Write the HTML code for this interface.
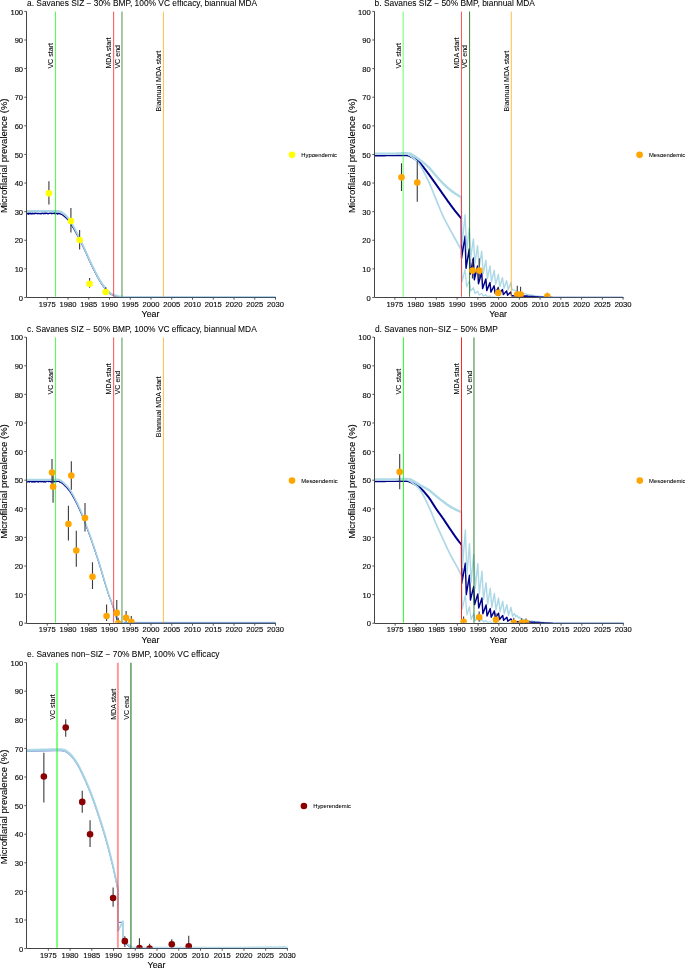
<!DOCTYPE html>
<html><head><meta charset="utf-8"><title>Microfilarial prevalence</title>
<style>
html,body{margin:0;padding:0;background:#fff;}
body{width:685px;height:968px;overflow:hidden;}
svg{display:block;will-change:transform;font-family:"Liberation Sans",sans-serif;}
text{stroke:#000;stroke-width:0.06px;}
.tk{stroke-width:0.15px;}
.at{stroke-width:0.1px;}
</style></head><body>
<svg width="685" height="968" viewBox="0 0 685 968">
<rect width="685" height="968" fill="#fff"/>
<clipPath id="cp1"><rect x="21.50" y="-0.60" width="329.00" height="297.38"/></clipPath>
<g clip-path="url(#cp1)">
<path d="M26.50 212.89 L26.91 213.65 L27.33 213.63 L27.74 213.81 L28.16 213.15 L28.57 214.23 L28.99 212.84 L29.40 213.71 L29.82 213.33 L30.23 213.53 L30.65 212.94 L31.06 214.15 L31.48 213.55 L31.89 213.58 L32.31 213.05 L32.72 213.82 L33.14 213.50 L33.55 213.75 L33.97 213.43 L34.38 213.24 L34.80 213.82 L35.21 213.05 L35.63 213.13 L36.04 213.27 L36.46 213.13 L36.87 213.68 L37.29 213.49 L37.70 213.77 L38.12 213.54 L38.53 213.26 L38.95 213.68 L39.36 213.58 L39.78 213.68 L40.19 213.73 L40.61 213.67 L41.02 213.45 L41.44 213.83 L41.85 213.36 L42.27 212.87 L42.68 213.19 L43.10 213.51 L43.51 213.75 L43.93 213.70 L44.34 212.86 L44.76 213.43 L45.17 213.66 L45.59 213.38 L46.00 212.72 L46.42 213.40 L46.83 213.23 L47.25 213.34 L47.66 213.56 L48.08 213.84 L48.49 213.56 L48.91 213.52 L49.32 213.24 L49.74 213.16 L50.15 213.12 L50.57 213.35 L50.98 213.14 L51.40 213.70 L51.81 213.01 L52.23 213.27 L52.64 213.55 L53.06 213.28 L53.47 213.47 L53.89 213.06 L54.30 212.92 L54.72 212.69 L55.13 213.92 L55.55 213.94 L55.96 213.62 L56.38 213.39 L56.79 213.14 L57.21 213.34 L57.62 214.14 L58.04 213.55 L58.45 213.18 L58.87 213.45 L59.28 213.37 L59.70 213.82 L60.11 213.87 L60.53 213.99 L60.94 214.13 L61.36 214.31 L61.77 214.53 L62.19 214.77 L62.60 215.03 L63.02 215.31 L63.43 215.60 L63.85 215.89 L64.26 216.20 L64.68 216.53 L65.09 216.88 L65.51 217.25 L65.92 217.64 L66.34 218.05 L66.75 218.47 L67.17 218.92 L67.58 219.38 L68.00 219.86 L68.41 220.35 L68.83 220.89 L69.24 221.46 L69.66 222.07 L70.07 222.70 L70.49 223.35 L70.90 224.02 L71.32 224.68 L71.73 225.34 L72.15 226.01 L72.56 226.67 L72.98 227.34 L73.39 228.02 L73.81 228.72 L74.22 229.43 L74.64 230.15 L75.05 230.88 L75.47 231.62 L75.88 232.36 L76.30 233.11 L76.71 233.87 L77.13 234.63 L77.54 235.41 L77.96 236.19 L78.37 236.98 L78.79 237.78 L79.20 238.59 L79.62 239.40 L80.03 240.22 L80.45 241.04 L80.86 241.87 L81.28 242.69 L81.69 243.52 L82.11 244.35 L82.52 245.19 L82.94 246.07 L83.35 246.96 L83.77 247.85 L84.18 248.75 L84.60 249.65 L85.01 250.55 L85.43 251.46 L85.84 252.37 L86.26 253.30 L86.67 254.24 L87.09 255.18 L87.50 256.13 L87.92 257.09 L88.33 258.04 L88.75 258.98 L89.16 259.91 L89.58 260.83 L89.99 261.73 L90.41 262.61 L90.82 263.49 L91.24 264.35 L91.65 265.21 L92.07 266.06 L92.48 266.91 L92.90 267.75 L93.31 268.58 L93.73 269.40 L94.14 270.23 L94.56 271.04 L94.97 271.85 L95.39 272.67 L95.80 273.48 L96.22 274.29 L96.63 275.10 L97.05 275.90 L97.46 276.69 L97.88 277.46 L98.29 278.22 L98.71 278.96 L99.12 279.67 L99.54 280.37 L99.95 281.05 L100.37 281.72 L100.78 282.37 L101.20 283.02 L101.61 283.65 L102.03 284.27 L102.44 284.87 L102.86 285.47 L103.27 286.05 L103.69 286.61 L104.10 287.17 L104.52 287.72 L104.93 288.27 L105.35 288.82 L105.76 289.35 L106.18 289.88 L106.59 290.39 L107.01 290.87 L107.42 291.33 L107.84 291.75 L108.25 292.14 L108.67 292.48 L109.08 292.81 L109.50 293.12 L109.91 293.42 L110.33 293.70 L110.74 293.97 L111.16 294.23 L111.57 294.47 L111.99 294.70 L112.40 294.92 L112.82 295.12 L113.23 295.31 L113.65 295.49 L114.06 295.66 L114.48 295.83 L114.89 295.99 L115.31 296.14 L115.72 296.29 L116.14 296.42 L116.55 296.55 L116.97 296.67 L117.38 296.78 L117.80 296.88 L118.21 296.97 L118.63 297.06 L119.04 297.15 L119.46 297.23 L119.87 297.31 L120.29 297.38 L120.70 297.44 L121.12 297.50 L121.53 297.50 L121.95 297.50 L122.36 297.50 L122.78 297.50 L123.19 297.50 L123.61 297.50 L124.02 297.50 L124.44 297.50 L124.85 297.50 L125.27 297.50 L125.68 297.50 L126.10 297.50 L126.51 297.50 L126.93 297.50 L127.34 297.50 L127.76 297.50 L128.17 297.50 L128.59 297.50 L129.00 297.50 L129.42 297.50 L129.83 297.50 L130.25 297.50 L130.66 297.50 L131.08 297.50 L131.49 297.50 L131.91 297.50 L132.32 297.50 L132.74 297.50 L133.15 297.50 L133.57 297.50 L133.98 297.50 L134.40 297.50 L134.81 297.50 L135.23 297.50 L135.64 297.50 L136.06 297.50 L136.47 297.50 L136.89 297.50 L137.30 297.50 L137.72 297.50 L138.13 297.50 L138.55 297.50 L138.96 297.50 L139.38 297.50 L139.79 297.50 L140.21 297.50 L140.62 297.50 L141.04 297.50 L141.45 297.50 L141.87 297.50 L142.28 297.50 L142.70 297.50 L143.11 297.50 L143.53 297.50 L143.94 297.50 L144.36 297.50 L144.77 297.50 L145.19 297.50 L145.60 297.50 L146.02 297.50 L146.43 297.50 L146.85 297.50 L147.26 297.50 L147.68 297.50 L148.09 297.50 L148.51 297.50 L148.92 297.50 L149.34 297.50 L149.75 297.50 L150.17 297.50 L150.58 297.50 L151.00 297.50 L151.41 297.50 L151.83 297.50 L152.24 297.50 L152.66 297.50 L153.07 297.50 L153.49 297.50 L153.90 297.50 L154.32 297.50 L154.73 297.50 L155.15 297.50 L155.56 297.50 L155.98 297.50 L156.39 297.50 L156.81 297.50 L157.22 297.50 L157.64 297.50 L158.05 297.50 L158.47 297.50 L158.88 297.50 L159.30 297.50 L159.71 297.50 L160.13 297.50 L160.54 297.50 L160.96 297.50 L161.37 297.50 L161.79 297.50 L162.20 297.50 L162.62 297.50 L163.03 297.50 L163.45 297.50 L163.86 297.50 L164.28 297.50 L164.69 297.50 L165.11 297.50 L165.52 297.50 L165.94 297.50 L166.35 297.50 L166.77 297.50 L167.18 297.50 L167.60 297.50 L168.01 297.50 L168.43 297.50 L168.84 297.50 L169.26 297.50 L169.67 297.50 L170.09 297.50 L170.50 297.50 L170.92 297.50 L171.33 297.50 L171.75 297.50 L172.16 297.50 L172.58 297.50 L172.99 297.50 L173.41 297.50 L173.82 297.50 L174.24 297.50 L174.65 297.50 L175.07 297.50 L175.48 297.50 L175.90 297.50 L176.31 297.50 L176.73 297.50 L177.14 297.50 L177.56 297.50 L177.97 297.50 L178.39 297.50 L178.80 297.50 L179.22 297.50 L179.63 297.50 L180.05 297.50 L180.46 297.50 L180.88 297.50 L181.29 297.50 L181.71 297.50 L182.12 297.50 L182.54 297.50 L182.95 297.50 L183.37 297.50 L183.78 297.50 L184.20 297.50 L184.61 297.50 L185.03 297.50 L185.44 297.50 L185.86 297.50 L186.27 297.50 L186.69 297.50 L187.10 297.50 L187.52 297.50 L187.93 297.50 L188.35 297.50 L188.76 297.50 L189.18 297.50 L189.59 297.50 L190.01 297.50 L190.42 297.50 L190.84 297.50 L191.25 297.50 L191.67 297.50 L192.08 297.50 L192.50 297.50 L192.91 297.50 L193.33 297.50 L193.74 297.50 L194.16 297.50 L194.57 297.50 L194.99 297.50 L195.40 297.50 L195.82 297.50 L196.23 297.50 L196.65 297.50 L197.06 297.50 L197.48 297.50 L197.89 297.50 L198.31 297.50 L198.72 297.50 L199.14 297.50 L199.55 297.50 L199.97 297.50 L200.38 297.50 L200.80 297.50 L201.21 297.50 L201.63 297.50 L202.04 297.50 L202.46 297.50 L202.87 297.50 L203.29 297.50 L203.70 297.50 L204.12 297.50 L204.53 297.50 L204.95 297.50 L205.36 297.50 L205.78 297.50 L206.19 297.50 L206.61 297.50 L207.02 297.50 L207.44 297.50 L207.85 297.50 L208.27 297.50 L208.68 297.50 L209.10 297.50 L209.51 297.50 L209.93 297.50 L210.34 297.50 L210.76 297.50 L211.17 297.50 L211.59 297.50 L212.00 297.50 L212.42 297.50 L212.83 297.50 L213.25 297.50 L213.66 297.50 L214.08 297.50 L214.49 297.50 L214.91 297.50 L215.32 297.50 L215.74 297.50 L216.15 297.50 L216.57 297.50 L216.98 297.50 L217.40 297.50 L217.81 297.50 L218.23 297.50 L218.64 297.50 L219.06 297.50 L219.47 297.50 L219.89 297.50 L220.30 297.50 L220.72 297.50 L221.13 297.50 L221.55 297.50 L221.96 297.50 L222.38 297.50 L222.79 297.50 L223.21 297.50 L223.62 297.50 L224.04 297.50 L224.45 297.50 L224.87 297.50 L225.28 297.50 L225.70 297.50 L226.11 297.50 L226.53 297.50 L226.94 297.50 L227.36 297.50 L227.77 297.50 L228.19 297.50 L228.60 297.50 L229.02 297.50 L229.43 297.50 L229.85 297.50 L230.26 297.50 L230.68 297.50 L231.09 297.50 L231.51 297.50 L231.92 297.50 L232.34 297.50 L232.75 297.50 L233.17 297.50 L233.58 297.50 L234.00 297.50 L234.41 297.50 L234.83 297.50 L235.24 297.50 L235.66 297.50 L236.07 297.50 L236.49 297.50 L236.90 297.50 L237.32 297.50 L237.73 297.50 L238.15 297.50 L238.56 297.50 L238.98 297.50 L239.39 297.50 L239.81 297.50 L240.22 297.50 L240.64 297.50 L241.05 297.50 L241.47 297.50 L241.88 297.50 L242.30 297.50 L242.71 297.50 L243.13 297.50 L243.54 297.50 L243.96 297.50 L244.37 297.50 L244.79 297.50 L245.20 297.50 L245.62 297.50 L246.03 297.50 L246.45 297.50 L246.86 297.50 L247.28 297.50 L247.69 297.50 L248.11 297.50 L248.52 297.50 L248.94 297.50 L249.35 297.50 L249.77 297.50 L250.18 297.50 L250.60 297.50 L251.01 297.50 L251.43 297.50 L251.84 297.50 L252.26 297.50 L252.67 297.50 L253.09 297.50 L253.50 297.50 L253.92 297.50 L254.33 297.50 L254.75 297.50 L255.16 297.50 L255.58 297.50 L255.99 297.50 L256.41 297.50 L256.82 297.50 L257.24 297.50 L257.65 297.50 L258.07 297.50 L258.48 297.50 L258.90 297.50 L259.31 297.50 L259.73 297.50 L260.14 297.50 L260.56 297.50 L260.97 297.50 L261.39 297.50 L261.80 297.50 L262.22 297.50 L262.63 297.50 L263.05 297.50 L263.46 297.50 L263.88 297.50 L264.29 297.50 L264.71 297.50 L265.12 297.50 L265.54 297.50 L265.95 297.50 L266.37 297.50 L266.78 297.50 L267.20 297.50 L267.61 297.50 L268.03 297.50 L268.44 297.50 L268.86 297.50 L269.27 297.50 L269.69 297.50 L270.10 297.50 L270.52 297.50 L270.93 297.50 L271.35 297.50 L271.76 297.50 L272.18 297.50 L272.59 297.50 L273.01 297.50 L273.42 297.50 L273.84 297.50 L274.25 297.50 L274.67 297.50 L275.08 297.50 L275.50 297.50" fill="none" stroke="#00008b" stroke-width="1.35" stroke-linejoin="round" />
<path d="M26.50 210.81 L26.91 210.81 L27.33 210.81 L27.74 210.81 L28.16 210.81 L28.57 210.81 L28.99 210.81 L29.40 210.81 L29.82 210.81 L30.23 210.81 L30.65 210.81 L31.06 210.81 L31.48 210.81 L31.89 210.81 L32.31 210.81 L32.72 210.81 L33.14 210.81 L33.55 210.81 L33.97 210.81 L34.38 210.81 L34.80 210.81 L35.21 210.81 L35.63 210.81 L36.04 210.81 L36.46 210.81 L36.87 210.81 L37.29 210.81 L37.70 210.81 L38.12 210.81 L38.53 210.81 L38.95 210.81 L39.36 210.81 L39.78 210.81 L40.19 210.81 L40.61 210.81 L41.02 210.81 L41.44 210.81 L41.85 210.81 L42.27 210.81 L42.68 210.81 L43.10 210.81 L43.51 210.81 L43.93 210.81 L44.34 210.81 L44.76 210.81 L45.17 210.81 L45.59 210.81 L46.00 210.81 L46.42 210.81 L46.83 210.81 L47.25 210.81 L47.66 210.81 L48.08 210.81 L48.49 210.81 L48.91 210.81 L49.32 210.81 L49.74 210.81 L50.15 210.81 L50.57 210.81 L50.98 210.81 L51.40 210.81 L51.81 210.81 L52.23 210.81 L52.64 210.81 L53.06 210.81 L53.47 210.81 L53.89 210.81 L54.30 210.81 L54.72 210.81 L55.13 210.81 L55.55 210.81 L55.96 210.81 L56.38 210.81 L56.79 210.81 L57.21 210.81 L57.62 210.81 L58.04 210.81 L58.45 210.84 L58.87 210.90 L59.28 211.00 L59.70 211.12 L60.11 211.25 L60.53 211.38 L60.94 211.54 L61.36 211.73 L61.77 211.96 L62.19 212.21 L62.60 212.49 L63.02 212.78 L63.43 213.08 L63.85 213.39 L64.26 213.71 L64.68 214.05 L65.09 214.41 L65.51 214.79 L65.92 215.20 L66.34 215.62 L66.75 216.06 L67.17 216.51 L67.58 216.99 L68.00 217.48 L68.41 217.99 L68.83 218.54 L69.24 219.12 L69.66 219.74 L70.07 220.39 L70.49 221.05 L70.90 221.74 L71.32 222.43 L71.73 223.14 L72.15 223.84 L72.56 224.54 L72.98 225.25 L73.39 225.98 L73.81 226.71 L74.22 227.46 L74.64 228.23 L75.05 229.00 L75.47 229.78 L75.88 230.56 L76.30 231.36 L76.71 232.15 L77.13 232.96 L77.54 233.77 L77.96 234.59 L78.37 235.43 L78.79 236.27 L79.20 237.12 L79.62 237.97 L80.03 238.83 L80.45 239.69 L80.86 240.56 L81.28 241.42 L81.69 242.29 L82.11 243.17 L82.52 244.05 L82.94 244.93 L83.35 245.82 L83.77 246.71 L84.18 247.61 L84.60 248.51 L85.01 249.41 L85.43 250.32 L85.84 251.23 L86.26 252.16 L86.67 253.10 L87.09 254.05 L87.50 255.00 L87.92 255.95 L88.33 256.90 L88.75 257.84 L89.16 258.78 L89.58 259.69 L89.99 260.59 L90.41 261.48 L90.82 262.35 L91.24 263.22 L91.65 264.08 L92.07 264.93 L92.48 265.78 L92.90 266.62 L93.31 267.45 L93.73 268.28 L94.14 269.10 L94.56 269.91 L94.97 270.73 L95.39 271.54 L95.80 272.36 L96.22 273.17 L96.63 273.98 L97.05 274.78 L97.46 275.56 L97.88 276.34 L98.29 277.10 L98.71 277.84 L99.12 278.55 L99.54 279.25 L99.95 279.93 L100.37 280.60 L100.78 281.26 L101.20 281.90 L101.61 282.53 L102.03 283.15 L102.44 283.76 L102.86 284.35 L103.27 284.93 L103.69 285.50 L104.10 286.06 L104.52 286.61 L104.93 287.16 L105.35 287.71 L105.76 288.24 L106.18 288.77 L106.59 289.28 L107.01 289.76 L107.42 290.22 L107.84 290.64 L108.25 291.03 L108.67 291.38 L109.08 291.70 L109.50 292.02 L109.91 292.31 L110.33 292.60 L110.74 292.87 L111.16 293.13 L111.57 293.37 L111.99 293.60 L112.40 293.82 L112.82 294.02 L113.23 294.21 L113.65 294.39 L114.06 294.57 L114.48 294.73 L114.89 294.89 L115.31 295.05 L115.72 295.19 L116.14 295.33 L116.55 295.46 L116.97 295.57 L117.38 295.68 L117.80 295.78 L118.21 295.88 L118.63 295.97 L119.04 296.06 L119.46 296.14 L119.87 296.22 L120.29 296.29 L120.70 296.35 L121.12 296.41 L121.53 296.46 L121.95 296.50 L122.36 296.53 L122.78 296.57 L123.19 296.60 L123.61 296.62 L124.02 296.64 L124.44 296.64 L124.85 296.64 L125.27 296.64 L125.68 296.64 L126.10 296.64 L126.51 296.64 L126.93 296.64 L127.34 296.64 L127.76 296.64 L128.17 296.64 L128.59 296.64 L129.00 296.64 L129.42 296.64 L129.83 296.64 L130.25 296.64 L130.66 296.64 L131.08 296.64 L131.49 296.64 L131.91 296.64 L132.32 296.64 L132.74 296.64 L133.15 296.64 L133.57 296.64 L133.98 296.64 L134.40 296.64 L134.81 296.64 L135.23 296.64 L135.64 296.64 L136.06 296.64 L136.47 296.64 L136.89 296.64 L137.30 296.64 L137.72 296.64 L138.13 296.64 L138.55 296.64 L138.96 296.64 L139.38 296.64 L139.79 296.64 L140.21 296.64 L140.62 296.64 L141.04 296.64 L141.45 296.64 L141.87 296.64 L142.28 296.64 L142.70 296.64 L143.11 296.64 L143.53 296.64 L143.94 296.64 L144.36 296.64 L144.77 296.64 L145.19 296.64 L145.60 296.64 L146.02 296.64 L146.43 296.64 L146.85 296.64 L147.26 296.64 L147.68 296.64 L148.09 296.64 L148.51 296.64 L148.92 296.64 L149.34 296.64 L149.75 296.64 L150.17 296.64 L150.58 296.64 L151.00 296.64 L151.41 296.64 L151.83 296.64 L152.24 296.64 L152.66 296.64 L153.07 296.64 L153.49 296.64 L153.90 296.64 L154.32 296.64 L154.73 296.64 L155.15 296.64 L155.56 296.64 L155.98 296.64 L156.39 296.64 L156.81 296.64 L157.22 296.64 L157.64 296.64 L158.05 296.64 L158.47 296.64 L158.88 296.64 L159.30 296.64 L159.71 296.64 L160.13 296.64 L160.54 296.64 L160.96 296.64 L161.37 296.64 L161.79 296.64 L162.20 296.64 L162.62 296.64 L163.03 296.64 L163.45 296.64 L163.86 296.64 L164.28 296.64 L164.69 296.64 L165.11 296.64 L165.52 296.64 L165.94 296.64 L166.35 296.64 L166.77 296.64 L167.18 296.64 L167.60 296.64 L168.01 296.64 L168.43 296.64 L168.84 296.64 L169.26 296.64 L169.67 296.64 L170.09 296.64 L170.50 296.64 L170.92 296.64 L171.33 296.64 L171.75 296.64 L172.16 296.64 L172.58 296.64 L172.99 296.64 L173.41 296.64 L173.82 296.64 L174.24 296.64 L174.65 296.64 L175.07 296.64 L175.48 296.64 L175.90 296.64 L176.31 296.64 L176.73 296.64 L177.14 296.64 L177.56 296.64 L177.97 296.64 L178.39 296.64 L178.80 296.64 L179.22 296.64 L179.63 296.64 L180.05 296.64 L180.46 296.64 L180.88 296.64 L181.29 296.64 L181.71 296.64 L182.12 296.64 L182.54 296.64 L182.95 296.64 L183.37 296.64 L183.78 296.64 L184.20 296.64 L184.61 296.64 L185.03 296.64 L185.44 296.64 L185.86 296.64 L186.27 296.64 L186.69 296.64 L187.10 296.64 L187.52 296.64 L187.93 296.64 L188.35 296.64 L188.76 296.64 L189.18 296.64 L189.59 296.64 L190.01 296.64 L190.42 296.64 L190.84 296.64 L191.25 296.64 L191.67 296.64 L192.08 296.64 L192.50 296.64 L192.91 296.64 L193.33 296.64 L193.74 296.64 L194.16 296.64 L194.57 296.64 L194.99 296.64 L195.40 296.64 L195.82 296.64 L196.23 296.64 L196.65 296.64 L197.06 296.64 L197.48 296.64 L197.89 296.64 L198.31 296.64 L198.72 296.64 L199.14 296.64 L199.55 296.64 L199.97 296.64 L200.38 296.64 L200.80 296.64 L201.21 296.64 L201.63 296.64 L202.04 296.64 L202.46 296.64 L202.87 296.64 L203.29 296.64 L203.70 296.64 L204.12 296.64 L204.53 296.64 L204.95 296.64 L205.36 296.64 L205.78 296.64 L206.19 296.64 L206.61 296.64 L207.02 296.64 L207.44 296.64 L207.85 296.64 L208.27 296.64 L208.68 296.64 L209.10 296.64 L209.51 296.64 L209.93 296.64 L210.34 296.64 L210.76 296.64 L211.17 296.64 L211.59 296.64 L212.00 296.64 L212.42 296.64 L212.83 296.64 L213.25 296.64 L213.66 296.64 L214.08 296.64 L214.49 296.64 L214.91 296.64 L215.32 296.64 L215.74 296.64 L216.15 296.64 L216.57 296.64 L216.98 296.64 L217.40 296.64 L217.81 296.64 L218.23 296.64 L218.64 296.64 L219.06 296.64 L219.47 296.64 L219.89 296.64 L220.30 296.64 L220.72 296.64 L221.13 296.64 L221.55 296.64 L221.96 296.64 L222.38 296.64 L222.79 296.64 L223.21 296.64 L223.62 296.64 L224.04 296.64 L224.45 296.64 L224.87 296.64 L225.28 296.64 L225.70 296.64 L226.11 296.64 L226.53 296.64 L226.94 296.64 L227.36 296.64 L227.77 296.64 L228.19 296.64 L228.60 296.64 L229.02 296.64 L229.43 296.64 L229.85 296.64 L230.26 296.64 L230.68 296.64 L231.09 296.64 L231.51 296.64 L231.92 296.64 L232.34 296.64 L232.75 296.64 L233.17 296.64 L233.58 296.64 L234.00 296.64 L234.41 296.64 L234.83 296.64 L235.24 296.64 L235.66 296.64 L236.07 296.64 L236.49 296.64 L236.90 296.64 L237.32 296.64 L237.73 296.64 L238.15 296.64 L238.56 296.64 L238.98 296.64 L239.39 296.64 L239.81 296.64 L240.22 296.64 L240.64 296.64 L241.05 296.64 L241.47 296.64 L241.88 296.64 L242.30 296.64 L242.71 296.64 L243.13 296.64 L243.54 296.64 L243.96 296.64 L244.37 296.64 L244.79 296.64 L245.20 296.64 L245.62 296.64 L246.03 296.64 L246.45 296.64 L246.86 296.64 L247.28 296.64 L247.69 296.64 L248.11 296.64 L248.52 296.64 L248.94 296.64 L249.35 296.64 L249.77 296.64 L250.18 296.64 L250.60 296.64 L251.01 296.64 L251.43 296.64 L251.84 296.64 L252.26 296.64 L252.67 296.64 L253.09 296.64 L253.50 296.64 L253.92 296.64 L254.33 296.64 L254.75 296.64 L255.16 296.64 L255.58 296.64 L255.99 296.64 L256.41 296.64 L256.82 296.64 L257.24 296.64 L257.65 296.64 L258.07 296.64 L258.48 296.64 L258.90 296.64 L259.31 296.64 L259.73 296.64 L260.14 296.64 L260.56 296.64 L260.97 296.64 L261.39 296.64 L261.80 296.64 L262.22 296.64 L262.63 296.64 L263.05 296.64 L263.46 296.64 L263.88 296.64 L264.29 296.64 L264.71 296.64 L265.12 296.64 L265.54 296.64 L265.95 296.64 L266.37 296.64 L266.78 296.64 L267.20 296.64 L267.61 296.64 L268.03 296.64 L268.44 296.64 L268.86 296.64 L269.27 296.64 L269.69 296.64 L270.10 296.64 L270.52 296.64 L270.93 296.64 L271.35 296.64 L271.76 296.64 L272.18 296.64 L272.59 296.64 L273.01 296.64 L273.42 296.64 L273.84 296.64 L274.25 296.64 L274.67 296.64 L275.08 296.64 L275.50 296.64" fill="none" stroke="#add8e6" stroke-width="1.50" stroke-linejoin="round" />
<path d="M26.50 211.81 L26.91 211.81 L27.33 211.81 L27.74 211.81 L28.16 211.81 L28.57 211.81 L28.99 211.81 L29.40 211.81 L29.82 211.81 L30.23 211.81 L30.65 211.81 L31.06 211.81 L31.48 211.81 L31.89 211.81 L32.31 211.81 L32.72 211.81 L33.14 211.81 L33.55 211.81 L33.97 211.81 L34.38 211.81 L34.80 211.81 L35.21 211.81 L35.63 211.81 L36.04 211.81 L36.46 211.81 L36.87 211.81 L37.29 211.81 L37.70 211.81 L38.12 211.81 L38.53 211.81 L38.95 211.81 L39.36 211.81 L39.78 211.81 L40.19 211.81 L40.61 211.81 L41.02 211.81 L41.44 211.81 L41.85 211.81 L42.27 211.81 L42.68 211.81 L43.10 211.81 L43.51 211.81 L43.93 211.81 L44.34 211.81 L44.76 211.81 L45.17 211.81 L45.59 211.81 L46.00 211.81 L46.42 211.81 L46.83 211.81 L47.25 211.81 L47.66 211.81 L48.08 211.81 L48.49 211.81 L48.91 211.81 L49.32 211.81 L49.74 211.81 L50.15 211.81 L50.57 211.81 L50.98 211.81 L51.40 211.81 L51.81 211.81 L52.23 211.81 L52.64 211.81 L53.06 211.81 L53.47 211.81 L53.89 211.81 L54.30 211.81 L54.72 211.81 L55.13 211.81 L55.55 211.81 L55.96 211.81 L56.38 211.81 L56.79 211.81 L57.21 211.81 L57.62 211.81 L58.04 211.81 L58.45 211.84 L58.87 211.90 L59.28 212.00 L59.70 212.12 L60.11 212.25 L60.53 212.39 L60.94 212.54 L61.36 212.73 L61.77 212.96 L62.19 213.21 L62.60 213.49 L63.02 213.78 L63.43 214.08 L63.85 214.39 L64.26 214.71 L64.68 215.05 L65.09 215.41 L65.51 215.79 L65.92 216.20 L66.34 216.62 L66.75 217.06 L67.17 217.52 L67.58 217.99 L68.00 218.48 L68.41 218.99 L68.83 219.54 L69.24 220.12 L69.66 220.74 L70.07 221.39 L70.49 222.05 L70.90 222.74 L71.32 223.43 L71.73 224.14 L72.15 224.84 L72.56 225.55 L72.98 226.25 L73.39 226.98 L73.81 227.72 L74.22 228.47 L74.64 229.23 L75.05 230.00 L75.47 230.78 L75.88 231.56 L76.30 232.36 L76.71 233.16 L77.13 233.96 L77.54 234.77 L77.96 235.60 L78.37 236.43 L78.79 237.27 L79.20 238.12 L79.62 238.97 L80.03 239.83 L80.45 240.69 L80.86 241.56 L81.28 242.43 L81.69 243.30 L82.11 244.17 L82.52 245.05 L82.94 245.93 L83.35 246.82 L83.77 247.71 L84.18 248.61 L84.60 249.51 L85.01 250.41 L85.43 251.32 L85.84 252.23 L86.26 253.16 L86.67 254.10 L87.09 255.05 L87.50 256.00 L87.92 256.95 L88.33 257.90 L88.75 258.84 L89.16 259.78 L89.58 260.69 L89.99 261.59 L90.41 262.48 L90.82 263.36 L91.24 264.22 L91.65 265.08 L92.07 265.94 L92.48 266.78 L92.90 267.62 L93.31 268.45 L93.73 269.28 L94.14 270.10 L94.56 270.92 L94.97 271.73 L95.39 272.54 L95.80 273.36 L96.22 274.17 L96.63 274.98 L97.05 275.78 L97.46 276.57 L97.88 277.34 L98.29 278.10 L98.71 278.84 L99.12 279.56 L99.54 280.25 L99.95 280.93 L100.37 281.60 L100.78 282.26 L101.20 282.90 L101.61 283.53 L102.03 284.15 L102.44 284.76 L102.86 285.35 L103.27 285.94 L103.69 286.50 L104.10 287.06 L104.52 287.61 L104.93 288.16 L105.35 288.71 L105.76 289.25 L106.18 289.77 L106.59 290.28 L107.01 290.77 L107.42 291.22 L107.84 291.65 L108.25 292.03 L108.67 292.38 L109.08 292.70 L109.50 293.02 L109.91 293.32 L110.33 293.60 L110.74 293.87 L111.16 294.13 L111.57 294.37 L111.99 294.60 L112.40 294.82 L112.82 295.02 L113.23 295.21 L113.65 295.39 L114.06 295.57 L114.48 295.73 L114.89 295.90 L115.31 296.05 L115.72 296.19 L116.14 296.33 L116.55 296.46 L116.97 296.58 L117.38 296.68 L117.80 296.78 L118.21 296.88 L118.63 296.97 L119.04 297.06 L119.46 297.14 L119.87 297.22 L120.29 297.29 L120.70 297.35 L121.12 297.41 L121.53 297.46 L121.95 297.50 L122.36 297.50 L122.78 297.50 L123.19 297.50 L123.61 297.50 L124.02 297.50 L124.44 297.50 L124.85 297.50 L125.27 297.50 L125.68 297.50 L126.10 297.50 L126.51 297.50 L126.93 297.50 L127.34 297.50 L127.76 297.50 L128.17 297.50 L128.59 297.50 L129.00 297.50 L129.42 297.50 L129.83 297.50 L130.25 297.50 L130.66 297.50 L131.08 297.50 L131.49 297.50 L131.91 297.50 L132.32 297.50 L132.74 297.50 L133.15 297.50 L133.57 297.50 L133.98 297.50 L134.40 297.50 L134.81 297.50 L135.23 297.50 L135.64 297.50 L136.06 297.50 L136.47 297.50 L136.89 297.50 L137.30 297.50 L137.72 297.50 L138.13 297.50 L138.55 297.50 L138.96 297.50 L139.38 297.50 L139.79 297.50 L140.21 297.50 L140.62 297.50 L141.04 297.50 L141.45 297.50 L141.87 297.50 L142.28 297.50 L142.70 297.50 L143.11 297.50 L143.53 297.50 L143.94 297.50 L144.36 297.50 L144.77 297.50 L145.19 297.50 L145.60 297.50 L146.02 297.50 L146.43 297.50 L146.85 297.50 L147.26 297.50 L147.68 297.50 L148.09 297.50 L148.51 297.50 L148.92 297.50 L149.34 297.50 L149.75 297.50 L150.17 297.50 L150.58 297.50 L151.00 297.50 L151.41 297.50 L151.83 297.50 L152.24 297.50 L152.66 297.50 L153.07 297.50 L153.49 297.50 L153.90 297.50 L154.32 297.50 L154.73 297.50 L155.15 297.50 L155.56 297.50 L155.98 297.50 L156.39 297.50 L156.81 297.50 L157.22 297.50 L157.64 297.50 L158.05 297.50 L158.47 297.50 L158.88 297.50 L159.30 297.50 L159.71 297.50 L160.13 297.50 L160.54 297.50 L160.96 297.50 L161.37 297.50 L161.79 297.50 L162.20 297.50 L162.62 297.50 L163.03 297.50 L163.45 297.50 L163.86 297.50 L164.28 297.50 L164.69 297.50 L165.11 297.50 L165.52 297.50 L165.94 297.50 L166.35 297.50 L166.77 297.50 L167.18 297.50 L167.60 297.50 L168.01 297.50 L168.43 297.50 L168.84 297.50 L169.26 297.50 L169.67 297.50 L170.09 297.50 L170.50 297.50 L170.92 297.50 L171.33 297.50 L171.75 297.50 L172.16 297.50 L172.58 297.50 L172.99 297.50 L173.41 297.50 L173.82 297.50 L174.24 297.50 L174.65 297.50 L175.07 297.50 L175.48 297.50 L175.90 297.50 L176.31 297.50 L176.73 297.50 L177.14 297.50 L177.56 297.50 L177.97 297.50 L178.39 297.50 L178.80 297.50 L179.22 297.50 L179.63 297.50 L180.05 297.50 L180.46 297.50 L180.88 297.50 L181.29 297.50 L181.71 297.50 L182.12 297.50 L182.54 297.50 L182.95 297.50 L183.37 297.50 L183.78 297.50 L184.20 297.50 L184.61 297.50 L185.03 297.50 L185.44 297.50 L185.86 297.50 L186.27 297.50 L186.69 297.50 L187.10 297.50 L187.52 297.50 L187.93 297.50 L188.35 297.50 L188.76 297.50 L189.18 297.50 L189.59 297.50 L190.01 297.50 L190.42 297.50 L190.84 297.50 L191.25 297.50 L191.67 297.50 L192.08 297.50 L192.50 297.50 L192.91 297.50 L193.33 297.50 L193.74 297.50 L194.16 297.50 L194.57 297.50 L194.99 297.50 L195.40 297.50 L195.82 297.50 L196.23 297.50 L196.65 297.50 L197.06 297.50 L197.48 297.50 L197.89 297.50 L198.31 297.50 L198.72 297.50 L199.14 297.50 L199.55 297.50 L199.97 297.50 L200.38 297.50 L200.80 297.50 L201.21 297.50 L201.63 297.50 L202.04 297.50 L202.46 297.50 L202.87 297.50 L203.29 297.50 L203.70 297.50 L204.12 297.50 L204.53 297.50 L204.95 297.50 L205.36 297.50 L205.78 297.50 L206.19 297.50 L206.61 297.50 L207.02 297.50 L207.44 297.50 L207.85 297.50 L208.27 297.50 L208.68 297.50 L209.10 297.50 L209.51 297.50 L209.93 297.50 L210.34 297.50 L210.76 297.50 L211.17 297.50 L211.59 297.50 L212.00 297.50 L212.42 297.50 L212.83 297.50 L213.25 297.50 L213.66 297.50 L214.08 297.50 L214.49 297.50 L214.91 297.50 L215.32 297.50 L215.74 297.50 L216.15 297.50 L216.57 297.50 L216.98 297.50 L217.40 297.50 L217.81 297.50 L218.23 297.50 L218.64 297.50 L219.06 297.50 L219.47 297.50 L219.89 297.50 L220.30 297.50 L220.72 297.50 L221.13 297.50 L221.55 297.50 L221.96 297.50 L222.38 297.50 L222.79 297.50 L223.21 297.50 L223.62 297.50 L224.04 297.50 L224.45 297.50 L224.87 297.50 L225.28 297.50 L225.70 297.50 L226.11 297.50 L226.53 297.50 L226.94 297.50 L227.36 297.50 L227.77 297.50 L228.19 297.50 L228.60 297.50 L229.02 297.50 L229.43 297.50 L229.85 297.50 L230.26 297.50 L230.68 297.50 L231.09 297.50 L231.51 297.50 L231.92 297.50 L232.34 297.50 L232.75 297.50 L233.17 297.50 L233.58 297.50 L234.00 297.50 L234.41 297.50 L234.83 297.50 L235.24 297.50 L235.66 297.50 L236.07 297.50 L236.49 297.50 L236.90 297.50 L237.32 297.50 L237.73 297.50 L238.15 297.50 L238.56 297.50 L238.98 297.50 L239.39 297.50 L239.81 297.50 L240.22 297.50 L240.64 297.50 L241.05 297.50 L241.47 297.50 L241.88 297.50 L242.30 297.50 L242.71 297.50 L243.13 297.50 L243.54 297.50 L243.96 297.50 L244.37 297.50 L244.79 297.50 L245.20 297.50 L245.62 297.50 L246.03 297.50 L246.45 297.50 L246.86 297.50 L247.28 297.50 L247.69 297.50 L248.11 297.50 L248.52 297.50 L248.94 297.50 L249.35 297.50 L249.77 297.50 L250.18 297.50 L250.60 297.50 L251.01 297.50 L251.43 297.50 L251.84 297.50 L252.26 297.50 L252.67 297.50 L253.09 297.50 L253.50 297.50 L253.92 297.50 L254.33 297.50 L254.75 297.50 L255.16 297.50 L255.58 297.50 L255.99 297.50 L256.41 297.50 L256.82 297.50 L257.24 297.50 L257.65 297.50 L258.07 297.50 L258.48 297.50 L258.90 297.50 L259.31 297.50 L259.73 297.50 L260.14 297.50 L260.56 297.50 L260.97 297.50 L261.39 297.50 L261.80 297.50 L262.22 297.50 L262.63 297.50 L263.05 297.50 L263.46 297.50 L263.88 297.50 L264.29 297.50 L264.71 297.50 L265.12 297.50 L265.54 297.50 L265.95 297.50 L266.37 297.50 L266.78 297.50 L267.20 297.50 L267.61 297.50 L268.03 297.50 L268.44 297.50 L268.86 297.50 L269.27 297.50 L269.69 297.50 L270.10 297.50 L270.52 297.50 L270.93 297.50 L271.35 297.50 L271.76 297.50 L272.18 297.50 L272.59 297.50 L273.01 297.50 L273.42 297.50 L273.84 297.50 L274.25 297.50 L274.67 297.50 L275.08 297.50 L275.50 297.50" fill="none" stroke="#a3cfe4" stroke-width="1.40" stroke-linejoin="round" />
<path d="M121.95 297.50 L275.50 297.50" fill="none" stroke="#00008b" stroke-width="0.90" stroke-linejoin="round" />
<path d="M55.55 11.60 V298.50" stroke="#00ff00" stroke-width="1.00" stroke-opacity="0.72"/>
<text transform="translate(53.35 68.62) rotate(-90)" font-size="7.10" fill="#000">VC start</text>
<path d="M113.65 11.60 V298.50" stroke="#ff0000" stroke-width="1.00" stroke-opacity="0.70"/>
<text transform="translate(111.45 68.62) rotate(-90)" font-size="7.10" fill="#000">MDA start</text>
<path d="M121.95 11.60 V298.50" stroke="#006400" stroke-width="1.75" stroke-opacity="0.40"/>
<text transform="translate(119.75 68.62) rotate(-90)" font-size="7.10" fill="#000">VC end</text>
<path d="M163.45 11.60 V298.50" stroke="#ffa500" stroke-width="1.00" stroke-opacity="0.70"/>
<text transform="translate(161.25 111.53) rotate(-90)" font-size="7.10" fill="#000">Biannual MDA start</text>
<path d="M48.91 181.34 V204.52" stroke="#3a3a3a" stroke-width="1.1"/>
<path d="M70.91 207.95 V232.56" stroke="#3a3a3a" stroke-width="1.1"/>
<path d="M79.62 229.98 V249.44" stroke="#3a3a3a" stroke-width="1.1"/>
<path d="M89.58 278.05 V287.77" stroke="#3a3a3a" stroke-width="1.1"/>
<path d="M105.76 287.20 V294.64" stroke="#3a3a3a" stroke-width="1.1"/>
<circle cx="48.91" cy="193.36" r="3.30" fill="#ffff00"/>
<circle cx="70.91" cy="221.11" r="3.30" fill="#ffff00"/>
<circle cx="79.62" cy="239.99" r="3.30" fill="#ffff00"/>
<circle cx="89.58" cy="283.77" r="3.30" fill="#ffff00"/>
<circle cx="105.76" cy="292.06" r="3.30" fill="#ffff00"/>
</g>
<path d="M26.50 11.20 V297.50 H275.90" fill="none" stroke="#444" stroke-width="1"/>
<path d="M26.00 297.50 h-1.7" stroke="#444" stroke-width="0.9"/>
<text x="23.10" y="300.70" font-size="7.60" text-anchor="end" fill="#111" class="tk">0</text>
<path d="M26.00 268.89 h-1.7" stroke="#444" stroke-width="0.9"/>
<text x="23.10" y="272.09" font-size="7.60" text-anchor="end" fill="#111" class="tk">10</text>
<path d="M26.00 240.28 h-1.7" stroke="#444" stroke-width="0.9"/>
<text x="23.10" y="243.48" font-size="7.60" text-anchor="end" fill="#111" class="tk">20</text>
<path d="M26.00 211.67 h-1.7" stroke="#444" stroke-width="0.9"/>
<text x="23.10" y="214.87" font-size="7.60" text-anchor="end" fill="#111" class="tk">30</text>
<path d="M26.00 183.06 h-1.7" stroke="#444" stroke-width="0.9"/>
<text x="23.10" y="186.26" font-size="7.60" text-anchor="end" fill="#111" class="tk">40</text>
<path d="M26.00 154.45 h-1.7" stroke="#444" stroke-width="0.9"/>
<text x="23.10" y="157.65" font-size="7.60" text-anchor="end" fill="#111" class="tk">50</text>
<path d="M26.00 125.84 h-1.7" stroke="#444" stroke-width="0.9"/>
<text x="23.10" y="129.04" font-size="7.60" text-anchor="end" fill="#111" class="tk">60</text>
<path d="M26.00 97.23 h-1.7" stroke="#444" stroke-width="0.9"/>
<text x="23.10" y="100.43" font-size="7.60" text-anchor="end" fill="#111" class="tk">70</text>
<path d="M26.00 68.62 h-1.7" stroke="#444" stroke-width="0.9"/>
<text x="23.10" y="71.82" font-size="7.60" text-anchor="end" fill="#111" class="tk">80</text>
<path d="M26.00 40.01 h-1.7" stroke="#444" stroke-width="0.9"/>
<text x="23.10" y="43.21" font-size="7.60" text-anchor="end" fill="#111" class="tk">90</text>
<path d="M26.00 11.40 h-1.7" stroke="#444" stroke-width="0.9"/>
<text x="23.10" y="14.60" font-size="7.60" text-anchor="end" fill="#111" class="tk">100</text>
<path d="M47.25 298.00 v1.7" stroke="#444" stroke-width="0.9"/>
<text x="47.25" y="306.75" font-size="7.60" text-anchor="middle" fill="#111" class="tk">1975</text>
<path d="M68.00 298.00 v1.7" stroke="#444" stroke-width="0.9"/>
<text x="68.00" y="306.75" font-size="7.60" text-anchor="middle" fill="#111" class="tk">1980</text>
<path d="M88.75 298.00 v1.7" stroke="#444" stroke-width="0.9"/>
<text x="88.75" y="306.75" font-size="7.60" text-anchor="middle" fill="#111" class="tk">1985</text>
<path d="M109.50 298.00 v1.7" stroke="#444" stroke-width="0.9"/>
<text x="109.50" y="306.75" font-size="7.60" text-anchor="middle" fill="#111" class="tk">1990</text>
<path d="M130.25 298.00 v1.7" stroke="#444" stroke-width="0.9"/>
<text x="130.25" y="306.75" font-size="7.60" text-anchor="middle" fill="#111" class="tk">1995</text>
<path d="M151.00 298.00 v1.7" stroke="#444" stroke-width="0.9"/>
<text x="151.00" y="306.75" font-size="7.60" text-anchor="middle" fill="#111" class="tk">2000</text>
<path d="M171.75 298.00 v1.7" stroke="#444" stroke-width="0.9"/>
<text x="171.75" y="306.75" font-size="7.60" text-anchor="middle" fill="#111" class="tk">2005</text>
<path d="M192.50 298.00 v1.7" stroke="#444" stroke-width="0.9"/>
<text x="192.50" y="306.75" font-size="7.60" text-anchor="middle" fill="#111" class="tk">2010</text>
<path d="M213.25 298.00 v1.7" stroke="#444" stroke-width="0.9"/>
<text x="213.25" y="306.75" font-size="7.60" text-anchor="middle" fill="#111" class="tk">2015</text>
<path d="M234.00 298.00 v1.7" stroke="#444" stroke-width="0.9"/>
<text x="234.00" y="306.75" font-size="7.60" text-anchor="middle" fill="#111" class="tk">2020</text>
<path d="M254.75 298.00 v1.7" stroke="#444" stroke-width="0.9"/>
<text x="254.75" y="306.75" font-size="7.60" text-anchor="middle" fill="#111" class="tk">2025</text>
<path d="M275.50 298.00 v1.7" stroke="#444" stroke-width="0.9"/>
<text x="275.50" y="306.75" font-size="7.60" text-anchor="middle" fill="#111" class="tk">2030</text>
<text x="150.50" y="316.80" font-size="8.80" text-anchor="middle" fill="#000" class="at">Year</text>
<text transform="translate(7.20 155.75) rotate(-90)" font-size="9.50" text-anchor="middle" fill="#000" class="at">Microfilarial prevalence (%)</text>
<text x="27.00" y="6.30" font-size="8.40" fill="#000">a. Savanes SIZ − 30% BMP, 100% VC efficacy, biannual MDA</text>
<path d="M121.95 297.50 H275.90" stroke="#415163" stroke-width="1"/>
<circle cx="292.00" cy="154.85" r="3.3" fill="#ffff00"/>
<text x="301.30" y="157.05" font-size="5.85" fill="#000">Hypoendemic</text>
<clipPath id="cp2"><rect x="369.10" y="-0.60" width="329.00" height="297.38"/></clipPath>
<g clip-path="url(#cp2)">
<path d="M374.10 155.74 L374.51 155.74 L374.93 155.74 L375.34 155.73 L375.76 155.73 L376.17 155.73 L376.59 155.73 L377.00 155.73 L377.42 155.73 L377.83 155.72 L378.25 155.72 L378.66 155.72 L379.08 155.72 L379.49 155.72 L379.91 155.71 L380.32 155.71 L380.74 155.71 L381.15 155.71 L381.57 155.70 L381.98 155.70 L382.40 155.70 L382.81 155.69 L383.23 155.69 L383.64 155.69 L384.06 155.69 L384.47 155.68 L384.89 155.68 L385.30 155.68 L385.72 155.67 L386.13 155.67 L386.55 155.67 L386.96 155.66 L387.38 155.66 L387.79 155.66 L388.21 155.65 L388.62 155.65 L389.04 155.65 L389.45 155.64 L389.87 155.64 L390.28 155.64 L390.70 155.63 L391.11 155.63 L391.53 155.62 L391.94 155.62 L392.36 155.62 L392.77 155.61 L393.19 155.61 L393.60 155.61 L394.02 155.60 L394.43 155.60 L394.85 155.59 L395.26 155.59 L395.68 155.59 L396.09 155.58 L396.51 155.57 L396.92 155.57 L397.34 155.56 L397.75 155.55 L398.17 155.55 L398.58 155.54 L399.00 155.53 L399.41 155.52 L399.83 155.52 L400.24 155.51 L400.66 155.50 L401.07 155.50 L401.49 155.49 L401.90 155.48 L402.32 155.48 L402.73 155.47 L403.15 155.47 L403.56 155.46 L403.98 155.46 L404.39 155.46 L404.81 155.45 L405.22 155.45 L405.64 155.45 L406.05 155.46 L406.47 155.50 L406.88 155.56 L407.30 155.64 L407.71 155.72 L408.13 155.82 L408.54 155.92" fill="none" stroke="#00008b" stroke-width="1.40" stroke-linejoin="round" />
<path d="M408.54 155.92 L408.96 156.02 L409.37 156.14 L409.79 156.27 L410.20 156.42 L410.62 156.59 L411.03 156.78 L411.45 156.97 L411.86 157.18 L412.28 157.39 L412.69 157.60 L413.11 157.81 L413.52 158.04 L413.94 158.28 L414.35 158.52 L414.77 158.78 L415.18 159.05 L415.60 159.32 L416.01 159.61 L416.43 159.91 L416.84 160.22 L417.26 160.54 L417.67 160.87 L418.09 161.21 L418.50 161.57 L418.92 161.94 L419.33 162.34 L419.75 162.76 L420.16 163.20 L420.58 163.65 L420.99 164.12 L421.41 164.60 L421.82 165.10 L422.24 165.61 L422.65 166.13 L423.07 166.66 L423.48 167.20 L423.90 167.74 L424.31 168.29 L424.73 168.85 L425.14 169.41 L425.56 169.97 L425.97 170.53 L426.39 171.10 L426.80 171.66 L427.22 172.22 L427.63 172.78 L428.05 173.33 L428.46 173.87 L428.88 174.42 L429.29 174.97 L429.71 175.53 L430.12 176.10 L430.54 176.67 L430.95 177.24 L431.37 177.82 L431.78 178.40 L432.20 178.99 L432.61 179.58 L433.03 180.16 L433.44 180.75 L433.86 181.34 L434.27 181.93 L434.69 182.52 L435.10 183.10 L435.52 183.69 L435.93 184.27 L436.35 184.85 L436.76 185.43 L437.18 186.02 L437.59 186.60 L438.01 187.18 L438.42 187.77 L438.84 188.36 L439.25 188.94 L439.67 189.53 L440.08 190.11 L440.50 190.70 L440.91 191.29 L441.33 191.87 L441.74 192.46 L442.16 193.05 L442.57 193.63 L442.99 194.22 L443.40 194.80 L443.82 195.39 L444.23 195.98 L444.65 196.57 L445.06 197.17 L445.48 197.76 L445.89 198.35 L446.31 198.94 L446.72 199.53 L447.14 200.12 L447.55 200.71 L447.97 201.30 L448.38 201.88 L448.80 202.46 L449.21 203.04 L449.63 203.61 L450.04 204.18 L450.46 204.74 L450.87 205.31 L451.29 205.87 L451.70 206.43 L452.12 206.99 L452.53 207.54 L452.95 208.10 L453.36 208.65 L453.78 209.20 L454.19 209.75 L454.61 210.29 L455.02 210.83 L455.44 211.36 L455.85 211.89 L456.27 212.42 L456.68 212.94 L457.10 213.45 L457.51 213.96 L457.93 214.46 L458.34 214.95 L458.76 215.44 L459.17 215.92 L459.59 216.40 L460.00 216.87 L460.42 217.33 L460.83 217.79 L461.25 218.25" fill="none" stroke="#00008b" stroke-width="2.00" stroke-linejoin="round" />
<path d="M461.25 218.25 L461.54 258.30 L465.11 235.99 L466.02 268.32 L469.26 248.86 L470.17 274.04 L473.41 258.02 L474.32 279.76 L477.56 266.03 L478.47 283.77 L481.71 272.32 L482.62 288.63 L485.86 278.90 L486.77 290.63 L490.01 282.62 L490.92 292.06 L494.16 285.77 L495.07 293.21 L498.31 287.77 L499.22 294.07 L502.46 289.49 L503.37 294.64 L506.61 290.92 L507.52 295.21 L510.76 292.06 L511.67 295.78 L512.09 295.80 L512.50 295.82 L512.92 295.84 L513.33 295.85 L513.75 295.87 L514.16 295.89 L514.58 295.90 L514.99 295.92 L515.41 295.93 L515.82 295.95 L516.24 295.96 L516.65 295.98 L517.07 295.99 L517.48 296.01 L517.90 296.02 L518.31 296.04 L518.73 296.05 L519.14 296.07 L519.56 296.08 L519.97 296.09 L520.39 296.11 L520.80 296.12 L521.22 296.14 L521.63 296.15 L522.05 296.16 L522.46 296.18 L522.88 296.19 L523.29 296.21 L523.71 296.22 L524.12 296.23 L524.54 296.25 L524.95 296.26 L525.37 296.27 L525.78 296.29 L526.20 296.30 L526.61 296.31 L527.03 296.33 L527.44 296.34 L527.86 296.36 L528.27 296.37 L528.69 296.38 L529.10 296.40 L529.52 296.41 L529.93 296.43 L530.35 296.44 L530.76 296.46 L531.18 296.47 L531.59 296.49 L532.01 296.51 L532.42 296.53 L532.84 296.54 L533.25 296.56 L533.67 296.58 L534.08 296.60 L534.50 296.63 L534.91 296.65 L535.33 296.67 L535.74 296.69 L536.16 296.71 L536.57 296.74 L536.99 296.76 L537.40 296.78 L537.82 296.81 L538.23 296.83 L538.65 296.85 L539.06 296.87 L539.48 296.90 L539.89 296.92 L540.31 296.94 L540.72 296.96 L541.14 296.98 L541.55 297.01 L541.97 297.03 L542.38 297.05 L542.80 297.07 L543.21 297.10 L543.63 297.12 L544.04 297.14 L544.46 297.17 L544.87 297.19 L545.29 297.21 L545.70 297.23 L546.12 297.25 L546.53 297.27 L546.95 297.29 L547.36 297.31 L547.78 297.33 L548.19 297.35 L548.61 297.37 L549.02 297.38 L549.44 297.40 L549.85 297.42 L550.27 297.44 L550.68 297.46 L551.10 297.47 L551.51 297.49 L551.93 297.49 L552.34 297.50 L552.76 297.50 L553.17 297.50 L553.59 297.50 L554.00 297.50 L554.42 297.50 L554.83 297.50 L555.25 297.50 L555.66 297.50 L556.08 297.50 L556.49 297.50 L556.91 297.50 L557.32 297.50 L557.74 297.50 L558.15 297.50 L558.57 297.50 L558.98 297.50 L559.40 297.50 L559.81 297.50 L560.23 297.50 L560.64 297.50 L561.06 297.50 L561.47 297.50 L561.89 297.50 L562.30 297.50 L562.72 297.50 L563.13 297.50 L563.55 297.50 L563.96 297.50 L564.38 297.50 L564.79 297.50 L565.21 297.50 L565.62 297.50 L566.04 297.50 L566.45 297.50 L566.87 297.50 L567.28 297.50 L567.70 297.50 L568.11 297.50 L568.53 297.50 L568.94 297.50 L569.36 297.50 L569.77 297.50 L570.19 297.50 L570.60 297.50 L571.02 297.50 L571.43 297.50 L571.85 297.50 L572.26 297.50 L572.68 297.50 L573.09 297.50 L573.51 297.50 L573.92 297.50 L574.34 297.50 L574.75 297.50 L575.17 297.50 L575.58 297.50 L576.00 297.50 L576.41 297.50 L576.83 297.50 L577.24 297.50 L577.66 297.50 L578.07 297.50 L578.49 297.50 L578.90 297.50 L579.32 297.50 L579.73 297.50 L580.15 297.50 L580.56 297.50 L580.98 297.50 L581.39 297.50 L581.81 297.50 L582.22 297.50 L582.64 297.50 L583.05 297.50 L583.47 297.50 L583.88 297.50 L584.30 297.50 L584.71 297.50 L585.13 297.50 L585.54 297.50 L585.96 297.50 L586.37 297.50 L586.79 297.50 L587.20 297.50 L587.62 297.50 L588.03 297.50 L588.45 297.50 L588.86 297.50 L589.28 297.50 L589.69 297.50 L590.11 297.50 L590.52 297.50 L590.94 297.50 L591.35 297.50 L591.77 297.50 L592.18 297.50 L592.60 297.50 L593.01 297.50 L593.43 297.50 L593.84 297.50 L594.26 297.50 L594.67 297.50 L595.09 297.50 L595.50 297.50 L595.92 297.50 L596.33 297.50 L596.75 297.50 L597.16 297.50 L597.58 297.50 L597.99 297.50 L598.41 297.50 L598.82 297.50 L599.24 297.50 L599.65 297.50 L600.07 297.50 L600.48 297.50 L600.90 297.50 L601.31 297.50 L601.73 297.50 L602.14 297.50 L602.56 297.50 L602.97 297.50 L603.39 297.50 L603.80 297.50 L604.22 297.50 L604.63 297.50 L605.05 297.50 L605.46 297.50 L605.88 297.50 L606.29 297.50 L606.71 297.50 L607.12 297.50 L607.54 297.50 L607.95 297.50 L608.37 297.50 L608.78 297.50 L609.20 297.50 L609.61 297.50 L610.03 297.50 L610.44 297.50 L610.86 297.50 L611.27 297.50 L611.69 297.50 L612.10 297.50 L612.52 297.50 L612.93 297.50 L613.35 297.50 L613.76 297.50 L614.18 297.50 L614.59 297.50 L615.01 297.50 L615.42 297.50 L615.84 297.50 L616.25 297.50 L616.67 297.50 L617.08 297.50 L617.50 297.50 L617.91 297.50 L618.33 297.50 L618.74 297.50 L619.16 297.50 L619.57 297.50 L619.99 297.50 L620.40 297.50 L620.82 297.50 L621.23 297.50 L621.65 297.50 L622.06 297.50 L622.48 297.50 L622.89 297.50" fill="none" stroke="#00008b" stroke-width="1.45" stroke-linejoin="round" />
<path d="M374.10 154.16 L374.51 154.16 L374.93 154.16 L375.34 154.16 L375.76 154.16 L376.17 154.16 L376.59 154.16 L377.00 154.15 L377.42 154.15 L377.83 154.15 L378.25 154.15 L378.66 154.15 L379.08 154.14 L379.49 154.14 L379.91 154.14 L380.32 154.14 L380.74 154.13 L381.15 154.13 L381.57 154.13 L381.98 154.13 L382.40 154.12 L382.81 154.12 L383.23 154.12 L383.64 154.12 L384.06 154.11 L384.47 154.11 L384.89 154.11 L385.30 154.10 L385.72 154.10 L386.13 154.10 L386.55 154.09 L386.96 154.09 L387.38 154.09 L387.79 154.08 L388.21 154.08 L388.62 154.08 L389.04 154.07 L389.45 154.07 L389.87 154.07 L390.28 154.06 L390.70 154.06 L391.11 154.06 L391.53 154.05 L391.94 154.05 L392.36 154.04 L392.77 154.04 L393.19 154.04 L393.60 154.03 L394.02 154.03 L394.43 154.02 L394.85 154.02 L395.26 154.02 L395.68 154.01 L396.09 154.01 L396.51 154.00 L396.92 153.99 L397.34 153.99 L397.75 153.98 L398.17 153.97 L398.58 153.97 L399.00 153.96 L399.41 153.95 L399.83 153.94 L400.24 153.94 L400.66 153.93 L401.07 153.92 L401.49 153.92 L401.90 153.91 L402.32 153.90 L402.73 153.90 L403.15 153.89 L403.56 153.89 L403.98 153.88 L404.39 153.88 L404.81 153.88 L405.22 153.88 L405.64 153.88 L406.05 153.90 L406.47 153.98 L406.88 154.09 L407.30 154.23 L407.71 154.39 L408.13 154.56 L408.54 154.74" fill="none" stroke="#add8e6" stroke-width="1.30" stroke-linejoin="round" />
<path d="M408.54 154.74 L408.96 154.93 L409.37 155.15 L409.79 155.41 L410.20 155.70 L410.62 156.01 L411.03 156.33 L411.45 156.65 L411.86 156.98 L412.28 157.31 L412.69 157.63 L413.11 157.96 L413.52 158.29 L413.94 158.62 L414.35 158.97 L414.77 159.32 L415.18 159.68 L415.60 160.05 L416.01 160.43 L416.43 160.83 L416.84 161.24 L417.26 161.68 L417.67 162.13 L418.09 162.60 L418.50 163.10 L418.92 163.63 L419.33 164.18 L419.75 164.77 L420.16 165.39 L420.58 166.03 L420.99 166.70 L421.41 167.38 L421.82 168.10 L422.24 168.83 L422.65 169.58 L423.07 170.34 L423.48 171.13 L423.90 171.92 L424.31 172.73 L424.73 173.56 L425.14 174.39 L425.56 175.23 L425.97 176.08 L426.39 176.93 L426.80 177.79 L427.22 178.65 L427.63 179.51 L428.05 180.37 L428.46 181.23 L428.88 182.11 L429.29 183.02 L429.71 183.95 L430.12 184.90 L430.54 185.87 L430.95 186.86 L431.37 187.86 L431.78 188.88 L432.20 189.90 L432.61 190.93 L433.03 191.97 L433.44 193.00 L433.86 194.04 L434.27 195.07 L434.69 196.09 L435.10 197.11 L435.52 198.11 L435.93 199.11 L436.35 200.11 L436.76 201.12 L437.18 202.14 L437.59 203.17 L438.01 204.19 L438.42 205.22 L438.84 206.25 L439.25 207.27 L439.67 208.29 L440.08 209.29 L440.50 210.29 L440.91 211.28 L441.33 212.25 L441.74 213.21 L442.16 214.15 L442.57 215.07 L442.99 215.96 L443.40 216.84 L443.82 217.70 L444.23 218.54 L444.65 219.37 L445.06 220.19 L445.48 221.00 L445.89 221.80 L446.31 222.59 L446.72 223.37 L447.14 224.15 L447.55 224.92 L447.97 225.69 L448.38 226.45 L448.80 227.22 L449.21 227.98 L449.63 228.75 L450.04 229.52 L450.46 230.29 L450.87 231.05 L451.29 231.81 L451.70 232.56 L452.12 233.31 L452.53 234.05 L452.95 234.79 L453.36 235.53 L453.78 236.27 L454.19 237.01 L454.61 237.75 L455.02 238.49 L455.44 239.24 L455.85 239.99 L456.27 240.75 L456.68 241.51 L457.10 242.28 L457.51 243.06 L457.93 243.85 L458.34 244.64 L458.76 245.43 L459.17 246.23 L459.59 247.04 L460.00 247.85 L460.42 248.66 L460.83 249.47 L461.25 250.29" fill="none" stroke="#add8e6" stroke-width="1.70" stroke-linejoin="round" />
<path d="M461.25 250.29 L462.08 281.76 L465.11 269.46 L466.64 286.63 L469.26 280.91 L470.79 290.92 L473.41 287.77 L474.94 293.49 L477.56 291.21 L479.09 294.93 L481.71 293.49 L483.24 296.07 L485.86 294.93 L487.39 296.64 L490.01 296.07 L491.54 297.21 L494.16 296.93 L494.45 297.21 L494.86 297.23 L495.28 297.25 L495.69 297.26 L496.11 297.28 L496.52 297.30 L496.94 297.32 L497.35 297.34 L497.77 297.36 L498.18 297.38 L498.60 297.40 L499.01 297.41 L499.43 297.43 L499.84 297.44 L500.26 297.46 L500.67 297.47 L501.09 297.48 L501.50 297.49 L501.92 297.49 L502.33 297.50 L502.75 297.50 L503.16 297.50 L503.58 297.50 L503.99 297.50 L504.41 297.50 L504.82 297.50 L505.24 297.50 L505.65 297.50 L506.07 297.50 L506.48 297.50 L506.90 297.50 L507.31 297.50 L507.73 297.50 L508.14 297.50 L508.56 297.50 L508.97 297.50 L509.39 297.50 L509.80 297.50 L510.22 297.50 L510.63 297.50 L511.05 297.50 L511.46 297.50 L511.88 297.50 L512.29 297.50 L512.71 297.50 L513.12 297.50 L513.54 297.50 L513.95 297.50 L514.37 297.50 L514.78 297.50 L515.20 297.50 L515.61 297.50 L516.03 297.50 L516.44 297.50 L516.86 297.50 L517.27 297.50 L517.69 297.50 L518.10 297.50 L518.52 297.50 L518.93 297.50 L519.35 297.50 L519.76 297.50 L520.18 297.50 L520.59 297.50 L521.01 297.50 L521.42 297.50 L521.84 297.50 L522.25 297.50 L522.67 297.50 L523.08 297.50 L523.50 297.50 L523.91 297.50 L524.33 297.50 L524.74 297.50 L525.16 297.50 L525.57 297.50 L525.99 297.50 L526.40 297.50 L526.82 297.50 L527.23 297.50 L527.65 297.50 L528.06 297.50 L528.48 297.50 L528.89 297.50 L529.31 297.50 L529.72 297.50 L530.14 297.50 L530.55 297.50 L530.97 297.50 L531.38 297.50 L531.80 297.50 L532.21 297.50 L532.63 297.50 L533.04 297.50 L533.46 297.50 L533.87 297.50 L534.29 297.50 L534.70 297.50 L535.12 297.50 L535.53 297.50 L535.95 297.50 L536.36 297.50 L536.78 297.50 L537.19 297.50 L537.61 297.50 L538.02 297.50 L538.44 297.50 L538.85 297.50 L539.27 297.50 L539.68 297.50 L540.10 297.50 L540.51 297.50 L540.93 297.50 L541.34 297.50 L541.76 297.50 L542.17 297.50 L542.59 297.50 L543.00 297.50 L543.42 297.50 L543.83 297.50 L544.25 297.50 L544.66 297.50 L545.08 297.50 L545.49 297.50 L545.91 297.50 L546.32 297.50 L546.74 297.50 L547.15 297.50 L547.57 297.50 L547.98 297.50 L548.40 297.50 L548.81 297.50 L549.23 297.50 L549.64 297.50 L550.06 297.50 L550.47 297.50 L550.89 297.50 L551.30 297.50 L551.72 297.50 L552.13 297.50 L552.55 297.50 L552.96 297.50 L553.38 297.50 L553.79 297.50 L554.21 297.50 L554.62 297.50 L555.04 297.50 L555.45 297.50 L555.87 297.50 L556.28 297.50 L556.70 297.50 L557.11 297.50 L557.53 297.50 L557.94 297.50 L558.36 297.50 L558.77 297.50 L559.19 297.50 L559.60 297.50 L560.02 297.50 L560.43 297.50 L560.85 297.50 L561.26 297.50 L561.68 297.50 L562.09 297.50 L562.51 297.50 L562.92 297.50 L563.34 297.50 L563.75 297.50 L564.17 297.50 L564.58 297.50 L565.00 297.50 L565.41 297.50 L565.83 297.50 L566.24 297.50 L566.66 297.50 L567.07 297.50 L567.49 297.50 L567.90 297.50 L568.32 297.50 L568.73 297.50 L569.15 297.50 L569.56 297.50 L569.98 297.50 L570.39 297.50 L570.81 297.50 L571.22 297.50 L571.64 297.50 L572.05 297.50 L572.47 297.50 L572.88 297.50 L573.30 297.50 L573.71 297.50 L574.13 297.50 L574.54 297.50 L574.96 297.50 L575.37 297.50 L575.79 297.50 L576.20 297.50 L576.62 297.50 L577.03 297.50 L577.45 297.50 L577.86 297.50 L578.28 297.50 L578.69 297.50 L579.11 297.50 L579.52 297.50 L579.94 297.50 L580.35 297.50 L580.77 297.50 L581.18 297.50 L581.60 297.50 L582.01 297.50 L582.43 297.50 L582.84 297.50 L583.26 297.50 L583.67 297.50 L584.09 297.50 L584.50 297.50 L584.92 297.50 L585.33 297.50 L585.75 297.50 L586.16 297.50 L586.58 297.50 L586.99 297.50 L587.41 297.50 L587.82 297.50 L588.24 297.50 L588.65 297.50 L589.07 297.50 L589.48 297.50 L589.90 297.50 L590.31 297.50 L590.73 297.50 L591.14 297.50 L591.56 297.50 L591.97 297.50 L592.39 297.50 L592.80 297.50 L593.22 297.50 L593.63 297.50 L594.05 297.50 L594.46 297.50 L594.88 297.50 L595.29 297.50 L595.71 297.50 L596.12 297.50 L596.54 297.50 L596.95 297.50 L597.37 297.50 L597.78 297.50 L598.20 297.50 L598.61 297.50 L599.03 297.50 L599.44 297.50 L599.86 297.50 L600.27 297.50 L600.69 297.50 L601.10 297.50 L601.52 297.50 L601.93 297.50 L602.35 297.50 L602.76 297.50 L603.18 297.50 L603.59 297.50 L604.01 297.50 L604.42 297.50 L604.84 297.50 L605.25 297.50 L605.67 297.50 L606.08 297.50 L606.50 297.50 L606.91 297.50 L607.33 297.50 L607.74 297.50 L608.16 297.50 L608.57 297.50 L608.99 297.50 L609.40 297.50 L609.82 297.50 L610.23 297.50 L610.65 297.50 L611.06 297.50 L611.48 297.50 L611.89 297.50 L612.31 297.50 L612.72 297.50 L613.14 297.50 L613.55 297.50 L613.97 297.50 L614.38 297.50 L614.80 297.50 L615.21 297.50 L615.63 297.50 L616.04 297.50 L616.46 297.50 L616.87 297.50 L617.29 297.50 L617.70 297.50 L618.12 297.50 L618.53 297.50 L618.95 297.50 L619.36 297.50 L619.78 297.50 L620.19 297.50 L620.61 297.50 L621.02 297.50 L621.44 297.50 L621.85 297.50 L622.27 297.50 L622.68 297.50 L623.10 297.50" fill="none" stroke="#add8e6" stroke-width="1.25" stroke-linejoin="round" />
<path d="M374.10 153.31 L374.51 153.31 L374.93 153.31 L375.34 153.31 L375.76 153.30 L376.17 153.30 L376.59 153.30 L377.00 153.30 L377.42 153.30 L377.83 153.30 L378.25 153.30 L378.66 153.30 L379.08 153.30 L379.49 153.29 L379.91 153.29 L380.32 153.29 L380.74 153.29 L381.15 153.29 L381.57 153.29 L381.98 153.28 L382.40 153.28 L382.81 153.28 L383.23 153.28 L383.64 153.27 L384.06 153.27 L384.47 153.27 L384.89 153.26 L385.30 153.26 L385.72 153.26 L386.13 153.25 L386.55 153.25 L386.96 153.25 L387.38 153.24 L387.79 153.24 L388.21 153.24 L388.62 153.23 L389.04 153.23 L389.45 153.22 L389.87 153.22 L390.28 153.22 L390.70 153.21 L391.11 153.21 L391.53 153.20 L391.94 153.20 L392.36 153.19 L392.77 153.19 L393.19 153.18 L393.60 153.18 L394.02 153.17 L394.43 153.17 L394.85 153.16 L395.26 153.16 L395.68 153.15 L396.09 153.13 L396.51 153.12 L396.92 153.10 L397.34 153.09 L397.75 153.07 L398.17 153.05 L398.58 153.02 L399.00 153.00 L399.41 152.98 L399.83 152.95 L400.24 152.93 L400.66 152.91 L401.07 152.88 L401.49 152.86 L401.90 152.84 L402.32 152.82 L402.73 152.80 L403.15 152.79 L403.56 152.77 L403.98 152.76 L404.39 152.75 L404.81 152.74 L405.22 152.74 L405.64 152.73 L406.05 152.75 L406.47 152.78 L406.88 152.84 L407.30 152.92 L407.71 153.01 L408.13 153.11 L408.54 153.22" fill="none" stroke="#add8e6" stroke-width="1.50" stroke-linejoin="round" />
<path d="M408.54 153.22 L408.96 153.33 L409.37 153.45 L409.79 153.58 L410.20 153.74 L410.62 153.93 L411.03 154.13 L411.45 154.36 L411.86 154.59 L412.28 154.83 L412.69 155.07 L413.11 155.31 L413.52 155.55 L413.94 155.80 L414.35 156.06 L414.77 156.32 L415.18 156.60 L415.60 156.88 L416.01 157.17 L416.43 157.46 L416.84 157.75 L417.26 158.05 L417.67 158.35 L418.09 158.65 L418.50 158.95 L418.92 159.26 L419.33 159.56 L419.75 159.87 L420.16 160.18 L420.58 160.49 L420.99 160.81 L421.41 161.12 L421.82 161.44 L422.24 161.76 L422.65 162.09 L423.07 162.42 L423.48 162.75 L423.90 163.09 L424.31 163.43 L424.73 163.77 L425.14 164.12 L425.56 164.48 L425.97 164.84 L426.39 165.20 L426.80 165.57 L427.22 165.95 L427.63 166.33 L428.05 166.72 L428.46 167.12 L428.88 167.53 L429.29 167.95 L429.71 168.39 L430.12 168.85 L430.54 169.31 L430.95 169.78 L431.37 170.26 L431.78 170.75 L432.20 171.24 L432.61 171.73 L433.03 172.23 L433.44 172.73 L433.86 173.22 L434.27 173.71 L434.69 174.20 L435.10 174.68 L435.52 175.15 L435.93 175.61 L436.35 176.08 L436.76 176.55 L437.18 177.02 L437.59 177.49 L438.01 177.96 L438.42 178.43 L438.84 178.90 L439.25 179.36 L439.67 179.83 L440.08 180.29 L440.50 180.74 L440.91 181.19 L441.33 181.64 L441.74 182.08 L442.16 182.51 L442.57 182.93 L442.99 183.35 L443.40 183.75 L443.82 184.16 L444.23 184.56 L444.65 184.96 L445.06 185.35 L445.48 185.74 L445.89 186.13 L446.31 186.51 L446.72 186.89 L447.14 187.26 L447.55 187.63 L447.97 187.99 L448.38 188.35 L448.80 188.70 L449.21 189.05 L449.63 189.39 L450.04 189.73 L450.46 190.06 L450.87 190.39 L451.29 190.71 L451.70 191.03 L452.12 191.35 L452.53 191.67 L452.95 191.98 L453.36 192.28 L453.78 192.59 L454.19 192.88 L454.61 193.18 L455.02 193.46 L455.44 193.75 L455.85 194.03 L456.27 194.30 L456.68 194.56 L457.10 194.82 L457.51 195.08 L457.93 195.32 L458.34 195.56 L458.76 195.80 L459.17 196.03 L459.59 196.25 L460.00 196.46 L460.42 196.67 L460.83 196.88 L461.25 197.08" fill="none" stroke="#add8e6" stroke-width="2.40" stroke-linejoin="round" />
<path d="M461.25 197.08 L462.08 244.57 L465.11 214.82 L466.64 250.29 L469.26 227.98 L470.79 257.45 L473.41 238.85 L474.94 263.17 L477.56 245.72 L479.09 268.03 L481.71 251.15 L483.24 273.47 L485.86 260.31 L487.39 278.62 L490.01 266.03 L491.54 281.76 L494.16 270.32 L495.69 284.34 L498.31 274.33 L499.84 286.63 L502.46 277.76 L503.99 288.34 L506.61 280.62 L508.14 289.78 L510.76 282.62 L511.88 289.49 L512.29 289.62 L512.71 289.76 L513.12 289.89 L513.54 290.04 L513.95 290.18 L514.37 290.33 L514.78 290.48 L515.20 290.63 L515.61 290.80 L516.03 290.97 L516.44 291.15 L516.86 291.33 L517.27 291.51 L517.69 291.70 L518.10 291.88 L518.52 292.05 L518.93 292.20 L519.35 292.35 L519.76 292.48 L520.18 292.61 L520.59 292.74 L521.01 292.86 L521.42 292.97 L521.84 293.08 L522.25 293.19 L522.67 293.29 L523.08 293.39 L523.50 293.49 L523.91 293.59 L524.33 293.69 L524.74 293.79 L525.16 293.88 L525.57 293.98 L525.99 294.07 L526.40 294.16 L526.82 294.25 L527.23 294.34 L527.65 294.43 L528.06 294.52 L528.48 294.60 L528.89 294.68 L529.31 294.76 L529.72 294.84 L530.14 294.92 L530.55 295.00 L530.97 295.07 L531.38 295.14 L531.80 295.21 L532.21 295.28 L532.63 295.35 L533.04 295.41 L533.46 295.48 L533.87 295.54 L534.29 295.60 L534.70 295.67 L535.12 295.73 L535.53 295.79 L535.95 295.85 L536.36 295.90 L536.78 295.96 L537.19 296.01 L537.61 296.07 L538.02 296.12 L538.44 296.17 L538.85 296.22 L539.27 296.26 L539.68 296.31 L540.10 296.36 L540.51 296.40 L540.93 296.44 L541.34 296.48 L541.76 296.53 L542.17 296.57 L542.59 296.61 L543.00 296.64 L543.42 296.68 L543.83 296.72 L544.25 296.76 L544.66 296.79 L545.08 296.83 L545.49 296.86 L545.91 296.89 L546.32 296.92 L546.74 296.96 L547.15 296.99 L547.57 297.02 L547.98 297.04 L548.40 297.07 L548.81 297.10 L549.23 297.13 L549.64 297.16 L550.06 297.18 L550.47 297.21 L550.89 297.24 L551.30 297.27 L551.72 297.30 L552.13 297.33 L552.55 297.35 L552.96 297.38 L553.38 297.40 L553.79 297.42 L554.21 297.44 L554.62 297.46 L555.04 297.47 L555.45 297.48 L555.87 297.49 L556.28 297.50 L556.70 297.50 L557.11 297.50 L557.53 297.50 L557.94 297.50 L558.36 297.50 L558.77 297.50 L559.19 297.50 L559.60 297.50 L560.02 297.50 L560.43 297.50 L560.85 297.50 L561.26 297.50 L561.68 297.50 L562.09 297.50 L562.51 297.50 L562.92 297.50 L563.34 297.50 L563.75 297.50 L564.17 297.50 L564.58 297.50 L565.00 297.50 L565.41 297.50 L565.83 297.50 L566.24 297.50 L566.66 297.50 L567.07 297.50 L567.49 297.50 L567.90 297.50 L568.32 297.50 L568.73 297.50 L569.15 297.50 L569.56 297.50 L569.98 297.50 L570.39 297.50 L570.81 297.50 L571.22 297.50 L571.64 297.50 L572.05 297.50 L572.47 297.50 L572.88 297.50 L573.30 297.50 L573.71 297.50 L574.13 297.50 L574.54 297.50 L574.96 297.50 L575.37 297.50 L575.79 297.50 L576.20 297.50 L576.62 297.50 L577.03 297.50 L577.45 297.50 L577.86 297.50 L578.28 297.50 L578.69 297.50 L579.11 297.50 L579.52 297.50 L579.94 297.50 L580.35 297.50 L580.77 297.50 L581.18 297.50 L581.60 297.50 L582.01 297.50 L582.43 297.50 L582.84 297.50 L583.26 297.50 L583.67 297.50 L584.09 297.50 L584.50 297.50 L584.92 297.50 L585.33 297.50 L585.75 297.50 L586.16 297.50 L586.58 297.50 L586.99 297.50 L587.41 297.50 L587.82 297.50 L588.24 297.50 L588.65 297.50 L589.07 297.50 L589.48 297.50 L589.90 297.50 L590.31 297.50 L590.73 297.50 L591.14 297.50 L591.56 297.50 L591.97 297.50 L592.39 297.50 L592.80 297.50 L593.22 297.50 L593.63 297.50 L594.05 297.50 L594.46 297.50 L594.88 297.50 L595.29 297.50 L595.71 297.50 L596.12 297.50 L596.54 297.50 L596.95 297.50 L597.37 297.50 L597.78 297.50 L598.20 297.50 L598.61 297.50 L599.03 297.50 L599.44 297.50 L599.86 297.50 L600.27 297.50 L600.69 297.50 L601.10 297.50 L601.52 297.50 L601.93 297.50 L602.35 297.50 L602.76 297.50 L603.18 297.50 L603.59 297.50 L604.01 297.50 L604.42 297.50 L604.84 297.50 L605.25 297.50 L605.67 297.50 L606.08 297.50 L606.50 297.50 L606.91 297.50 L607.33 297.50 L607.74 297.50 L608.16 297.50 L608.57 297.50 L608.99 297.50 L609.40 297.50 L609.82 297.50 L610.23 297.50 L610.65 297.50 L611.06 297.50 L611.48 297.50 L611.89 297.50 L612.31 297.50 L612.72 297.50 L613.14 297.50 L613.55 297.50 L613.97 297.50 L614.38 297.50 L614.80 297.50 L615.21 297.50 L615.63 297.50 L616.04 297.50 L616.46 297.50 L616.87 297.50 L617.29 297.50 L617.70 297.50 L618.12 297.50 L618.53 297.50 L618.95 297.50 L619.36 297.50 L619.78 297.50 L620.19 297.50 L620.61 297.50 L621.02 297.50 L621.44 297.50 L621.85 297.50 L622.27 297.50 L622.68 297.50 L623.10 297.50" fill="none" stroke="#add8e6" stroke-width="1.40" stroke-linejoin="round" />
<path d="M511.67 295.78 L512.09 295.80 L512.50 295.82 L512.92 295.84 L513.33 295.85 L513.75 295.87 L514.16 295.89 L514.58 295.90 L514.99 295.92 L515.41 295.93 L515.82 295.95 L516.24 295.96 L516.65 295.98 L517.07 295.99 L517.48 296.01 L517.90 296.02 L518.31 296.04 L518.73 296.05 L519.14 296.07 L519.56 296.08 L519.97 296.09 L520.39 296.11 L520.80 296.12 L521.22 296.14 L521.63 296.15 L522.05 296.16 L522.46 296.18 L522.88 296.19 L523.29 296.21 L523.71 296.22 L524.12 296.23 L524.54 296.25 L524.95 296.26 L525.37 296.27 L525.78 296.29 L526.20 296.30 L526.61 296.31 L527.03 296.33 L527.44 296.34 L527.86 296.36 L528.27 296.37 L528.69 296.38 L529.10 296.40 L529.52 296.41 L529.93 296.43 L530.35 296.44 L530.76 296.46 L531.18 296.47 L531.59 296.49 L532.01 296.51 L532.42 296.53 L532.84 296.54 L533.25 296.56 L533.67 296.58 L534.08 296.60 L534.50 296.63 L534.91 296.65 L535.33 296.67 L535.74 296.69 L536.16 296.71 L536.57 296.74 L536.99 296.76 L537.40 296.78 L537.82 296.81 L538.23 296.83 L538.65 296.85 L539.06 296.87 L539.48 296.90 L539.89 296.92 L540.31 296.94 L540.72 296.96 L541.14 296.98 L541.55 297.01 L541.97 297.03 L542.38 297.05 L542.80 297.07 L543.21 297.10 L543.63 297.12 L544.04 297.14 L544.46 297.17 L544.87 297.19 L545.29 297.21 L545.70 297.23 L546.12 297.25 L546.53 297.27 L546.95 297.29 L547.36 297.31 L547.78 297.33 L548.19 297.35 L548.61 297.37 L549.02 297.38 L549.44 297.40 L549.85 297.41 L550.27 297.43 L550.68 297.44 L551.10 297.46 L551.51 297.47 L551.93 297.48 L552.34 297.49" fill="none" stroke="#00008b" stroke-width="1.45" stroke-linejoin="round" />
<path d="M403.15 11.60 V298.50" stroke="#00ff00" stroke-width="1.00" stroke-opacity="0.60"/>
<text transform="translate(400.95 68.62) rotate(-90)" font-size="7.10" fill="#000">VC start</text>
<path d="M461.46 11.60 V298.50" stroke="#ff0000" stroke-width="1.00" stroke-opacity="0.68"/>
<text transform="translate(459.26 68.62) rotate(-90)" font-size="7.10" fill="#000">MDA start</text>
<path d="M469.55 11.60 V298.50" stroke="#006400" stroke-width="1.10" stroke-opacity="0.72"/>
<text transform="translate(467.35 68.62) rotate(-90)" font-size="7.10" fill="#000">VC end</text>
<path d="M511.30 11.60 V298.50" stroke="#ffa500" stroke-width="1.00" stroke-opacity="0.70"/>
<text transform="translate(509.10 111.53) rotate(-90)" font-size="7.10" fill="#000">Biannual MDA start</text>
<path d="M401.49 163.32 V191.07" stroke="#3a3a3a" stroke-width="1.1"/>
<path d="M417.26 161.32 V201.66" stroke="#3a3a3a" stroke-width="1.1"/>
<path d="M472.46 258.88 V278.62" stroke="#3a3a3a" stroke-width="1.1"/>
<path d="M479.30 258.30 V278.62" stroke="#3a3a3a" stroke-width="1.1"/>
<path d="M498.19 286.63 V296.07" stroke="#3a3a3a" stroke-width="1.1"/>
<path d="M517.28 285.77 V296.93" stroke="#3a3a3a" stroke-width="1.1"/>
<path d="M520.59 286.63 V296.93" stroke="#3a3a3a" stroke-width="1.1"/>
<path d="M547.36 292.64 V297.50" stroke="#3a3a3a" stroke-width="1.1"/>
<circle cx="401.49" cy="177.34" r="3.30" fill="#ffa500"/>
<circle cx="417.26" cy="182.49" r="3.30" fill="#ffa500"/>
<circle cx="472.46" cy="270.61" r="3.30" fill="#ffa500"/>
<circle cx="479.30" cy="270.61" r="3.30" fill="#ffa500"/>
<circle cx="498.19" cy="292.92" r="3.30" fill="#ffa500"/>
<circle cx="517.28" cy="294.64" r="3.30" fill="#ffa500"/>
<circle cx="520.59" cy="294.64" r="3.30" fill="#ffa500"/>
<circle cx="547.36" cy="296.36" r="3.30" fill="#ffa500"/>
</g>
<path d="M374.50 11.20 V297.50 H623.50" fill="none" stroke="#444" stroke-width="1"/>
<path d="M374.00 297.50 h-1.7" stroke="#444" stroke-width="0.9"/>
<text x="370.70" y="300.70" font-size="7.60" text-anchor="end" fill="#111" class="tk">0</text>
<path d="M374.00 268.89 h-1.7" stroke="#444" stroke-width="0.9"/>
<text x="370.70" y="272.09" font-size="7.60" text-anchor="end" fill="#111" class="tk">10</text>
<path d="M374.00 240.28 h-1.7" stroke="#444" stroke-width="0.9"/>
<text x="370.70" y="243.48" font-size="7.60" text-anchor="end" fill="#111" class="tk">20</text>
<path d="M374.00 211.67 h-1.7" stroke="#444" stroke-width="0.9"/>
<text x="370.70" y="214.87" font-size="7.60" text-anchor="end" fill="#111" class="tk">30</text>
<path d="M374.00 183.06 h-1.7" stroke="#444" stroke-width="0.9"/>
<text x="370.70" y="186.26" font-size="7.60" text-anchor="end" fill="#111" class="tk">40</text>
<path d="M374.00 154.45 h-1.7" stroke="#444" stroke-width="0.9"/>
<text x="370.70" y="157.65" font-size="7.60" text-anchor="end" fill="#111" class="tk">50</text>
<path d="M374.00 125.84 h-1.7" stroke="#444" stroke-width="0.9"/>
<text x="370.70" y="129.04" font-size="7.60" text-anchor="end" fill="#111" class="tk">60</text>
<path d="M374.00 97.23 h-1.7" stroke="#444" stroke-width="0.9"/>
<text x="370.70" y="100.43" font-size="7.60" text-anchor="end" fill="#111" class="tk">70</text>
<path d="M374.00 68.62 h-1.7" stroke="#444" stroke-width="0.9"/>
<text x="370.70" y="71.82" font-size="7.60" text-anchor="end" fill="#111" class="tk">80</text>
<path d="M374.00 40.01 h-1.7" stroke="#444" stroke-width="0.9"/>
<text x="370.70" y="43.21" font-size="7.60" text-anchor="end" fill="#111" class="tk">90</text>
<path d="M374.00 11.40 h-1.7" stroke="#444" stroke-width="0.9"/>
<text x="370.70" y="14.60" font-size="7.60" text-anchor="end" fill="#111" class="tk">100</text>
<path d="M394.85 298.00 v1.7" stroke="#444" stroke-width="0.9"/>
<text x="394.85" y="306.75" font-size="7.60" text-anchor="middle" fill="#111" class="tk">1975</text>
<path d="M415.60 298.00 v1.7" stroke="#444" stroke-width="0.9"/>
<text x="415.60" y="306.75" font-size="7.60" text-anchor="middle" fill="#111" class="tk">1980</text>
<path d="M436.35 298.00 v1.7" stroke="#444" stroke-width="0.9"/>
<text x="436.35" y="306.75" font-size="7.60" text-anchor="middle" fill="#111" class="tk">1985</text>
<path d="M457.10 298.00 v1.7" stroke="#444" stroke-width="0.9"/>
<text x="457.10" y="306.75" font-size="7.60" text-anchor="middle" fill="#111" class="tk">1990</text>
<path d="M477.85 298.00 v1.7" stroke="#444" stroke-width="0.9"/>
<text x="477.85" y="306.75" font-size="7.60" text-anchor="middle" fill="#111" class="tk">1995</text>
<path d="M498.60 298.00 v1.7" stroke="#444" stroke-width="0.9"/>
<text x="498.60" y="306.75" font-size="7.60" text-anchor="middle" fill="#111" class="tk">2000</text>
<path d="M519.35 298.00 v1.7" stroke="#444" stroke-width="0.9"/>
<text x="519.35" y="306.75" font-size="7.60" text-anchor="middle" fill="#111" class="tk">2005</text>
<path d="M540.10 298.00 v1.7" stroke="#444" stroke-width="0.9"/>
<text x="540.10" y="306.75" font-size="7.60" text-anchor="middle" fill="#111" class="tk">2010</text>
<path d="M560.85 298.00 v1.7" stroke="#444" stroke-width="0.9"/>
<text x="560.85" y="306.75" font-size="7.60" text-anchor="middle" fill="#111" class="tk">2015</text>
<path d="M581.60 298.00 v1.7" stroke="#444" stroke-width="0.9"/>
<text x="581.60" y="306.75" font-size="7.60" text-anchor="middle" fill="#111" class="tk">2020</text>
<path d="M602.35 298.00 v1.7" stroke="#444" stroke-width="0.9"/>
<text x="602.35" y="306.75" font-size="7.60" text-anchor="middle" fill="#111" class="tk">2025</text>
<path d="M623.10 298.00 v1.7" stroke="#444" stroke-width="0.9"/>
<text x="623.10" y="306.75" font-size="7.60" text-anchor="middle" fill="#111" class="tk">2030</text>
<text x="498.10" y="316.80" font-size="8.80" text-anchor="middle" fill="#000" class="at">Year</text>
<text transform="translate(354.60 155.75) rotate(-90)" font-size="9.50" text-anchor="middle" fill="#000" class="at">Microfilarial prevalence (%)</text>
<text x="374.60" y="6.30" font-size="8.40" fill="#000">b. Savanes SIZ − 50% BMP, biannual MDA</text>
<path d="M535.95 297.50 H623.50" stroke="#415163" stroke-width="1"/>
<circle cx="639.60" cy="154.85" r="3.3" fill="#ffa500"/>
<text x="648.90" y="157.05" font-size="5.85" fill="#000">Mesoendemic</text>
<clipPath id="cp3"><rect x="21.50" y="325.20" width="329.00" height="297.58"/></clipPath>
<g clip-path="url(#cp3)">
<path d="M26.50 481.49 L26.91 481.90 L27.33 481.78 L27.74 482.05 L28.16 481.78 L28.57 481.53 L28.99 481.65 L29.40 482.02 L29.82 481.21 L30.23 481.53 L30.65 481.34 L31.06 481.41 L31.48 481.82 L31.89 482.19 L32.31 481.89 L32.72 481.28 L33.14 481.93 L33.55 481.40 L33.97 481.81 L34.38 481.52 L34.80 482.15 L35.21 481.30 L35.63 481.64 L36.04 481.38 L36.46 481.58 L36.87 481.40 L37.29 481.66 L37.70 481.42 L38.12 482.06 L38.53 481.94 L38.95 481.42 L39.36 481.64 L39.78 481.70 L40.19 481.68 L40.61 481.49 L41.02 481.80 L41.44 481.48 L41.85 481.89 L42.27 481.75 L42.68 481.35 L43.10 481.32 L43.51 481.94 L43.93 481.39 L44.34 481.92 L44.76 481.41 L45.17 482.16 L45.59 481.93 L46.00 481.75 L46.42 481.64 L46.83 481.18 L47.25 481.32 L47.66 481.12 L48.08 481.21 L48.49 481.63 L48.91 481.61 L49.32 481.22 L49.74 481.50 L50.15 481.54 L50.57 481.87 L50.98 481.51 L51.40 482.26 L51.81 481.58 L52.23 481.72 L52.64 481.23 L53.06 481.56 L53.47 481.50 L53.89 481.01 L54.30 481.69 L54.72 481.29 L55.13 481.91 L55.55 481.34 L55.96 481.24 L56.38 481.11 L56.79 481.61 L57.21 481.26 L57.62 481.25 L58.04 481.35 L58.45 481.34 L58.87 481.35 L59.28 481.52 L59.70 482.11 L60.11 482.03 L60.53 482.25 L60.94 482.47 L61.36 482.71 L61.77 482.99 L62.19 483.31 L62.60 483.65 L63.02 484.01 L63.43 484.40 L63.85 484.79 L64.26 485.18 L64.68 485.58 L65.09 485.97 L65.51 486.37 L65.92 486.77 L66.34 487.19 L66.75 487.62 L67.17 488.06 L67.58 488.52 L68.00 489.00 L68.41 489.49 L68.83 490.01 L69.24 490.55 L69.66 491.12 L70.07 491.71 L70.49 492.32 L70.90 492.96 L71.32 493.62 L71.73 494.30 L72.15 494.99 L72.56 495.69 L72.98 496.41 L73.39 497.14 L73.81 497.89 L74.22 498.66 L74.64 499.44 L75.05 500.23 L75.47 501.03 L75.88 501.84 L76.30 502.67 L76.71 503.50 L77.13 504.34 L77.54 505.19 L77.96 506.04 L78.37 506.90 L78.79 507.76 L79.20 508.64 L79.62 509.54 L80.03 510.46 L80.45 511.40 L80.86 512.35 L81.28 513.33 L81.69 514.32 L82.11 515.33 L82.52 516.35 L82.94 517.39 L83.35 518.43 L83.77 519.49 L84.18 520.56 L84.60 521.64 L85.01 522.73 L85.43 523.83 L85.84 524.93 L86.26 526.04 L86.67 527.15 L87.09 528.26 L87.50 529.38 L87.92 530.50 L88.33 531.62 L88.75 532.74 L89.16 533.86 L89.58 534.99 L89.99 536.13 L90.41 537.28 L90.82 538.44 L91.24 539.61 L91.65 540.78 L92.07 541.96 L92.48 543.15 L92.90 544.35 L93.31 545.57 L93.73 546.80 L94.14 548.03 L94.56 549.27 L94.97 550.52 L95.39 551.78 L95.80 553.04 L96.22 554.30 L96.63 555.57 L97.05 556.84 L97.46 558.12 L97.88 559.41 L98.29 560.70 L98.71 561.99 L99.12 563.29 L99.54 564.62 L99.95 565.97 L100.37 567.33 L100.78 568.71 L101.20 570.10 L101.61 571.51 L102.03 572.92 L102.44 574.33 L102.86 575.75 L103.27 577.17 L103.69 578.59 L104.10 580.01 L104.52 581.41 L104.93 582.82 L105.35 584.20 L105.76 585.58 L106.18 586.94 L106.59 588.29 L107.01 589.61 L107.42 590.91 L107.84 592.18 L108.25 593.43 L108.67 594.64 L109.08 595.81 L109.50 596.95 L109.91 598.06 L110.33 599.15 L110.74 600.25 L111.16 601.34 L111.57 602.44 L111.99 603.57 L112.40 604.72 L112.82 605.91 L113.23 607.15 L113.65 608.51 L114.06 610.02 L114.48 611.59 L114.89 613.13 L115.31 614.59 L115.72 615.86 L116.14 616.87 L116.55 617.72 L116.97 618.54 L117.38 619.33 L117.80 620.07 L118.21 620.75 L118.63 621.36 L119.04 621.89 L119.46 622.32 L119.87 622.66 L120.29 622.87 L120.70 623.02 L121.12 623.16 L121.53 623.20 L121.95 623.20 L122.36 623.20 L122.78 623.20 L123.19 623.20 L123.61 623.20 L124.02 623.20 L124.44 623.20 L124.85 623.20 L125.27 623.20 L125.68 623.20 L126.10 623.20 L126.51 623.20 L126.93 623.20 L127.34 623.20 L127.76 623.20 L128.17 623.20 L128.59 623.20 L129.00 623.20 L129.42 623.20 L129.83 623.20 L130.25 623.20 L130.66 623.20 L131.08 623.20 L131.49 623.20 L131.91 623.20 L132.32 623.20 L132.74 623.20 L133.15 623.20 L133.57 623.20 L133.98 623.20 L134.40 623.20 L134.81 623.20 L135.23 623.20 L135.64 623.20 L136.06 623.20 L136.47 623.20 L136.89 623.20 L137.30 623.20 L137.72 623.20 L138.13 623.20 L138.55 623.20 L138.96 623.20 L139.38 623.20 L139.79 623.20 L140.21 623.20 L140.62 623.20 L141.04 623.20 L141.45 623.20 L141.87 623.20 L142.28 623.20 L142.70 623.20 L143.11 623.20 L143.53 623.20 L143.94 623.20 L144.36 623.20 L144.77 623.20 L145.19 623.20 L145.60 623.20 L146.02 623.20 L146.43 623.20 L146.85 623.20 L147.26 623.20 L147.68 623.20 L148.09 623.20 L148.51 623.20 L148.92 623.20 L149.34 623.20 L149.75 623.20 L150.17 623.20 L150.58 623.20 L151.00 623.20 L151.41 623.20 L151.83 623.20 L152.24 623.20 L152.66 623.20 L153.07 623.20 L153.49 623.20 L153.90 623.20 L154.32 623.20 L154.73 623.20 L155.15 623.20 L155.56 623.20 L155.98 623.20 L156.39 623.20 L156.81 623.20 L157.22 623.20 L157.64 623.20 L158.05 623.20 L158.47 623.20 L158.88 623.20 L159.30 623.20 L159.71 623.20 L160.13 623.20 L160.54 623.20 L160.96 623.20 L161.37 623.20 L161.79 623.20 L162.20 623.20 L162.62 623.20 L163.03 623.20 L163.45 623.20 L163.86 623.20 L164.28 623.20 L164.69 623.20 L165.11 623.20 L165.52 623.20 L165.94 623.20 L166.35 623.20 L166.77 623.20 L167.18 623.20 L167.60 623.20 L168.01 623.20 L168.43 623.20 L168.84 623.20 L169.26 623.20 L169.67 623.20 L170.09 623.20 L170.50 623.20 L170.92 623.20 L171.33 623.20 L171.75 623.20 L172.16 623.20 L172.58 623.20 L172.99 623.20 L173.41 623.20 L173.82 623.20 L174.24 623.20 L174.65 623.20 L175.07 623.20 L175.48 623.20 L175.90 623.20 L176.31 623.20 L176.73 623.20 L177.14 623.20 L177.56 623.20 L177.97 623.20 L178.39 623.20 L178.80 623.20 L179.22 623.20 L179.63 623.20 L180.05 623.20 L180.46 623.20 L180.88 623.20 L181.29 623.20 L181.71 623.20 L182.12 623.20 L182.54 623.20 L182.95 623.20 L183.37 623.20 L183.78 623.20 L184.20 623.20 L184.61 623.20 L185.03 623.20 L185.44 623.20 L185.86 623.20 L186.27 623.20 L186.69 623.20 L187.10 623.20 L187.52 623.20 L187.93 623.20 L188.35 623.20 L188.76 623.20 L189.18 623.20 L189.59 623.20 L190.01 623.20 L190.42 623.20 L190.84 623.20 L191.25 623.20 L191.67 623.20 L192.08 623.20 L192.50 623.20 L192.91 623.20 L193.33 623.20 L193.74 623.20 L194.16 623.20 L194.57 623.20 L194.99 623.20 L195.40 623.20 L195.82 623.20 L196.23 623.20 L196.65 623.20 L197.06 623.20 L197.48 623.20 L197.89 623.20 L198.31 623.20 L198.72 623.20 L199.14 623.20 L199.55 623.20 L199.97 623.20 L200.38 623.20 L200.80 623.20 L201.21 623.20 L201.63 623.20 L202.04 623.20 L202.46 623.20 L202.87 623.20 L203.29 623.20 L203.70 623.20 L204.12 623.20 L204.53 623.20 L204.95 623.20 L205.36 623.20 L205.78 623.20 L206.19 623.20 L206.61 623.20 L207.02 623.20 L207.44 623.20 L207.85 623.20 L208.27 623.20 L208.68 623.20 L209.10 623.20 L209.51 623.20 L209.93 623.20 L210.34 623.20 L210.76 623.20 L211.17 623.20 L211.59 623.20 L212.00 623.20 L212.42 623.20 L212.83 623.20 L213.25 623.20 L213.66 623.20 L214.08 623.20 L214.49 623.20 L214.91 623.20 L215.32 623.20 L215.74 623.20 L216.15 623.20 L216.57 623.20 L216.98 623.20 L217.40 623.20 L217.81 623.20 L218.23 623.20 L218.64 623.20 L219.06 623.20 L219.47 623.20 L219.89 623.20 L220.30 623.20 L220.72 623.20 L221.13 623.20 L221.55 623.20 L221.96 623.20 L222.38 623.20 L222.79 623.20 L223.21 623.20 L223.62 623.20 L224.04 623.20 L224.45 623.20 L224.87 623.20 L225.28 623.20 L225.70 623.20 L226.11 623.20 L226.53 623.20 L226.94 623.20 L227.36 623.20 L227.77 623.20 L228.19 623.20 L228.60 623.20 L229.02 623.20 L229.43 623.20 L229.85 623.20 L230.26 623.20 L230.68 623.20 L231.09 623.20 L231.51 623.20 L231.92 623.20 L232.34 623.20 L232.75 623.20 L233.17 623.20 L233.58 623.20 L234.00 623.20 L234.41 623.20 L234.83 623.20 L235.24 623.20 L235.66 623.20 L236.07 623.20 L236.49 623.20 L236.90 623.20 L237.32 623.20 L237.73 623.20 L238.15 623.20 L238.56 623.20 L238.98 623.20 L239.39 623.20 L239.81 623.20 L240.22 623.20 L240.64 623.20 L241.05 623.20 L241.47 623.20 L241.88 623.20 L242.30 623.20 L242.71 623.20 L243.13 623.20 L243.54 623.20 L243.96 623.20 L244.37 623.20 L244.79 623.20 L245.20 623.20 L245.62 623.20 L246.03 623.20 L246.45 623.20 L246.86 623.20 L247.28 623.20 L247.69 623.20 L248.11 623.20 L248.52 623.20 L248.94 623.20 L249.35 623.20 L249.77 623.20 L250.18 623.20 L250.60 623.20 L251.01 623.20 L251.43 623.20 L251.84 623.20 L252.26 623.20 L252.67 623.20 L253.09 623.20 L253.50 623.20 L253.92 623.20 L254.33 623.20 L254.75 623.20 L255.16 623.20 L255.58 623.20 L255.99 623.20 L256.41 623.20 L256.82 623.20 L257.24 623.20 L257.65 623.20 L258.07 623.20 L258.48 623.20 L258.90 623.20 L259.31 623.20 L259.73 623.20 L260.14 623.20 L260.56 623.20 L260.97 623.20 L261.39 623.20 L261.80 623.20 L262.22 623.20 L262.63 623.20 L263.05 623.20 L263.46 623.20 L263.88 623.20 L264.29 623.20 L264.71 623.20 L265.12 623.20 L265.54 623.20 L265.95 623.20 L266.37 623.20 L266.78 623.20 L267.20 623.20 L267.61 623.20 L268.03 623.20 L268.44 623.20 L268.86 623.20 L269.27 623.20 L269.69 623.20 L270.10 623.20 L270.52 623.20 L270.93 623.20 L271.35 623.20 L271.76 623.20 L272.18 623.20 L272.59 623.20 L273.01 623.20 L273.42 623.20 L273.84 623.20 L274.25 623.20 L274.67 623.20 L275.08 623.20 L275.50 623.20" fill="none" stroke="#00008b" stroke-width="1.20" stroke-linejoin="round" />
<path d="M26.50 479.49 L26.91 479.49 L27.33 479.49 L27.74 479.49 L28.16 479.49 L28.57 479.49 L28.99 479.49 L29.40 479.49 L29.82 479.49 L30.23 479.49 L30.65 479.49 L31.06 479.49 L31.48 479.49 L31.89 479.49 L32.31 479.49 L32.72 479.49 L33.14 479.49 L33.55 479.49 L33.97 479.49 L34.38 479.49 L34.80 479.49 L35.21 479.49 L35.63 479.49 L36.04 479.49 L36.46 479.49 L36.87 479.49 L37.29 479.49 L37.70 479.49 L38.12 479.49 L38.53 479.49 L38.95 479.49 L39.36 479.49 L39.78 479.49 L40.19 479.49 L40.61 479.49 L41.02 479.49 L41.44 479.49 L41.85 479.49 L42.27 479.49 L42.68 479.49 L43.10 479.49 L43.51 479.48 L43.93 479.48 L44.34 479.48 L44.76 479.48 L45.17 479.47 L45.59 479.46 L46.00 479.46 L46.42 479.45 L46.83 479.44 L47.25 479.43 L47.66 479.42 L48.08 479.41 L48.49 479.40 L48.91 479.39 L49.32 479.38 L49.74 479.37 L50.15 479.35 L50.57 479.34 L50.98 479.33 L51.40 479.32 L51.81 479.31 L52.23 479.30 L52.64 479.28 L53.06 479.27 L53.47 479.26 L53.89 479.25 L54.30 479.24 L54.72 479.24 L55.13 479.23 L55.55 479.22 L55.96 479.21 L56.38 479.21 L56.79 479.20 L57.21 479.20 L57.62 479.20 L58.04 479.20 L58.45 479.24 L58.87 479.34 L59.28 479.49 L59.70 479.68 L60.11 479.89 L60.53 480.12 L60.94 480.34 L61.36 480.59 L61.77 480.87 L62.19 481.19 L62.60 481.54 L63.02 481.91 L63.43 482.29 L63.85 482.69 L64.26 483.09 L64.68 483.49 L65.09 483.89 L65.51 484.29 L65.92 484.70 L66.34 485.12 L66.75 485.55 L67.17 486.00 L67.58 486.46 L68.00 486.95 L68.41 487.45 L68.83 487.97 L69.24 488.52 L69.66 489.09 L70.07 489.69 L70.49 490.30 L70.90 490.94 L71.32 491.61 L71.73 492.29 L72.15 492.99 L72.56 493.71 L72.98 494.45 L73.39 495.20 L73.81 495.97 L74.22 496.76 L74.64 497.55 L75.05 498.37 L75.47 499.19 L75.88 500.02 L76.30 500.87 L76.71 501.72 L77.13 502.58 L77.54 503.45 L77.96 504.32 L78.37 505.20 L78.79 506.08 L79.20 506.98 L79.62 507.90 L80.03 508.84 L80.45 509.80 L80.86 510.77 L81.28 511.77 L81.69 512.78 L82.11 513.81 L82.52 514.85 L82.94 515.90 L83.35 516.97 L83.77 518.05 L84.18 519.14 L84.60 520.24 L85.01 521.35 L85.43 522.47 L85.84 523.59 L86.26 524.72 L86.67 525.85 L87.09 526.98 L87.50 528.12 L87.92 529.26 L88.33 530.40 L88.75 531.54 L89.16 532.68 L89.58 533.83 L89.99 534.99 L90.41 536.16 L90.82 537.34 L91.24 538.52 L91.65 539.72 L92.07 540.92 L92.48 542.13 L92.90 543.34 L93.31 544.57 L93.73 545.80 L94.14 547.03 L94.56 548.28 L94.97 549.52 L95.39 550.78 L95.80 552.04 L96.22 553.30 L96.63 554.57 L97.05 555.85 L97.46 557.13 L97.88 558.41 L98.29 559.70 L98.71 560.99 L99.12 562.30 L99.54 563.63 L99.95 564.98 L100.37 566.34 L100.78 567.72 L101.20 569.12 L101.61 570.52 L102.03 571.93 L102.44 573.35 L102.86 574.77 L103.27 576.19 L103.69 577.61 L104.10 579.02 L104.52 580.43 L104.93 581.83 L105.35 583.22 L105.76 584.60 L106.18 585.96 L106.59 587.31 L107.01 588.63 L107.42 589.93 L107.84 591.21 L108.25 592.45 L108.67 593.67 L109.08 594.83 L109.50 595.97 L109.91 597.08 L110.33 598.18 L110.74 599.27 L111.16 600.37 L111.57 601.47 L111.99 602.60 L112.40 603.75 L112.82 604.94 L113.23 606.18 L113.65 607.55 L114.06 609.05 L114.48 610.62 L114.89 612.17 L115.31 613.62 L115.72 614.89 L116.14 615.91 L116.55 616.76 L116.97 617.58 L117.38 618.37 L117.80 619.11 L118.21 619.79 L118.63 620.40 L119.04 620.93 L119.46 621.36 L119.87 621.70 L120.29 621.91 L120.70 622.06 L121.12 622.20 L121.53 622.32 L121.95 622.41 L122.36 622.46 L122.78 622.49 L123.19 622.49 L123.61 622.49 L124.02 622.49 L124.44 622.49 L124.85 622.49 L125.27 622.49 L125.68 622.49 L126.10 622.49 L126.51 622.49 L126.93 622.49 L127.34 622.49 L127.76 622.49 L128.17 622.49 L128.59 622.49 L129.00 622.49 L129.42 622.49 L129.83 622.49 L130.25 622.49 L130.66 622.49 L131.08 622.49 L131.49 622.49 L131.91 622.49 L132.32 622.49 L132.74 622.49 L133.15 622.49 L133.57 622.49 L133.98 622.49 L134.40 622.49 L134.81 622.49 L135.23 622.49 L135.64 622.49 L136.06 622.49 L136.47 622.49 L136.89 622.49 L137.30 622.49 L137.72 622.49 L138.13 622.49 L138.55 622.49 L138.96 622.49 L139.38 622.49 L139.79 622.49 L140.21 622.49 L140.62 622.49 L141.04 622.49 L141.45 622.49 L141.87 622.49 L142.28 622.49 L142.70 622.49 L143.11 622.49 L143.53 622.49 L143.94 622.49 L144.36 622.49 L144.77 622.49 L145.19 622.49 L145.60 622.49 L146.02 622.49 L146.43 622.49 L146.85 622.49 L147.26 622.49 L147.68 622.49 L148.09 622.49 L148.51 622.49 L148.92 622.49 L149.34 622.49 L149.75 622.49 L150.17 622.49 L150.58 622.49 L151.00 622.49 L151.41 622.49 L151.83 622.49 L152.24 622.49 L152.66 622.49 L153.07 622.49 L153.49 622.49 L153.90 622.49 L154.32 622.49 L154.73 622.49 L155.15 622.49 L155.56 622.49 L155.98 622.49 L156.39 622.49 L156.81 622.49 L157.22 622.49 L157.64 622.49 L158.05 622.49 L158.47 622.49 L158.88 622.49 L159.30 622.49 L159.71 622.49 L160.13 622.49 L160.54 622.49 L160.96 622.49 L161.37 622.49 L161.79 622.49 L162.20 622.49 L162.62 622.49 L163.03 622.49 L163.45 622.49 L163.86 622.49 L164.28 622.49 L164.69 622.49 L165.11 622.49 L165.52 622.49 L165.94 622.49 L166.35 622.49 L166.77 622.49 L167.18 622.49 L167.60 622.49 L168.01 622.49 L168.43 622.49 L168.84 622.49 L169.26 622.49 L169.67 622.49 L170.09 622.49 L170.50 622.49 L170.92 622.49 L171.33 622.49 L171.75 622.49 L172.16 622.49 L172.58 622.49 L172.99 622.49 L173.41 622.49 L173.82 622.49 L174.24 622.49 L174.65 622.49 L175.07 622.49 L175.48 622.49 L175.90 622.49 L176.31 622.49 L176.73 622.49 L177.14 622.49 L177.56 622.49 L177.97 622.49 L178.39 622.49 L178.80 622.49 L179.22 622.49 L179.63 622.49 L180.05 622.49 L180.46 622.49 L180.88 622.49 L181.29 622.49 L181.71 622.49 L182.12 622.49 L182.54 622.49 L182.95 622.49 L183.37 622.49 L183.78 622.49 L184.20 622.49 L184.61 622.49 L185.03 622.49 L185.44 622.49 L185.86 622.49 L186.27 622.49 L186.69 622.49 L187.10 622.49 L187.52 622.49 L187.93 622.49 L188.35 622.49 L188.76 622.49 L189.18 622.49 L189.59 622.49 L190.01 622.49 L190.42 622.49 L190.84 622.49 L191.25 622.49 L191.67 622.49 L192.08 622.49 L192.50 622.49 L192.91 622.49 L193.33 622.49 L193.74 622.49 L194.16 622.49 L194.57 622.49 L194.99 622.49 L195.40 622.49 L195.82 622.49 L196.23 622.49 L196.65 622.49 L197.06 622.49 L197.48 622.49 L197.89 622.49 L198.31 622.49 L198.72 622.49 L199.14 622.49 L199.55 622.49 L199.97 622.49 L200.38 622.49 L200.80 622.49 L201.21 622.49 L201.63 622.49 L202.04 622.49 L202.46 622.49 L202.87 622.49 L203.29 622.49 L203.70 622.49 L204.12 622.49 L204.53 622.49 L204.95 622.49 L205.36 622.49 L205.78 622.49 L206.19 622.49 L206.61 622.49 L207.02 622.49 L207.44 622.49 L207.85 622.49 L208.27 622.49 L208.68 622.49 L209.10 622.49 L209.51 622.49 L209.93 622.49 L210.34 622.49 L210.76 622.49 L211.17 622.49 L211.59 622.49 L212.00 622.49 L212.42 622.49 L212.83 622.49 L213.25 622.49 L213.66 622.49 L214.08 622.49 L214.49 622.49 L214.91 622.49 L215.32 622.49 L215.74 622.49 L216.15 622.49 L216.57 622.49 L216.98 622.49 L217.40 622.49 L217.81 622.49 L218.23 622.49 L218.64 622.49 L219.06 622.49 L219.47 622.49 L219.89 622.49 L220.30 622.49 L220.72 622.49 L221.13 622.49 L221.55 622.49 L221.96 622.49 L222.38 622.49 L222.79 622.49 L223.21 622.49 L223.62 622.49 L224.04 622.49 L224.45 622.49 L224.87 622.49 L225.28 622.49 L225.70 622.49 L226.11 622.49 L226.53 622.49 L226.94 622.49 L227.36 622.49 L227.77 622.49 L228.19 622.49 L228.60 622.49 L229.02 622.49 L229.43 622.49 L229.85 622.49 L230.26 622.49 L230.68 622.49 L231.09 622.49 L231.51 622.49 L231.92 622.49 L232.34 622.49 L232.75 622.49 L233.17 622.49 L233.58 622.49 L234.00 622.49 L234.41 622.49 L234.83 622.49 L235.24 622.49 L235.66 622.49 L236.07 622.49 L236.49 622.49 L236.90 622.49 L237.32 622.49 L237.73 622.49 L238.15 622.49 L238.56 622.49 L238.98 622.49 L239.39 622.49 L239.81 622.49 L240.22 622.49 L240.64 622.49 L241.05 622.49 L241.47 622.49 L241.88 622.49 L242.30 622.49 L242.71 622.49 L243.13 622.49 L243.54 622.49 L243.96 622.49 L244.37 622.49 L244.79 622.49 L245.20 622.49 L245.62 622.49 L246.03 622.49 L246.45 622.49 L246.86 622.49 L247.28 622.49 L247.69 622.49 L248.11 622.49 L248.52 622.49 L248.94 622.49 L249.35 622.49 L249.77 622.49 L250.18 622.49 L250.60 622.49 L251.01 622.49 L251.43 622.49 L251.84 622.49 L252.26 622.49 L252.67 622.49 L253.09 622.49 L253.50 622.49 L253.92 622.49 L254.33 622.49 L254.75 622.49 L255.16 622.49 L255.58 622.49 L255.99 622.49 L256.41 622.49 L256.82 622.49 L257.24 622.49 L257.65 622.49 L258.07 622.49 L258.48 622.49 L258.90 622.49 L259.31 622.49 L259.73 622.49 L260.14 622.49 L260.56 622.49 L260.97 622.49 L261.39 622.49 L261.80 622.49 L262.22 622.49 L262.63 622.49 L263.05 622.49 L263.46 622.49 L263.88 622.49 L264.29 622.49 L264.71 622.49 L265.12 622.49 L265.54 622.49 L265.95 622.49 L266.37 622.49 L266.78 622.49 L267.20 622.49 L267.61 622.49 L268.03 622.49 L268.44 622.49 L268.86 622.49 L269.27 622.49 L269.69 622.49 L270.10 622.49 L270.52 622.49 L270.93 622.49 L271.35 622.49 L271.76 622.49 L272.18 622.49 L272.59 622.49 L273.01 622.49 L273.42 622.49 L273.84 622.49 L274.25 622.49 L274.67 622.49 L275.08 622.49 L275.50 622.49" fill="none" stroke="#add8e6" stroke-width="1.30" stroke-linejoin="round" />
<path d="M26.50 480.34 L26.91 480.34 L27.33 480.34 L27.74 480.34 L28.16 480.34 L28.57 480.34 L28.99 480.34 L29.40 480.34 L29.82 480.34 L30.23 480.34 L30.65 480.34 L31.06 480.34 L31.48 480.34 L31.89 480.34 L32.31 480.34 L32.72 480.34 L33.14 480.34 L33.55 480.34 L33.97 480.34 L34.38 480.34 L34.80 480.34 L35.21 480.34 L35.63 480.34 L36.04 480.34 L36.46 480.34 L36.87 480.34 L37.29 480.34 L37.70 480.34 L38.12 480.34 L38.53 480.34 L38.95 480.34 L39.36 480.34 L39.78 480.34 L40.19 480.34 L40.61 480.34 L41.02 480.34 L41.44 480.34 L41.85 480.34 L42.27 480.34 L42.68 480.34 L43.10 480.34 L43.51 480.34 L43.93 480.34 L44.34 480.34 L44.76 480.33 L45.17 480.33 L45.59 480.32 L46.00 480.31 L46.42 480.31 L46.83 480.30 L47.25 480.29 L47.66 480.28 L48.08 480.27 L48.49 480.26 L48.91 480.25 L49.32 480.24 L49.74 480.22 L50.15 480.21 L50.57 480.20 L50.98 480.19 L51.40 480.18 L51.81 480.16 L52.23 480.15 L52.64 480.14 L53.06 480.13 L53.47 480.12 L53.89 480.11 L54.30 480.10 L54.72 480.09 L55.13 480.09 L55.55 480.08 L55.96 480.07 L56.38 480.07 L56.79 480.06 L57.21 480.06 L57.62 480.06 L58.04 480.06 L58.45 480.09 L58.87 480.19 L59.28 480.35 L59.70 480.54 L60.11 480.75 L60.53 480.98 L60.94 481.20 L61.36 481.44 L61.77 481.73 L62.19 482.05 L62.60 482.39 L63.02 482.77 L63.43 483.15 L63.85 483.55 L64.26 483.95 L64.68 484.35 L65.09 484.74 L65.51 485.15 L65.92 485.56 L66.34 485.98 L66.75 486.41 L67.17 486.86 L67.58 487.32 L68.00 487.80 L68.41 488.31 L68.83 488.83 L69.24 489.38 L69.66 489.95 L70.07 490.54 L70.49 491.16 L70.90 491.80 L71.32 492.46 L71.73 493.15 L72.15 493.85 L72.56 494.57 L72.98 495.31 L73.39 496.06 L73.81 496.83 L74.22 497.61 L74.64 498.41 L75.05 499.22 L75.47 500.05 L75.88 500.88 L76.30 501.72 L76.71 502.58 L77.13 503.44 L77.54 504.30 L77.96 505.18 L78.37 506.06 L78.79 506.94 L79.20 507.84 L79.62 508.76 L80.03 509.70 L80.45 510.65 L80.86 511.63 L81.28 512.63 L81.69 513.64 L82.11 514.67 L82.52 515.71 L82.94 516.76 L83.35 517.83 L83.77 518.91 L84.18 520.00 L84.60 521.10 L85.01 522.21 L85.43 523.32 L85.84 524.45 L86.26 525.57 L86.67 526.71 L87.09 527.84 L87.50 528.98 L87.92 530.12 L88.33 531.26 L88.75 532.39 L89.16 533.54 L89.58 534.69 L89.99 535.85 L90.41 537.02 L90.82 538.20 L91.24 539.38 L91.65 540.58 L92.07 541.78 L92.48 542.99 L92.90 544.20 L93.31 545.43 L93.73 546.65 L94.14 547.89 L94.56 549.13 L94.97 550.38 L95.39 551.64 L95.80 552.90 L96.22 554.16 L96.63 555.43 L97.05 556.71 L97.46 557.99 L97.88 559.27 L98.29 560.56 L98.71 561.85 L99.12 563.16 L99.54 564.49 L99.95 565.84 L100.37 567.20 L100.78 568.58 L101.20 569.97 L101.61 571.38 L102.03 572.79 L102.44 574.20 L102.86 575.62 L103.27 577.05 L103.69 578.46 L104.10 579.88 L104.52 581.29 L104.93 582.69 L105.35 584.08 L105.76 585.46 L106.18 586.82 L106.59 588.16 L107.01 589.49 L107.42 590.79 L107.84 592.06 L108.25 593.31 L108.67 594.52 L109.08 595.69 L109.50 596.83 L109.91 597.94 L110.33 599.04 L110.74 600.13 L111.16 601.22 L111.57 602.33 L111.99 603.45 L112.40 604.61 L112.82 605.80 L113.23 607.04 L113.65 608.40 L114.06 609.91 L114.48 611.48 L114.89 613.03 L115.31 614.48 L115.72 615.75 L116.14 616.76 L116.55 617.61 L116.97 618.44 L117.38 619.23 L117.80 619.97 L118.21 620.65 L118.63 621.26 L119.04 621.79 L119.46 622.22 L119.87 622.55 L120.29 622.77 L120.70 622.92 L121.12 623.06 L121.53 623.17 L121.95 623.20 L122.36 623.20 L122.78 623.20 L123.19 623.20 L123.61 623.20 L124.02 623.20 L124.44 623.20 L124.85 623.20 L125.27 623.20 L125.68 623.20 L126.10 623.20 L126.51 623.20 L126.93 623.20 L127.34 623.20 L127.76 623.20 L128.17 623.20 L128.59 623.20 L129.00 623.20 L129.42 623.20 L129.83 623.20 L130.25 623.20 L130.66 623.20 L131.08 623.20 L131.49 623.20 L131.91 623.20 L132.32 623.20 L132.74 623.20 L133.15 623.20 L133.57 623.20 L133.98 623.20 L134.40 623.20 L134.81 623.20 L135.23 623.20 L135.64 623.20 L136.06 623.20 L136.47 623.20 L136.89 623.20 L137.30 623.20 L137.72 623.20 L138.13 623.20 L138.55 623.20 L138.96 623.20 L139.38 623.20 L139.79 623.20 L140.21 623.20 L140.62 623.20 L141.04 623.20 L141.45 623.20 L141.87 623.20 L142.28 623.20 L142.70 623.20 L143.11 623.20 L143.53 623.20 L143.94 623.20 L144.36 623.20 L144.77 623.20 L145.19 623.20 L145.60 623.20 L146.02 623.20 L146.43 623.20 L146.85 623.20 L147.26 623.20 L147.68 623.20 L148.09 623.20 L148.51 623.20 L148.92 623.20 L149.34 623.20 L149.75 623.20 L150.17 623.20 L150.58 623.20 L151.00 623.20 L151.41 623.20 L151.83 623.20 L152.24 623.20 L152.66 623.20 L153.07 623.20 L153.49 623.20 L153.90 623.20 L154.32 623.20 L154.73 623.20 L155.15 623.20 L155.56 623.20 L155.98 623.20 L156.39 623.20 L156.81 623.20 L157.22 623.20 L157.64 623.20 L158.05 623.20 L158.47 623.20 L158.88 623.20 L159.30 623.20 L159.71 623.20 L160.13 623.20 L160.54 623.20 L160.96 623.20 L161.37 623.20 L161.79 623.20 L162.20 623.20 L162.62 623.20 L163.03 623.20 L163.45 623.20 L163.86 623.20 L164.28 623.20 L164.69 623.20 L165.11 623.20 L165.52 623.20 L165.94 623.20 L166.35 623.20 L166.77 623.20 L167.18 623.20 L167.60 623.20 L168.01 623.20 L168.43 623.20 L168.84 623.20 L169.26 623.20 L169.67 623.20 L170.09 623.20 L170.50 623.20 L170.92 623.20 L171.33 623.20 L171.75 623.20 L172.16 623.20 L172.58 623.20 L172.99 623.20 L173.41 623.20 L173.82 623.20 L174.24 623.20 L174.65 623.20 L175.07 623.20 L175.48 623.20 L175.90 623.20 L176.31 623.20 L176.73 623.20 L177.14 623.20 L177.56 623.20 L177.97 623.20 L178.39 623.20 L178.80 623.20 L179.22 623.20 L179.63 623.20 L180.05 623.20 L180.46 623.20 L180.88 623.20 L181.29 623.20 L181.71 623.20 L182.12 623.20 L182.54 623.20 L182.95 623.20 L183.37 623.20 L183.78 623.20 L184.20 623.20 L184.61 623.20 L185.03 623.20 L185.44 623.20 L185.86 623.20 L186.27 623.20 L186.69 623.20 L187.10 623.20 L187.52 623.20 L187.93 623.20 L188.35 623.20 L188.76 623.20 L189.18 623.20 L189.59 623.20 L190.01 623.20 L190.42 623.20 L190.84 623.20 L191.25 623.20 L191.67 623.20 L192.08 623.20 L192.50 623.20 L192.91 623.20 L193.33 623.20 L193.74 623.20 L194.16 623.20 L194.57 623.20 L194.99 623.20 L195.40 623.20 L195.82 623.20 L196.23 623.20 L196.65 623.20 L197.06 623.20 L197.48 623.20 L197.89 623.20 L198.31 623.20 L198.72 623.20 L199.14 623.20 L199.55 623.20 L199.97 623.20 L200.38 623.20 L200.80 623.20 L201.21 623.20 L201.63 623.20 L202.04 623.20 L202.46 623.20 L202.87 623.20 L203.29 623.20 L203.70 623.20 L204.12 623.20 L204.53 623.20 L204.95 623.20 L205.36 623.20 L205.78 623.20 L206.19 623.20 L206.61 623.20 L207.02 623.20 L207.44 623.20 L207.85 623.20 L208.27 623.20 L208.68 623.20 L209.10 623.20 L209.51 623.20 L209.93 623.20 L210.34 623.20 L210.76 623.20 L211.17 623.20 L211.59 623.20 L212.00 623.20 L212.42 623.20 L212.83 623.20 L213.25 623.20 L213.66 623.20 L214.08 623.20 L214.49 623.20 L214.91 623.20 L215.32 623.20 L215.74 623.20 L216.15 623.20 L216.57 623.20 L216.98 623.20 L217.40 623.20 L217.81 623.20 L218.23 623.20 L218.64 623.20 L219.06 623.20 L219.47 623.20 L219.89 623.20 L220.30 623.20 L220.72 623.20 L221.13 623.20 L221.55 623.20 L221.96 623.20 L222.38 623.20 L222.79 623.20 L223.21 623.20 L223.62 623.20 L224.04 623.20 L224.45 623.20 L224.87 623.20 L225.28 623.20 L225.70 623.20 L226.11 623.20 L226.53 623.20 L226.94 623.20 L227.36 623.20 L227.77 623.20 L228.19 623.20 L228.60 623.20 L229.02 623.20 L229.43 623.20 L229.85 623.20 L230.26 623.20 L230.68 623.20 L231.09 623.20 L231.51 623.20 L231.92 623.20 L232.34 623.20 L232.75 623.20 L233.17 623.20 L233.58 623.20 L234.00 623.20 L234.41 623.20 L234.83 623.20 L235.24 623.20 L235.66 623.20 L236.07 623.20 L236.49 623.20 L236.90 623.20 L237.32 623.20 L237.73 623.20 L238.15 623.20 L238.56 623.20 L238.98 623.20 L239.39 623.20 L239.81 623.20 L240.22 623.20 L240.64 623.20 L241.05 623.20 L241.47 623.20 L241.88 623.20 L242.30 623.20 L242.71 623.20 L243.13 623.20 L243.54 623.20 L243.96 623.20 L244.37 623.20 L244.79 623.20 L245.20 623.20 L245.62 623.20 L246.03 623.20 L246.45 623.20 L246.86 623.20 L247.28 623.20 L247.69 623.20 L248.11 623.20 L248.52 623.20 L248.94 623.20 L249.35 623.20 L249.77 623.20 L250.18 623.20 L250.60 623.20 L251.01 623.20 L251.43 623.20 L251.84 623.20 L252.26 623.20 L252.67 623.20 L253.09 623.20 L253.50 623.20 L253.92 623.20 L254.33 623.20 L254.75 623.20 L255.16 623.20 L255.58 623.20 L255.99 623.20 L256.41 623.20 L256.82 623.20 L257.24 623.20 L257.65 623.20 L258.07 623.20 L258.48 623.20 L258.90 623.20 L259.31 623.20 L259.73 623.20 L260.14 623.20 L260.56 623.20 L260.97 623.20 L261.39 623.20 L261.80 623.20 L262.22 623.20 L262.63 623.20 L263.05 623.20 L263.46 623.20 L263.88 623.20 L264.29 623.20 L264.71 623.20 L265.12 623.20 L265.54 623.20 L265.95 623.20 L266.37 623.20 L266.78 623.20 L267.20 623.20 L267.61 623.20 L268.03 623.20 L268.44 623.20 L268.86 623.20 L269.27 623.20 L269.69 623.20 L270.10 623.20 L270.52 623.20 L270.93 623.20 L271.35 623.20 L271.76 623.20 L272.18 623.20 L272.59 623.20 L273.01 623.20 L273.42 623.20 L273.84 623.20 L274.25 623.20 L274.67 623.20 L275.08 623.20 L275.50 623.20" fill="none" stroke="#a3cfe4" stroke-width="1.20" stroke-linejoin="round" />
<path d="M124.03 623.20 L275.50 623.20" fill="none" stroke="#00008b" stroke-width="0.90" stroke-linejoin="round" />
<path d="M55.55 337.40 V624.20" stroke="#00ff00" stroke-width="1.00" stroke-opacity="0.72"/>
<text transform="translate(53.35 394.40) rotate(-90)" font-size="7.10" fill="#000">VC start</text>
<path d="M113.65 337.40 V624.20" stroke="#ff0000" stroke-width="1.00" stroke-opacity="0.70"/>
<text transform="translate(111.45 394.40) rotate(-90)" font-size="7.10" fill="#000">MDA start</text>
<path d="M121.95 337.40 V624.20" stroke="#006400" stroke-width="1.25" stroke-opacity="0.55"/>
<text transform="translate(119.75 394.40) rotate(-90)" font-size="7.10" fill="#000">VC end</text>
<path d="M163.45 337.40 V624.20" stroke="#ffa500" stroke-width="1.00" stroke-opacity="0.70"/>
<text transform="translate(161.25 437.30) rotate(-90)" font-size="7.10" fill="#000">Biannual MDA start</text>
<path d="M52.02 459.04 V485.92" stroke="#3a3a3a" stroke-width="1.1"/>
<path d="M53.06 471.62 V502.79" stroke="#3a3a3a" stroke-width="1.1"/>
<path d="M71.32 461.32 V489.64" stroke="#3a3a3a" stroke-width="1.1"/>
<path d="M68.41 505.65 V540.55" stroke="#3a3a3a" stroke-width="1.1"/>
<path d="M76.30 530.82 V566.86" stroke="#3a3a3a" stroke-width="1.1"/>
<path d="M85.01 503.08 V531.39" stroke="#3a3a3a" stroke-width="1.1"/>
<path d="M92.49 562.28 V588.88" stroke="#3a3a3a" stroke-width="1.1"/>
<path d="M106.59 604.61 V620.91" stroke="#3a3a3a" stroke-width="1.1"/>
<path d="M116.76 600.03 V620.34" stroke="#3a3a3a" stroke-width="1.1"/>
<path d="M118.21 617.77 V623.20" stroke="#3a3a3a" stroke-width="1.1"/>
<path d="M126.10 610.90 V621.77" stroke="#3a3a3a" stroke-width="1.1"/>
<path d="M131.29 616.05 V623.20" stroke="#3a3a3a" stroke-width="1.1"/>
<circle cx="52.02" cy="472.48" r="3.30" fill="#ffa500"/>
<circle cx="53.06" cy="486.78" r="3.30" fill="#ffa500"/>
<circle cx="71.32" cy="475.62" r="3.30" fill="#ffa500"/>
<circle cx="68.41" cy="523.96" r="3.30" fill="#ffa500"/>
<circle cx="76.30" cy="550.56" r="3.30" fill="#ffa500"/>
<circle cx="85.01" cy="517.95" r="3.30" fill="#ffa500"/>
<circle cx="92.49" cy="576.87" r="3.30" fill="#ffa500"/>
<circle cx="106.59" cy="616.05" r="3.30" fill="#ffa500"/>
<circle cx="116.76" cy="612.90" r="3.30" fill="#ffa500"/>
<circle cx="118.21" cy="623.20" r="3.30" fill="#ffa500"/>
<circle cx="126.10" cy="617.77" r="3.30" fill="#ffa500"/>
<circle cx="131.29" cy="621.77" r="3.30" fill="#ffa500"/>
</g>
<path d="M26.50 337.00 V623.50 H275.90" fill="none" stroke="#444" stroke-width="1"/>
<path d="M26.00 623.20 h-1.7" stroke="#444" stroke-width="0.9"/>
<text x="23.10" y="626.40" font-size="7.60" text-anchor="end" fill="#111" class="tk">0</text>
<path d="M26.00 594.60 h-1.7" stroke="#444" stroke-width="0.9"/>
<text x="23.10" y="597.80" font-size="7.60" text-anchor="end" fill="#111" class="tk">10</text>
<path d="M26.00 566.00 h-1.7" stroke="#444" stroke-width="0.9"/>
<text x="23.10" y="569.20" font-size="7.60" text-anchor="end" fill="#111" class="tk">20</text>
<path d="M26.00 537.40 h-1.7" stroke="#444" stroke-width="0.9"/>
<text x="23.10" y="540.60" font-size="7.60" text-anchor="end" fill="#111" class="tk">30</text>
<path d="M26.00 508.80 h-1.7" stroke="#444" stroke-width="0.9"/>
<text x="23.10" y="512.00" font-size="7.60" text-anchor="end" fill="#111" class="tk">40</text>
<path d="M26.00 480.20 h-1.7" stroke="#444" stroke-width="0.9"/>
<text x="23.10" y="483.40" font-size="7.60" text-anchor="end" fill="#111" class="tk">50</text>
<path d="M26.00 451.60 h-1.7" stroke="#444" stroke-width="0.9"/>
<text x="23.10" y="454.80" font-size="7.60" text-anchor="end" fill="#111" class="tk">60</text>
<path d="M26.00 423.00 h-1.7" stroke="#444" stroke-width="0.9"/>
<text x="23.10" y="426.20" font-size="7.60" text-anchor="end" fill="#111" class="tk">70</text>
<path d="M26.00 394.40 h-1.7" stroke="#444" stroke-width="0.9"/>
<text x="23.10" y="397.60" font-size="7.60" text-anchor="end" fill="#111" class="tk">80</text>
<path d="M26.00 365.80 h-1.7" stroke="#444" stroke-width="0.9"/>
<text x="23.10" y="369.00" font-size="7.60" text-anchor="end" fill="#111" class="tk">90</text>
<path d="M26.00 337.20 h-1.7" stroke="#444" stroke-width="0.9"/>
<text x="23.10" y="340.40" font-size="7.60" text-anchor="end" fill="#111" class="tk">100</text>
<path d="M47.25 624.00 v1.7" stroke="#444" stroke-width="0.9"/>
<text x="47.25" y="632.45" font-size="7.60" text-anchor="middle" fill="#111" class="tk">1975</text>
<path d="M68.00 624.00 v1.7" stroke="#444" stroke-width="0.9"/>
<text x="68.00" y="632.45" font-size="7.60" text-anchor="middle" fill="#111" class="tk">1980</text>
<path d="M88.75 624.00 v1.7" stroke="#444" stroke-width="0.9"/>
<text x="88.75" y="632.45" font-size="7.60" text-anchor="middle" fill="#111" class="tk">1985</text>
<path d="M109.50 624.00 v1.7" stroke="#444" stroke-width="0.9"/>
<text x="109.50" y="632.45" font-size="7.60" text-anchor="middle" fill="#111" class="tk">1990</text>
<path d="M130.25 624.00 v1.7" stroke="#444" stroke-width="0.9"/>
<text x="130.25" y="632.45" font-size="7.60" text-anchor="middle" fill="#111" class="tk">1995</text>
<path d="M151.00 624.00 v1.7" stroke="#444" stroke-width="0.9"/>
<text x="151.00" y="632.45" font-size="7.60" text-anchor="middle" fill="#111" class="tk">2000</text>
<path d="M171.75 624.00 v1.7" stroke="#444" stroke-width="0.9"/>
<text x="171.75" y="632.45" font-size="7.60" text-anchor="middle" fill="#111" class="tk">2005</text>
<path d="M192.50 624.00 v1.7" stroke="#444" stroke-width="0.9"/>
<text x="192.50" y="632.45" font-size="7.60" text-anchor="middle" fill="#111" class="tk">2010</text>
<path d="M213.25 624.00 v1.7" stroke="#444" stroke-width="0.9"/>
<text x="213.25" y="632.45" font-size="7.60" text-anchor="middle" fill="#111" class="tk">2015</text>
<path d="M234.00 624.00 v1.7" stroke="#444" stroke-width="0.9"/>
<text x="234.00" y="632.45" font-size="7.60" text-anchor="middle" fill="#111" class="tk">2020</text>
<path d="M254.75 624.00 v1.7" stroke="#444" stroke-width="0.9"/>
<text x="254.75" y="632.45" font-size="7.60" text-anchor="middle" fill="#111" class="tk">2025</text>
<path d="M275.50 624.00 v1.7" stroke="#444" stroke-width="0.9"/>
<text x="275.50" y="632.45" font-size="7.60" text-anchor="middle" fill="#111" class="tk">2030</text>
<text x="150.50" y="642.50" font-size="8.80" text-anchor="middle" fill="#000" class="at">Year</text>
<text transform="translate(7.20 481.50) rotate(-90)" font-size="9.50" text-anchor="middle" fill="#000" class="at">Microfilarial prevalence (%)</text>
<text x="27.00" y="331.80" font-size="8.40" fill="#000">c. Savanes SIZ − 50% BMP, 100% VC efficacy, biannual MDA</text>
<path d="M123.19 623.50 H275.90" stroke="#415163" stroke-width="1"/>
<circle cx="292.00" cy="480.60" r="3.3" fill="#ffa500"/>
<text x="301.30" y="482.80" font-size="5.85" fill="#000">Mesoendemic</text>
<clipPath id="cp4"><rect x="369.40" y="325.20" width="328.90" height="297.58"/></clipPath>
<g clip-path="url(#cp4)">
<path d="M374.40 481.49 L374.81 481.49 L375.23 481.48 L375.64 481.48 L376.06 481.48 L376.47 481.48 L376.89 481.48 L377.30 481.48 L377.72 481.48 L378.13 481.47 L378.55 481.47 L378.96 481.47 L379.38 481.47 L379.79 481.46 L380.21 481.46 L380.62 481.46 L381.04 481.46 L381.45 481.46 L381.87 481.45 L382.28 481.45 L382.70 481.45 L383.11 481.44 L383.53 481.44 L383.94 481.44 L384.36 481.44 L384.77 481.43 L385.19 481.43 L385.60 481.43 L386.02 481.42 L386.43 481.42 L386.84 481.42 L387.26 481.41 L387.67 481.41 L388.09 481.41 L388.50 481.40 L388.92 481.40 L389.33 481.40 L389.75 481.39 L390.16 481.39 L390.58 481.39 L390.99 481.38 L391.41 481.38 L391.82 481.37 L392.24 481.37 L392.65 481.37 L393.07 481.36 L393.48 481.36 L393.90 481.36 L394.31 481.35 L394.73 481.35 L395.14 481.34 L395.56 481.34 L395.97 481.33 L396.39 481.33 L396.80 481.32 L397.22 481.32 L397.63 481.31 L398.05 481.30 L398.46 481.30 L398.88 481.29 L399.29 481.28 L399.70 481.27 L400.12 481.27 L400.53 481.26 L400.95 481.25 L401.36 481.25 L401.78 481.24 L402.19 481.23 L402.61 481.23 L403.02 481.22 L403.44 481.22 L403.85 481.21 L404.27 481.21 L404.68 481.21 L405.10 481.20 L405.51 481.20 L405.93 481.20 L406.34 481.21 L406.76 481.25 L407.17 481.31 L407.59 481.39 L408.00 481.47 L408.42 481.57 L408.83 481.67" fill="none" stroke="#00008b" stroke-width="1.40" stroke-linejoin="round" />
<path d="M408.83 481.67 L409.25 481.77 L409.66 481.89 L410.08 482.02 L410.49 482.18 L410.91 482.36 L411.32 482.54 L411.73 482.74 L412.15 482.94 L412.56 483.14 L412.98 483.35 L413.39 483.55 L413.81 483.75 L414.22 483.96 L414.64 484.17 L415.05 484.38 L415.47 484.60 L415.88 484.83 L416.30 485.07 L416.71 485.32 L417.13 485.57 L417.54 485.84 L417.96 486.11 L418.37 486.40 L418.79 486.71 L419.20 487.02 L419.62 487.36 L420.03 487.71 L420.45 488.07 L420.86 488.45 L421.28 488.84 L421.69 489.25 L422.11 489.66 L422.52 490.09 L422.94 490.53 L423.35 490.98 L423.77 491.44 L424.18 491.90 L424.59 492.38 L425.01 492.86 L425.42 493.35 L425.84 493.85 L426.25 494.35 L426.67 494.86 L427.08 495.38 L427.50 495.89 L427.91 496.42 L428.33 496.94 L428.74 497.47 L429.16 498.01 L429.57 498.58 L429.99 499.17 L430.40 499.78 L430.82 500.41 L431.23 501.05 L431.65 501.70 L432.06 502.36 L432.48 503.02 L432.89 503.69 L433.31 504.37 L433.72 505.03 L434.14 505.70 L434.55 506.36 L434.97 507.01 L435.38 507.65 L435.80 508.27 L436.21 508.88 L436.62 509.48 L437.04 510.07 L437.45 510.66 L437.87 511.25 L438.28 511.83 L438.70 512.41 L439.11 512.99 L439.53 513.56 L439.94 514.14 L440.36 514.71 L440.77 515.29 L441.19 515.87 L441.60 516.45 L442.02 517.03 L442.43 517.62 L442.85 518.21 L443.26 518.81 L443.68 519.41 L444.09 520.02 L444.51 520.63 L444.92 521.25 L445.34 521.87 L445.75 522.49 L446.17 523.11 L446.58 523.74 L447.00 524.36 L447.41 524.99 L447.83 525.61 L448.24 526.23 L448.66 526.86 L449.07 527.48 L449.48 528.09 L449.90 528.71 L450.31 529.31 L450.73 529.92 L451.14 530.53 L451.56 531.13 L451.97 531.74 L452.39 532.35 L452.80 532.96 L453.22 533.57 L453.63 534.18 L454.05 534.78 L454.46 535.38 L454.88 535.98 L455.29 536.57 L455.71 537.15 L456.12 537.73 L456.54 538.31 L456.95 538.87 L457.37 539.43 L457.78 539.97 L458.20 540.51 L458.61 541.04 L459.03 541.56 L459.44 542.08 L459.86 542.58 L460.27 543.09 L460.69 543.58 L461.10 544.07 L461.51 544.55" fill="none" stroke="#00008b" stroke-width="2.00" stroke-linejoin="round" />
<path d="M461.51 544.55 L461.81 583.16 L465.37 563.14 L466.29 594.60 L469.52 575.15 L470.43 600.03 L473.67 586.59 L474.58 604.61 L477.82 594.03 L478.73 608.04 L481.97 598.03 L482.88 613.76 L486.11 604.90 L487.03 616.05 L490.26 608.61 L491.18 617.19 L494.41 610.90 L495.32 618.34 L498.56 613.19 L499.47 619.48 L502.71 615.48 L503.62 620.34 L506.86 617.19 L507.77 621.20 L511.00 618.91 L512.12 621.48 L512.54 621.50 L512.95 621.52 L513.37 621.54 L513.78 621.56 L514.20 621.58 L514.61 621.59 L515.03 621.61 L515.44 621.63 L515.86 621.64 L516.27 621.66 L516.69 621.67 L517.10 621.69 L517.52 621.70 L517.93 621.72 L518.35 621.73 L518.76 621.75 L519.18 621.76 L519.59 621.77 L520.01 621.79 L520.42 621.80 L520.84 621.82 L521.25 621.83 L521.67 621.84 L522.08 621.86 L522.50 621.87 L522.91 621.88 L523.33 621.90 L523.74 621.91 L524.15 621.93 L524.57 621.94 L524.98 621.95 L525.40 621.97 L525.81 621.98 L526.23 622.00 L526.64 622.01 L527.06 622.02 L527.47 622.04 L527.89 622.05 L528.30 622.06 L528.72 622.08 L529.13 622.09 L529.55 622.10 L529.96 622.12 L530.38 622.13 L530.79 622.15 L531.21 622.17 L531.62 622.18 L532.04 622.20 L532.45 622.22 L532.87 622.23 L533.28 622.25 L533.70 622.27 L534.11 622.29 L534.53 622.32 L534.94 622.34 L535.36 622.36 L535.77 622.38 L536.18 622.40 L536.60 622.43 L537.01 622.45 L537.43 622.47 L537.84 622.49 L538.26 622.52 L538.67 622.54 L539.09 622.56 L539.50 622.58 L539.92 622.61 L540.33 622.63 L540.75 622.65 L541.16 622.67 L541.58 622.69 L541.99 622.72 L542.41 622.74 L542.82 622.76 L543.24 622.79 L543.65 622.81 L544.07 622.83 L544.48 622.85 L544.90 622.88 L545.31 622.90 L545.73 622.92 L546.14 622.94 L546.56 622.96 L546.97 622.98 L547.39 623.00 L547.80 623.02 L548.22 623.04 L548.63 623.06 L549.04 623.07 L549.46 623.09 L549.87 623.11 L550.29 623.13 L550.70 623.15 L551.12 623.17 L551.53 623.18 L551.95 623.19 L552.36 623.20 L552.78 623.20 L553.19 623.20 L553.61 623.20 L554.02 623.20 L554.44 623.20 L554.85 623.20 L555.27 623.20 L555.68 623.20 L556.10 623.20 L556.51 623.20 L556.93 623.20 L557.34 623.20 L557.76 623.20 L558.17 623.20 L558.59 623.20 L559.00 623.20 L559.42 623.20 L559.83 623.20 L560.25 623.20 L560.66 623.20 L561.07 623.20 L561.49 623.20 L561.90 623.20 L562.32 623.20 L562.73 623.20 L563.15 623.20 L563.56 623.20 L563.98 623.20 L564.39 623.20 L564.81 623.20 L565.22 623.20 L565.64 623.20 L566.05 623.20 L566.47 623.20 L566.88 623.20 L567.30 623.20 L567.71 623.20 L568.13 623.20 L568.54 623.20 L568.96 623.20 L569.37 623.20 L569.79 623.20 L570.20 623.20 L570.62 623.20 L571.03 623.20 L571.45 623.20 L571.86 623.20 L572.28 623.20 L572.69 623.20 L573.11 623.20 L573.52 623.20 L573.93 623.20 L574.35 623.20 L574.76 623.20 L575.18 623.20 L575.59 623.20 L576.01 623.20 L576.42 623.20 L576.84 623.20 L577.25 623.20 L577.67 623.20 L578.08 623.20 L578.50 623.20 L578.91 623.20 L579.33 623.20 L579.74 623.20 L580.16 623.20 L580.57 623.20 L580.99 623.20 L581.40 623.20 L581.82 623.20 L582.23 623.20 L582.65 623.20 L583.06 623.20 L583.48 623.20 L583.89 623.20 L584.31 623.20 L584.72 623.20 L585.14 623.20 L585.55 623.20 L585.96 623.20 L586.38 623.20 L586.79 623.20 L587.21 623.20 L587.62 623.20 L588.04 623.20 L588.45 623.20 L588.87 623.20 L589.28 623.20 L589.70 623.20 L590.11 623.20 L590.53 623.20 L590.94 623.20 L591.36 623.20 L591.77 623.20 L592.19 623.20 L592.60 623.20 L593.02 623.20 L593.43 623.20 L593.85 623.20 L594.26 623.20 L594.68 623.20 L595.09 623.20 L595.51 623.20 L595.92 623.20 L596.34 623.20 L596.75 623.20 L597.17 623.20 L597.58 623.20 L598.00 623.20 L598.41 623.20 L598.82 623.20 L599.24 623.20 L599.65 623.20 L600.07 623.20 L600.48 623.20 L600.90 623.20 L601.31 623.20 L601.73 623.20 L602.14 623.20 L602.56 623.20 L602.97 623.20 L603.39 623.20 L603.80 623.20 L604.22 623.20 L604.63 623.20 L605.05 623.20 L605.46 623.20 L605.88 623.20 L606.29 623.20 L606.71 623.20 L607.12 623.20 L607.54 623.20 L607.95 623.20 L608.37 623.20 L608.78 623.20 L609.20 623.20 L609.61 623.20 L610.03 623.20 L610.44 623.20 L610.85 623.20 L611.27 623.20 L611.68 623.20 L612.10 623.20 L612.51 623.20 L612.93 623.20 L613.34 623.20 L613.76 623.20 L614.17 623.20 L614.59 623.20 L615.00 623.20 L615.42 623.20 L615.83 623.20 L616.25 623.20 L616.66 623.20 L617.08 623.20 L617.49 623.20 L617.91 623.20 L618.32 623.20 L618.74 623.20 L619.15 623.20 L619.57 623.20 L619.98 623.20 L620.40 623.20 L620.81 623.20 L621.23 623.20 L621.64 623.20 L622.06 623.20 L622.47 623.20 L622.89 623.20 L623.30 623.20" fill="none" stroke="#00008b" stroke-width="1.45" stroke-linejoin="round" />
<path d="M374.40 479.91 L374.81 479.91 L375.23 479.91 L375.64 479.91 L376.06 479.91 L376.47 479.91 L376.89 479.91 L377.30 479.90 L377.72 479.90 L378.13 479.90 L378.55 479.90 L378.96 479.90 L379.38 479.89 L379.79 479.89 L380.21 479.89 L380.62 479.89 L381.04 479.88 L381.45 479.88 L381.87 479.88 L382.28 479.88 L382.70 479.87 L383.11 479.87 L383.53 479.87 L383.94 479.87 L384.36 479.86 L384.77 479.86 L385.19 479.86 L385.60 479.85 L386.02 479.85 L386.43 479.85 L386.84 479.84 L387.26 479.84 L387.67 479.84 L388.09 479.83 L388.50 479.83 L388.92 479.83 L389.33 479.82 L389.75 479.82 L390.16 479.82 L390.58 479.81 L390.99 479.81 L391.41 479.81 L391.82 479.80 L392.24 479.80 L392.65 479.79 L393.07 479.79 L393.48 479.79 L393.90 479.78 L394.31 479.78 L394.73 479.77 L395.14 479.77 L395.56 479.77 L395.97 479.76 L396.39 479.76 L396.80 479.75 L397.22 479.74 L397.63 479.74 L398.05 479.73 L398.46 479.72 L398.88 479.72 L399.29 479.71 L399.70 479.70 L400.12 479.69 L400.53 479.69 L400.95 479.68 L401.36 479.67 L401.78 479.67 L402.19 479.66 L402.61 479.65 L403.02 479.65 L403.44 479.64 L403.85 479.64 L404.27 479.64 L404.68 479.63 L405.10 479.63 L405.51 479.63 L405.93 479.63 L406.34 479.65 L406.76 479.73 L407.17 479.84 L407.59 479.98 L408.00 480.14 L408.42 480.31 L408.83 480.49" fill="none" stroke="#add8e6" stroke-width="1.30" stroke-linejoin="round" />
<path d="M408.83 480.49 L409.25 480.68 L409.66 480.91 L410.08 481.17 L410.49 481.46 L410.91 481.77 L411.32 482.09 L411.73 482.42 L412.15 482.74 L412.56 483.06 L412.98 483.37 L413.39 483.67 L413.81 483.97 L414.22 484.26 L414.64 484.57 L415.05 484.87 L415.47 485.19 L415.88 485.51 L416.30 485.85 L416.71 486.20 L417.13 486.56 L417.54 486.95 L417.96 487.36 L418.37 487.79 L418.79 488.25 L419.20 488.75 L419.62 489.28 L420.03 489.85 L420.45 490.45 L420.86 491.08 L421.28 491.74 L421.69 492.42 L422.11 493.13 L422.52 493.87 L422.94 494.62 L423.35 495.40 L423.77 496.19 L424.18 497.00 L424.59 497.82 L425.01 498.65 L425.42 499.50 L425.84 500.35 L426.25 501.21 L426.67 502.07 L427.08 502.94 L427.50 503.81 L427.91 504.67 L428.33 505.54 L428.74 506.40 L429.16 507.28 L429.57 508.19 L429.99 509.13 L430.40 510.10 L430.82 511.08 L431.23 512.09 L431.65 513.10 L432.06 514.13 L432.48 515.16 L432.89 516.20 L433.31 517.24 L433.72 518.28 L434.14 519.31 L434.55 520.33 L434.97 521.33 L435.38 522.32 L435.80 523.29 L436.21 524.24 L436.62 525.18 L437.04 526.12 L437.45 527.05 L437.87 527.97 L438.28 528.89 L438.70 529.80 L439.11 530.71 L439.53 531.62 L439.94 532.52 L440.36 533.43 L440.77 534.32 L441.19 535.22 L441.60 536.11 L442.02 537.01 L442.43 537.90 L442.85 538.79 L443.26 539.69 L443.68 540.58 L444.09 541.48 L444.51 542.38 L444.92 543.28 L445.34 544.19 L445.75 545.09 L446.17 545.99 L446.58 546.88 L447.00 547.78 L447.41 548.66 L447.83 549.54 L448.24 550.42 L448.66 551.28 L449.07 552.14 L449.48 552.99 L449.90 553.82 L450.31 554.64 L450.73 555.45 L451.14 556.25 L451.56 557.02 L451.97 557.78 L452.39 558.53 L452.80 559.27 L453.22 560.01 L453.63 560.74 L454.05 561.46 L454.46 562.19 L454.88 562.91 L455.29 563.64 L455.71 564.38 L456.12 565.12 L456.54 565.88 L456.95 566.65 L457.37 567.43 L457.78 568.23 L458.20 569.03 L458.61 569.84 L459.03 570.66 L459.44 571.49 L459.86 572.33 L460.27 573.17 L460.69 574.01 L461.10 574.87 L461.51 575.72" fill="none" stroke="#add8e6" stroke-width="1.70" stroke-linejoin="round" />
<path d="M461.51 575.72 L462.34 608.90 L465.37 595.17 L466.91 614.91 L469.52 606.61 L471.06 619.48 L473.67 613.48 L475.20 620.63 L477.82 616.91 L479.35 621.48 L481.97 619.20 L483.50 622.06 L486.11 620.63 L487.65 622.63 L490.26 621.77 L491.80 622.91 L494.41 622.63 L494.70 622.91 L495.12 622.93 L495.53 622.95 L495.95 622.96 L496.36 622.98 L496.78 623.00 L497.19 623.02 L497.61 623.04 L498.02 623.06 L498.44 623.08 L498.85 623.10 L499.26 623.11 L499.68 623.13 L500.09 623.14 L500.51 623.16 L500.92 623.17 L501.34 623.18 L501.75 623.19 L502.17 623.19 L502.58 623.20 L503.00 623.20 L503.41 623.20 L503.83 623.20 L504.24 623.20 L504.66 623.20 L505.07 623.20 L505.49 623.20 L505.90 623.20 L506.32 623.20 L506.73 623.20 L507.15 623.20 L507.56 623.20 L507.98 623.20 L508.39 623.20 L508.81 623.20 L509.22 623.20 L509.64 623.20 L510.05 623.20 L510.47 623.20 L510.88 623.20 L511.29 623.20 L511.71 623.20 L512.12 623.20 L512.54 623.20 L512.95 623.20 L513.37 623.20 L513.78 623.20 L514.20 623.20 L514.61 623.20 L515.03 623.20 L515.44 623.20 L515.86 623.20 L516.27 623.20 L516.69 623.20 L517.10 623.20 L517.52 623.20 L517.93 623.20 L518.35 623.20 L518.76 623.20 L519.18 623.20 L519.59 623.20 L520.01 623.20 L520.42 623.20 L520.84 623.20 L521.25 623.20 L521.67 623.20 L522.08 623.20 L522.50 623.20 L522.91 623.20 L523.33 623.20 L523.74 623.20 L524.15 623.20 L524.57 623.20 L524.98 623.20 L525.40 623.20 L525.81 623.20 L526.23 623.20 L526.64 623.20 L527.06 623.20 L527.47 623.20 L527.89 623.20 L528.30 623.20 L528.72 623.20 L529.13 623.20 L529.55 623.20 L529.96 623.20 L530.38 623.20 L530.79 623.20 L531.21 623.20 L531.62 623.20 L532.04 623.20 L532.45 623.20 L532.87 623.20 L533.28 623.20 L533.70 623.20 L534.11 623.20 L534.53 623.20 L534.94 623.20 L535.36 623.20 L535.77 623.20 L536.18 623.20 L536.60 623.20 L537.01 623.20 L537.43 623.20 L537.84 623.20 L538.26 623.20 L538.67 623.20 L539.09 623.20 L539.50 623.20 L539.92 623.20 L540.33 623.20 L540.75 623.20 L541.16 623.20 L541.58 623.20 L541.99 623.20 L542.41 623.20 L542.82 623.20 L543.24 623.20 L543.65 623.20 L544.07 623.20 L544.48 623.20 L544.90 623.20 L545.31 623.20 L545.73 623.20 L546.14 623.20 L546.56 623.20 L546.97 623.20 L547.39 623.20 L547.80 623.20 L548.22 623.20 L548.63 623.20 L549.04 623.20 L549.46 623.20 L549.87 623.20 L550.29 623.20 L550.70 623.20 L551.12 623.20 L551.53 623.20 L551.95 623.20 L552.36 623.20 L552.78 623.20 L553.19 623.20 L553.61 623.20 L554.02 623.20 L554.44 623.20 L554.85 623.20 L555.27 623.20 L555.68 623.20 L556.10 623.20 L556.51 623.20 L556.93 623.20 L557.34 623.20 L557.76 623.20 L558.17 623.20 L558.59 623.20 L559.00 623.20 L559.42 623.20 L559.83 623.20 L560.25 623.20 L560.66 623.20 L561.07 623.20 L561.49 623.20 L561.90 623.20 L562.32 623.20 L562.73 623.20 L563.15 623.20 L563.56 623.20 L563.98 623.20 L564.39 623.20 L564.81 623.20 L565.22 623.20 L565.64 623.20 L566.05 623.20 L566.47 623.20 L566.88 623.20 L567.30 623.20 L567.71 623.20 L568.13 623.20 L568.54 623.20 L568.96 623.20 L569.37 623.20 L569.79 623.20 L570.20 623.20 L570.62 623.20 L571.03 623.20 L571.45 623.20 L571.86 623.20 L572.28 623.20 L572.69 623.20 L573.11 623.20 L573.52 623.20 L573.93 623.20 L574.35 623.20 L574.76 623.20 L575.18 623.20 L575.59 623.20 L576.01 623.20 L576.42 623.20 L576.84 623.20 L577.25 623.20 L577.67 623.20 L578.08 623.20 L578.50 623.20 L578.91 623.20 L579.33 623.20 L579.74 623.20 L580.16 623.20 L580.57 623.20 L580.99 623.20 L581.40 623.20 L581.82 623.20 L582.23 623.20 L582.65 623.20 L583.06 623.20 L583.48 623.20 L583.89 623.20 L584.31 623.20 L584.72 623.20 L585.14 623.20 L585.55 623.20 L585.96 623.20 L586.38 623.20 L586.79 623.20 L587.21 623.20 L587.62 623.20 L588.04 623.20 L588.45 623.20 L588.87 623.20 L589.28 623.20 L589.70 623.20 L590.11 623.20 L590.53 623.20 L590.94 623.20 L591.36 623.20 L591.77 623.20 L592.19 623.20 L592.60 623.20 L593.02 623.20 L593.43 623.20 L593.85 623.20 L594.26 623.20 L594.68 623.20 L595.09 623.20 L595.51 623.20 L595.92 623.20 L596.34 623.20 L596.75 623.20 L597.17 623.20 L597.58 623.20 L598.00 623.20 L598.41 623.20 L598.82 623.20 L599.24 623.20 L599.65 623.20 L600.07 623.20 L600.48 623.20 L600.90 623.20 L601.31 623.20 L601.73 623.20 L602.14 623.20 L602.56 623.20 L602.97 623.20 L603.39 623.20 L603.80 623.20 L604.22 623.20 L604.63 623.20 L605.05 623.20 L605.46 623.20 L605.88 623.20 L606.29 623.20 L606.71 623.20 L607.12 623.20 L607.54 623.20 L607.95 623.20 L608.37 623.20 L608.78 623.20 L609.20 623.20 L609.61 623.20 L610.03 623.20 L610.44 623.20 L610.85 623.20 L611.27 623.20 L611.68 623.20 L612.10 623.20 L612.51 623.20 L612.93 623.20 L613.34 623.20 L613.76 623.20 L614.17 623.20 L614.59 623.20 L615.00 623.20 L615.42 623.20 L615.83 623.20 L616.25 623.20 L616.66 623.20 L617.08 623.20 L617.49 623.20 L617.91 623.20 L618.32 623.20 L618.74 623.20 L619.15 623.20 L619.57 623.20 L619.98 623.20 L620.40 623.20 L620.81 623.20 L621.23 623.20 L621.64 623.20 L622.06 623.20 L622.47 623.20 L622.89 623.20 L623.30 623.20" fill="none" stroke="#add8e6" stroke-width="1.25" stroke-linejoin="round" />
<path d="M374.40 479.06 L374.81 479.06 L375.23 479.06 L375.64 479.06 L376.06 479.05 L376.47 479.05 L376.89 479.05 L377.30 479.05 L377.72 479.05 L378.13 479.05 L378.55 479.05 L378.96 479.05 L379.38 479.05 L379.79 479.05 L380.21 479.04 L380.62 479.04 L381.04 479.04 L381.45 479.04 L381.87 479.04 L382.28 479.03 L382.70 479.03 L383.11 479.03 L383.53 479.03 L383.94 479.02 L384.36 479.02 L384.77 479.02 L385.19 479.01 L385.60 479.01 L386.02 479.01 L386.43 479.00 L386.84 479.00 L387.26 479.00 L387.67 478.99 L388.09 478.99 L388.50 478.99 L388.92 478.98 L389.33 478.98 L389.75 478.97 L390.16 478.97 L390.58 478.97 L390.99 478.96 L391.41 478.96 L391.82 478.95 L392.24 478.95 L392.65 478.94 L393.07 478.94 L393.48 478.93 L393.90 478.93 L394.31 478.92 L394.73 478.92 L395.14 478.91 L395.56 478.91 L395.97 478.90 L396.39 478.88 L396.80 478.87 L397.22 478.85 L397.63 478.84 L398.05 478.82 L398.46 478.80 L398.88 478.77 L399.29 478.75 L399.70 478.73 L400.12 478.70 L400.53 478.68 L400.95 478.66 L401.36 478.64 L401.78 478.61 L402.19 478.59 L402.61 478.57 L403.02 478.55 L403.44 478.54 L403.85 478.52 L404.27 478.51 L404.68 478.50 L405.10 478.49 L405.51 478.49 L405.93 478.48 L406.34 478.50 L406.76 478.53 L407.17 478.59 L407.59 478.67 L408.00 478.76 L408.42 478.86 L408.83 478.97" fill="none" stroke="#add8e6" stroke-width="1.50" stroke-linejoin="round" />
<path d="M408.83 478.97 L409.25 479.08 L409.66 479.20 L410.08 479.33 L410.49 479.49 L410.91 479.68 L411.32 479.89 L411.73 480.12 L412.15 480.35 L412.56 480.59 L412.98 480.83 L413.39 481.06 L413.81 481.29 L414.22 481.53 L414.64 481.78 L415.05 482.04 L415.47 482.30 L415.88 482.56 L416.30 482.83 L416.71 483.10 L417.13 483.36 L417.54 483.62 L417.96 483.88 L418.37 484.13 L418.79 484.37 L419.20 484.61 L419.62 484.85 L420.03 485.08 L420.45 485.30 L420.86 485.53 L421.28 485.75 L421.69 485.97 L422.11 486.19 L422.52 486.40 L422.94 486.62 L423.35 486.84 L423.77 487.06 L424.18 487.28 L424.59 487.50 L425.01 487.72 L425.42 487.95 L425.84 488.19 L426.25 488.42 L426.67 488.67 L427.08 488.92 L427.50 489.17 L427.91 489.43 L428.33 489.70 L428.74 489.98 L429.16 490.27 L429.57 490.57 L429.99 490.89 L430.40 491.21 L430.82 491.55 L431.23 491.89 L431.65 492.24 L432.06 492.60 L432.48 492.95 L432.89 493.32 L433.31 493.68 L433.72 494.04 L434.14 494.40 L434.55 494.76 L434.97 495.11 L435.38 495.46 L435.80 495.80 L436.21 496.13 L436.62 496.46 L437.04 496.80 L437.45 497.13 L437.87 497.46 L438.28 497.79 L438.70 498.12 L439.11 498.45 L439.53 498.78 L439.94 499.11 L440.36 499.43 L440.77 499.76 L441.19 500.08 L441.60 500.40 L442.02 500.71 L442.43 501.03 L442.85 501.34 L443.26 501.65 L443.68 501.96 L444.09 502.27 L444.51 502.58 L444.92 502.89 L445.34 503.20 L445.75 503.51 L446.17 503.81 L446.58 504.12 L447.00 504.42 L447.41 504.72 L447.83 505.01 L448.24 505.30 L448.66 505.58 L449.07 505.86 L449.48 506.13 L449.90 506.39 L450.31 506.65 L450.73 506.90 L451.14 507.14 L451.56 507.38 L451.97 507.62 L452.39 507.85 L452.80 508.08 L453.22 508.30 L453.63 508.52 L454.05 508.74 L454.46 508.95 L454.88 509.16 L455.29 509.37 L455.71 509.57 L456.12 509.77 L456.54 509.96 L456.95 510.15 L457.37 510.33 L457.78 510.52 L458.20 510.69 L458.61 510.87 L459.03 511.03 L459.44 511.20 L459.86 511.35 L460.27 511.51 L460.69 511.66 L461.10 511.80 L461.51 511.95" fill="none" stroke="#add8e6" stroke-width="2.40" stroke-linejoin="round" />
<path d="M461.51 511.95 L462.34 567.43 L465.37 529.96 L466.91 574.58 L469.52 543.69 L471.06 582.59 L473.67 554.56 L475.20 588.31 L477.82 563.71 L479.35 593.46 L481.97 571.15 L483.50 599.18 L486.11 582.59 L487.65 604.04 L490.26 588.31 L491.80 607.18 L494.41 593.46 L495.95 609.76 L498.56 598.03 L500.09 611.76 L502.71 601.18 L504.24 613.76 L506.86 604.61 L508.39 615.19 L511.00 607.47 L512.54 616.34 L514.49 613.48 L515.73 616.77 L517.06 615.48 L518.35 618.05 L519.59 617.19 L520.63 618.62 L521.04 618.77 L521.46 618.92 L521.87 619.06 L522.29 619.20 L522.70 619.33 L523.12 619.46 L523.53 619.57 L523.95 619.68 L524.36 619.78 L524.78 619.87 L525.19 619.97 L525.61 620.06 L526.02 620.15 L526.44 620.24 L526.85 620.33 L527.27 620.41 L527.68 620.49 L528.10 620.57 L528.51 620.65 L528.93 620.72 L529.34 620.79 L529.76 620.86 L530.17 620.93 L530.58 620.99 L531.00 621.05 L531.41 621.11 L531.83 621.17 L532.24 621.23 L532.66 621.28 L533.07 621.33 L533.49 621.38 L533.90 621.43 L534.32 621.47 L534.73 621.52 L535.15 621.56 L535.56 621.61 L535.98 621.65 L536.39 621.69 L536.81 621.73 L537.22 621.77 L537.64 621.81 L538.05 621.85 L538.47 621.88 L538.88 621.92 L539.30 621.96 L539.71 622.00 L540.13 622.04 L540.54 622.08 L540.96 622.12 L541.37 622.16 L541.79 622.20 L542.20 622.24 L542.61 622.28 L543.03 622.32 L543.44 622.36 L543.86 622.40 L544.27 622.44 L544.69 622.48 L545.10 622.52 L545.52 622.55 L545.93 622.59 L546.35 622.62 L546.76 622.65 L547.18 622.68 L547.59 622.71 L548.01 622.74 L548.42 622.76 L548.84 622.78 L549.25 622.80 L549.67 622.82 L550.08 622.84 L550.50 622.87 L550.91 622.89 L551.33 622.91 L551.74 622.93 L552.16 622.95 L552.57 622.97 L552.99 622.99 L553.40 623.00 L553.82 623.02 L554.23 623.04 L554.65 623.06 L555.06 623.07 L555.47 623.09 L555.89 623.10 L556.30 623.12 L556.72 623.13 L557.13 623.14 L557.55 623.15 L557.96 623.16 L558.38 623.17 L558.79 623.18 L559.21 623.19 L559.62 623.19 L560.04 623.20 L560.45 623.20 L560.87 623.20 L561.28 623.20 L561.70 623.20 L562.11 623.20 L562.53 623.20 L562.94 623.20 L563.36 623.20 L563.77 623.20 L564.19 623.20 L564.60 623.20 L565.02 623.20 L565.43 623.20 L565.85 623.20 L566.26 623.20 L566.68 623.20 L567.09 623.20 L567.50 623.20 L567.92 623.20 L568.33 623.20 L568.75 623.20 L569.16 623.20 L569.58 623.20 L569.99 623.20 L570.41 623.20 L570.82 623.20 L571.24 623.20 L571.65 623.20 L572.07 623.20 L572.48 623.20 L572.90 623.20 L573.31 623.20 L573.73 623.20 L574.14 623.20 L574.56 623.20 L574.97 623.20 L575.39 623.20 L575.80 623.20 L576.22 623.20 L576.63 623.20 L577.05 623.20 L577.46 623.20 L577.88 623.20 L578.29 623.20 L578.71 623.20 L579.12 623.20 L579.54 623.20 L579.95 623.20 L580.36 623.20 L580.78 623.20 L581.19 623.20 L581.61 623.20 L582.02 623.20 L582.44 623.20 L582.85 623.20 L583.27 623.20 L583.68 623.20 L584.10 623.20 L584.51 623.20 L584.93 623.20 L585.34 623.20 L585.76 623.20 L586.17 623.20 L586.59 623.20 L587.00 623.20 L587.42 623.20 L587.83 623.20 L588.25 623.20 L588.66 623.20 L589.08 623.20 L589.49 623.20 L589.91 623.20 L590.32 623.20 L590.74 623.20 L591.15 623.20 L591.57 623.20 L591.98 623.20 L592.39 623.20 L592.81 623.20 L593.22 623.20 L593.64 623.20 L594.05 623.20 L594.47 623.20 L594.88 623.20 L595.30 623.20 L595.71 623.20 L596.13 623.20 L596.54 623.20 L596.96 623.20 L597.37 623.20 L597.79 623.20 L598.20 623.20 L598.62 623.20 L599.03 623.20 L599.45 623.20 L599.86 623.20 L600.28 623.20 L600.69 623.20 L601.11 623.20 L601.52 623.20 L601.94 623.20 L602.35 623.20 L602.77 623.20 L603.18 623.20 L603.60 623.20 L604.01 623.20 L604.43 623.20 L604.84 623.20 L605.25 623.20 L605.67 623.20 L606.08 623.20 L606.50 623.20 L606.91 623.20 L607.33 623.20 L607.74 623.20 L608.16 623.20 L608.57 623.20 L608.99 623.20 L609.40 623.20 L609.82 623.20 L610.23 623.20 L610.65 623.20 L611.06 623.20 L611.48 623.20 L611.89 623.20 L612.31 623.20 L612.72 623.20 L613.14 623.20 L613.55 623.20 L613.97 623.20 L614.38 623.20 L614.80 623.20 L615.21 623.20 L615.63 623.20 L616.04 623.20 L616.46 623.20 L616.87 623.20 L617.28 623.20 L617.70 623.20 L618.11 623.20 L618.53 623.20 L618.94 623.20 L619.36 623.20 L619.77 623.20 L620.19 623.20 L620.60 623.20 L621.02 623.20 L621.43 623.20 L621.85 623.20 L622.26 623.20 L622.68 623.20 L623.09 623.20" fill="none" stroke="#add8e6" stroke-width="1.40" stroke-linejoin="round" />
<path d="M512.12 621.48 L512.54 621.50 L512.95 621.52 L513.37 621.54 L513.78 621.56 L514.20 621.58 L514.61 621.59 L515.03 621.61 L515.44 621.63 L515.86 621.64 L516.27 621.66 L516.69 621.67 L517.10 621.69 L517.52 621.70 L517.93 621.72 L518.35 621.73 L518.76 621.75 L519.18 621.76 L519.59 621.77 L520.01 621.79 L520.42 621.80 L520.84 621.82 L521.25 621.83 L521.67 621.84 L522.08 621.86 L522.50 621.87 L522.91 621.88 L523.33 621.90 L523.74 621.91 L524.15 621.93 L524.57 621.94 L524.98 621.95 L525.40 621.97 L525.81 621.98 L526.23 622.00 L526.64 622.01 L527.06 622.02 L527.47 622.04 L527.89 622.05 L528.30 622.06 L528.72 622.08 L529.13 622.09 L529.55 622.10 L529.96 622.12 L530.38 622.13 L530.79 622.15 L531.21 622.17 L531.62 622.18 L532.04 622.20 L532.45 622.22 L532.87 622.23 L533.28 622.25 L533.70 622.27 L534.11 622.29 L534.53 622.32 L534.94 622.34 L535.36 622.36 L535.77 622.38 L536.18 622.40 L536.60 622.43 L537.01 622.45 L537.43 622.47 L537.84 622.49 L538.26 622.52 L538.67 622.54 L539.09 622.56 L539.50 622.58 L539.92 622.61 L540.33 622.63 L540.75 622.65 L541.16 622.67 L541.58 622.69 L541.99 622.72 L542.41 622.74 L542.82 622.76 L543.24 622.79 L543.65 622.81 L544.07 622.83 L544.48 622.85 L544.90 622.88 L545.31 622.90 L545.73 622.92 L546.14 622.94 L546.56 622.96 L546.97 622.98 L547.39 623.00 L547.80 623.02 L548.22 623.04 L548.63 623.06 L549.04 623.07 L549.46 623.09 L549.87 623.11 L550.29 623.12 L550.70 623.13 L551.12 623.15 L551.53 623.16 L551.95 623.18 L552.36 623.19 L552.78 623.20" fill="none" stroke="#00008b" stroke-width="1.45" stroke-linejoin="round" />
<path d="M403.44 337.40 V624.20" stroke="#00ff00" stroke-width="1.00" stroke-opacity="0.85"/>
<text transform="translate(401.24 394.40) rotate(-90)" font-size="7.10" fill="#000">VC start</text>
<path d="M461.51 337.40 V624.20" stroke="#ff0000" stroke-width="1.00" stroke-opacity="0.85"/>
<text transform="translate(459.31 394.40) rotate(-90)" font-size="7.10" fill="#000">MDA start</text>
<path d="M473.96 337.40 V624.20" stroke="#006400" stroke-width="1.40" stroke-opacity="0.58"/>
<text transform="translate(471.76 394.40) rotate(-90)" font-size="7.10" fill="#000">VC end</text>
<path d="M399.70 453.89 V489.35" stroke="#3a3a3a" stroke-width="1.1"/>
<path d="M463.59 616.62 V623.20" stroke="#3a3a3a" stroke-width="1.1"/>
<path d="M479.15 611.47 V621.48" stroke="#3a3a3a" stroke-width="1.1"/>
<path d="M495.95 613.19 V622.63" stroke="#3a3a3a" stroke-width="1.1"/>
<path d="M513.78 617.77 V623.20" stroke="#3a3a3a" stroke-width="1.1"/>
<path d="M521.67 618.34 V623.20" stroke="#3a3a3a" stroke-width="1.1"/>
<path d="M526.02 618.62 V623.20" stroke="#3a3a3a" stroke-width="1.1"/>
<circle cx="399.70" cy="471.91" r="3.30" fill="#ffa500"/>
<circle cx="463.59" cy="621.77" r="3.30" fill="#ffa500"/>
<circle cx="479.15" cy="617.19" r="3.30" fill="#ffa500"/>
<circle cx="495.95" cy="619.77" r="3.30" fill="#ffa500"/>
<circle cx="513.78" cy="622.91" r="3.30" fill="#ffa500"/>
<circle cx="521.67" cy="622.77" r="3.30" fill="#ffa500"/>
<circle cx="526.02" cy="622.77" r="3.30" fill="#ffa500"/>
</g>
<path d="M374.50 337.00 V623.50 H623.70" fill="none" stroke="#444" stroke-width="1"/>
<path d="M374.00 623.20 h-1.7" stroke="#444" stroke-width="0.9"/>
<text x="371.00" y="626.40" font-size="7.60" text-anchor="end" fill="#111" class="tk">0</text>
<path d="M374.00 594.60 h-1.7" stroke="#444" stroke-width="0.9"/>
<text x="371.00" y="597.80" font-size="7.60" text-anchor="end" fill="#111" class="tk">10</text>
<path d="M374.00 566.00 h-1.7" stroke="#444" stroke-width="0.9"/>
<text x="371.00" y="569.20" font-size="7.60" text-anchor="end" fill="#111" class="tk">20</text>
<path d="M374.00 537.40 h-1.7" stroke="#444" stroke-width="0.9"/>
<text x="371.00" y="540.60" font-size="7.60" text-anchor="end" fill="#111" class="tk">30</text>
<path d="M374.00 508.80 h-1.7" stroke="#444" stroke-width="0.9"/>
<text x="371.00" y="512.00" font-size="7.60" text-anchor="end" fill="#111" class="tk">40</text>
<path d="M374.00 480.20 h-1.7" stroke="#444" stroke-width="0.9"/>
<text x="371.00" y="483.40" font-size="7.60" text-anchor="end" fill="#111" class="tk">50</text>
<path d="M374.00 451.60 h-1.7" stroke="#444" stroke-width="0.9"/>
<text x="371.00" y="454.80" font-size="7.60" text-anchor="end" fill="#111" class="tk">60</text>
<path d="M374.00 423.00 h-1.7" stroke="#444" stroke-width="0.9"/>
<text x="371.00" y="426.20" font-size="7.60" text-anchor="end" fill="#111" class="tk">70</text>
<path d="M374.00 394.40 h-1.7" stroke="#444" stroke-width="0.9"/>
<text x="371.00" y="397.60" font-size="7.60" text-anchor="end" fill="#111" class="tk">80</text>
<path d="M374.00 365.80 h-1.7" stroke="#444" stroke-width="0.9"/>
<text x="371.00" y="369.00" font-size="7.60" text-anchor="end" fill="#111" class="tk">90</text>
<path d="M374.00 337.20 h-1.7" stroke="#444" stroke-width="0.9"/>
<text x="371.00" y="340.40" font-size="7.60" text-anchor="end" fill="#111" class="tk">100</text>
<path d="M395.14 624.00 v1.7" stroke="#444" stroke-width="0.9"/>
<text x="395.14" y="632.45" font-size="7.60" text-anchor="middle" fill="#111" class="tk">1975</text>
<path d="M415.88 624.00 v1.7" stroke="#444" stroke-width="0.9"/>
<text x="415.88" y="632.45" font-size="7.60" text-anchor="middle" fill="#111" class="tk">1980</text>
<path d="M436.62 624.00 v1.7" stroke="#444" stroke-width="0.9"/>
<text x="436.62" y="632.45" font-size="7.60" text-anchor="middle" fill="#111" class="tk">1985</text>
<path d="M457.37 624.00 v1.7" stroke="#444" stroke-width="0.9"/>
<text x="457.37" y="632.45" font-size="7.60" text-anchor="middle" fill="#111" class="tk">1990</text>
<path d="M478.11 624.00 v1.7" stroke="#444" stroke-width="0.9"/>
<text x="478.11" y="632.45" font-size="7.60" text-anchor="middle" fill="#111" class="tk">1995</text>
<path d="M498.85 624.00 v1.7" stroke="#444" stroke-width="0.9"/>
<text x="498.85" y="632.45" font-size="7.60" text-anchor="middle" fill="#111" class="tk">2000</text>
<path d="M519.59 624.00 v1.7" stroke="#444" stroke-width="0.9"/>
<text x="519.59" y="632.45" font-size="7.60" text-anchor="middle" fill="#111" class="tk">2005</text>
<path d="M540.33 624.00 v1.7" stroke="#444" stroke-width="0.9"/>
<text x="540.33" y="632.45" font-size="7.60" text-anchor="middle" fill="#111" class="tk">2010</text>
<path d="M561.07 624.00 v1.7" stroke="#444" stroke-width="0.9"/>
<text x="561.07" y="632.45" font-size="7.60" text-anchor="middle" fill="#111" class="tk">2015</text>
<path d="M581.82 624.00 v1.7" stroke="#444" stroke-width="0.9"/>
<text x="581.82" y="632.45" font-size="7.60" text-anchor="middle" fill="#111" class="tk">2020</text>
<path d="M602.56 624.00 v1.7" stroke="#444" stroke-width="0.9"/>
<text x="602.56" y="632.45" font-size="7.60" text-anchor="middle" fill="#111" class="tk">2025</text>
<path d="M623.30 624.00 v1.7" stroke="#444" stroke-width="0.9"/>
<text x="623.30" y="632.45" font-size="7.60" text-anchor="middle" fill="#111" class="tk">2030</text>
<text x="498.35" y="642.50" font-size="8.80" text-anchor="middle" fill="#000" class="at">Year</text>
<text transform="translate(354.60 481.50) rotate(-90)" font-size="9.50" text-anchor="middle" fill="#000" class="at">Microfilarial prevalence (%)</text>
<text x="374.90" y="331.80" font-size="8.40" fill="#000">d. Savanes non−SIZ − 50% BMP</text>
<path d="M540.33 623.50 H623.70" stroke="#415163" stroke-width="1"/>
<circle cx="639.80" cy="480.60" r="3.3" fill="#ffa500"/>
<text x="649.10" y="482.80" font-size="5.85" fill="#000">Mesoendemic</text>
<clipPath id="cp5"><rect x="21.60" y="650.60" width="340.80" height="297.18"/></clipPath>
<g clip-path="url(#cp5)">
<path d="M26.60 751.55 L27.03 751.53 L27.47 751.51 L27.90 751.49 L28.34 751.48 L28.77 751.46 L29.21 751.44 L29.64 751.43 L30.08 751.41 L30.51 751.39 L30.95 751.38 L31.38 751.36 L31.82 751.34 L32.25 751.33 L32.69 751.31 L33.12 751.30 L33.55 751.28 L33.99 751.27 L34.42 751.25 L34.86 751.24 L35.29 751.22 L35.73 751.21 L36.16 751.19 L36.60 751.18 L37.03 751.17 L37.47 751.15 L37.90 751.14 L38.34 751.13 L38.77 751.11 L39.21 751.10 L39.64 751.09 L40.07 751.08 L40.51 751.06 L40.94 751.05 L41.38 751.04 L41.81 751.03 L42.25 751.02 L42.68 751.01 L43.12 750.99 L43.55 750.98 L43.99 750.97 L44.42 750.96 L44.86 750.95 L45.29 750.94 L45.73 750.93 L46.16 750.92 L46.59 750.91 L47.03 750.90 L47.46 750.89 L47.90 750.88 L48.33 750.87 L48.77 750.86 L49.20 750.85 L49.64 750.84 L50.07 750.82 L50.51 750.81 L50.94 750.80 L51.38 750.79 L51.81 750.79 L52.25 750.78 L52.68 750.77 L53.11 750.76 L53.55 750.75 L53.98 750.74 L54.42 750.74 L54.85 750.73 L55.29 750.72 L55.72 750.72 L56.16 750.71 L56.59 750.71 L57.03 750.70 L57.46 750.70 L57.90 750.69 L58.33 750.69 L58.77 750.69 L59.20 750.69 L59.63 750.69 L60.07 750.70 L60.50 750.72 L60.94 750.75 L61.37 750.80 L61.81 750.86 L62.24 750.93 L62.68 751.00 L63.11 751.08 L63.55 751.17 L63.98 751.26 L64.42 751.37 L64.85 751.53 L65.29 751.72 L65.72 751.95 L66.15 752.20 L66.59 752.48 L67.02 752.79 L67.46 753.11 L67.89 753.45 L68.33 753.79 L68.76 754.15 L69.20 754.51 L69.63 754.88 L70.07 755.27 L70.50 755.69 L70.94 756.13 L71.37 756.61 L71.81 757.10 L72.24 757.62 L72.67 758.16 L73.11 758.72 L73.54 759.30 L73.98 759.90 L74.41 760.51 L74.85 761.13 L75.28 761.77 L75.72 762.42 L76.15 763.08 L76.59 763.74 L77.02 764.42 L77.46 765.11 L77.89 765.83 L78.33 766.58 L78.76 767.36 L79.19 768.16 L79.63 768.99 L80.06 769.84 L80.50 770.71 L80.93 771.59 L81.37 772.49 L81.80 773.40 L82.24 774.32 L82.67 775.24 L83.11 776.18 L83.54 777.12 L83.98 778.06 L84.41 779.00 L84.85 779.95 L85.28 780.91 L85.71 781.88 L86.15 782.86 L86.58 783.86 L87.02 784.87 L87.45 785.89 L87.89 786.92 L88.32 787.97 L88.76 789.02 L89.19 790.09 L89.63 791.17 L90.06 792.26 L90.50 793.36 L90.93 794.47 L91.37 795.60 L91.80 796.73 L92.23 797.88 L92.67 799.05 L93.10 800.24 L93.54 801.44 L93.97 802.66 L94.41 803.89 L94.84 805.13 L95.28 806.39 L95.71 807.65 L96.15 808.93 L96.58 810.22 L97.02 811.51 L97.45 812.81 L97.89 814.12 L98.32 815.43 L98.75 816.75 L99.19 818.08 L99.62 819.41 L100.06 820.74 L100.49 822.09 L100.93 823.44 L101.36 824.80 L101.80 826.17 L102.23 827.56 L102.67 828.95 L103.10 830.36 L103.54 831.79 L103.97 833.23 L104.41 834.68 L104.84 836.16 L105.27 837.65 L105.71 839.16 L106.14 840.69 L106.58 842.24 L107.01 843.80 L107.45 845.38 L107.88 846.99 L108.32 848.61 L108.75 850.25 L109.19 851.90 L109.62 853.58 L110.06 855.28 L110.49 857.00 L110.93 858.73 L111.36 860.49 L111.79 862.27 L112.23 864.07 L112.66 865.89 L113.10 867.73 L113.53 869.61 L113.97 871.52 L114.40 873.46 L114.84 875.43 L115.27 877.43 L115.71 879.46 L116.14 881.52 L116.58 883.60 L117.01 885.70 L117.45 887.83 L117.88 889.97 L117.88 889.97 L118.10 922.29 L122.88 922.29 L123.10 940.31 L124.83 942.59 L127.44 945.45 L130.92 948.03 L132.22 949.46 L287.40 949.46" fill="none" stroke="#3333bb" stroke-width="0.80" stroke-linejoin="round" />
<path d="M26.60 749.97 L27.03 749.96 L27.47 749.94 L27.90 749.92 L28.34 749.90 L28.77 749.89 L29.21 749.87 L29.64 749.85 L30.08 749.84 L30.51 749.82 L30.95 749.80 L31.38 749.79 L31.82 749.77 L32.25 749.76 L32.69 749.74 L33.12 749.72 L33.55 749.71 L33.99 749.69 L34.42 749.68 L34.86 749.66 L35.29 749.65 L35.73 749.64 L36.16 749.62 L36.60 749.61 L37.03 749.59 L37.47 749.58 L37.90 749.57 L38.34 749.55 L38.77 749.54 L39.21 749.53 L39.64 749.51 L40.07 749.50 L40.51 749.49 L40.94 749.48 L41.38 749.47 L41.81 749.45 L42.25 749.44 L42.68 749.43 L43.12 749.42 L43.55 749.41 L43.99 749.40 L44.42 749.39 L44.86 749.38 L45.29 749.37 L45.73 749.36 L46.16 749.35 L46.59 749.34 L47.03 749.33 L47.46 749.32 L47.90 749.30 L48.33 749.29 L48.77 749.28 L49.20 749.27 L49.64 749.26 L50.07 749.25 L50.51 749.24 L50.94 749.23 L51.38 749.22 L51.81 749.21 L52.25 749.20 L52.68 749.19 L53.11 749.19 L53.55 749.18 L53.98 749.17 L54.42 749.16 L54.85 749.16 L55.29 749.15 L55.72 749.14 L56.16 749.14 L56.59 749.13 L57.03 749.13 L57.46 749.12 L57.90 749.12 L58.33 749.12 L58.77 749.12 L59.20 749.12 L59.63 749.12 L60.07 749.12 L60.50 749.14 L60.94 749.18 L61.37 749.23 L61.81 749.29 L62.24 749.35 L62.68 749.43 L63.11 749.51 L63.55 749.60 L63.98 749.69 L64.42 749.80 L64.85 749.96 L65.29 750.15 L65.72 750.37 L66.15 750.63 L66.59 750.91 L67.02 751.21 L67.46 751.54 L67.89 751.87 L68.33 752.22 L68.76 752.58 L69.20 752.94 L69.63 753.30 L70.07 753.69 L70.50 754.11 L70.94 754.56 L71.37 755.03 L71.81 755.53 L72.24 756.05 L72.67 756.59 L73.11 757.15 L73.54 757.73 L73.98 758.32 L74.41 758.94 L74.85 759.56 L75.28 760.20 L75.72 760.85 L76.15 761.50 L76.59 762.17 L77.02 762.84 L77.46 763.53 L77.89 764.26 L78.33 765.01 L78.76 765.79 L79.19 766.59 L79.63 767.42 L80.06 768.27 L80.50 769.13 L80.93 770.02 L81.37 770.91 L81.80 771.82 L82.24 772.74 L82.67 773.67 L83.11 774.61 L83.54 775.55 L83.98 776.49 L84.41 777.43 L84.85 778.38 L85.28 779.34 L85.71 780.31 L86.15 781.29 L86.58 782.29 L87.02 783.30 L87.45 784.32 L87.89 785.35 L88.32 786.39 L88.76 787.45 L89.19 788.52 L89.63 789.60 L90.06 790.69 L90.50 791.79 L90.93 792.90 L91.37 794.02 L91.80 795.16 L92.23 796.31 L92.67 797.48 L93.10 798.67 L93.54 799.87 L93.97 801.09 L94.41 802.32 L94.84 803.56 L95.28 804.81 L95.71 806.08 L96.15 807.36 L96.58 808.64 L97.02 809.94 L97.45 811.24 L97.89 812.55 L98.32 813.86 L98.75 815.18 L99.19 816.50 L99.62 817.83 L100.06 819.17 L100.49 820.51 L100.93 821.87 L101.36 823.23 L101.80 824.60 L102.23 825.98 L102.67 827.38 L103.10 828.79 L103.54 830.21 L103.97 831.65 L104.41 833.11 L104.84 834.58 L105.27 836.07 L105.71 837.58 L106.14 839.11 L106.58 840.66 L107.01 842.23 L107.45 843.81 L107.88 845.41 L108.32 847.03 L108.75 848.67 L109.19 850.33 L109.62 852.01 L110.06 853.71 L110.49 855.42 L110.93 857.16 L111.36 858.92 L111.79 860.69 L112.23 862.49 L112.66 864.31 L113.10 866.16 L113.53 868.03 L113.97 869.94 L114.40 871.88 L114.84 873.86 L115.27 875.86 L115.71 877.89 L116.14 879.94 L116.58 882.02 L117.01 884.13 L117.45 886.25 L117.88 888.40 L117.88 888.40 L118.10 930.73 L122.88 921.29 L123.10 938.73 L124.83 941.02 L127.44 943.88 L130.92 946.46 L132.22 947.60 L287.40 947.60" fill="none" stroke="#add8e6" stroke-width="1.80" stroke-linejoin="round" />
<path d="M26.60 751.12 L27.03 751.10 L27.47 751.08 L27.90 751.06 L28.34 751.05 L28.77 751.03 L29.21 751.01 L29.64 751.00 L30.08 750.98 L30.51 750.96 L30.95 750.95 L31.38 750.93 L31.82 750.92 L32.25 750.90 L32.69 750.88 L33.12 750.87 L33.55 750.85 L33.99 750.84 L34.42 750.82 L34.86 750.81 L35.29 750.79 L35.73 750.78 L36.16 750.76 L36.60 750.75 L37.03 750.74 L37.47 750.72 L37.90 750.71 L38.34 750.70 L38.77 750.68 L39.21 750.67 L39.64 750.66 L40.07 750.65 L40.51 750.63 L40.94 750.62 L41.38 750.61 L41.81 750.60 L42.25 750.59 L42.68 750.58 L43.12 750.57 L43.55 750.56 L43.99 750.55 L44.42 750.53 L44.86 750.52 L45.29 750.51 L45.73 750.50 L46.16 750.49 L46.59 750.48 L47.03 750.47 L47.46 750.46 L47.90 750.45 L48.33 750.44 L48.77 750.43 L49.20 750.42 L49.64 750.41 L50.07 750.40 L50.51 750.39 L50.94 750.38 L51.38 750.37 L51.81 750.36 L52.25 750.35 L52.68 750.34 L53.11 750.33 L53.55 750.32 L53.98 750.31 L54.42 750.31 L54.85 750.30 L55.29 750.29 L55.72 750.29 L56.16 750.28 L56.59 750.28 L57.03 750.27 L57.46 750.27 L57.90 750.26 L58.33 750.26 L58.77 750.26 L59.20 750.26 L59.63 750.26 L60.07 750.27 L60.50 750.29 L60.94 750.32 L61.37 750.37 L61.81 750.43 L62.24 750.50 L62.68 750.57 L63.11 750.65 L63.55 750.74 L63.98 750.83 L64.42 750.95 L64.85 751.10 L65.29 751.29 L65.72 751.52 L66.15 751.77 L66.59 752.05 L67.02 752.36 L67.46 752.68 L67.89 753.02 L68.33 753.37 L68.76 753.72 L69.20 754.08 L69.63 754.45 L70.07 754.84 L70.50 755.26 L70.94 755.70 L71.37 756.18 L71.81 756.67 L72.24 757.19 L72.67 757.73 L73.11 758.29 L73.54 758.87 L73.98 759.47 L74.41 760.08 L74.85 760.70 L75.28 761.34 L75.72 761.99 L76.15 762.65 L76.59 763.31 L77.02 763.99 L77.46 764.68 L77.89 765.40 L78.33 766.15 L78.76 766.93 L79.19 767.74 L79.63 768.56 L80.06 769.41 L80.50 770.28 L80.93 771.16 L81.37 772.06 L81.80 772.97 L82.24 773.89 L82.67 774.82 L83.11 775.75 L83.54 776.69 L83.98 777.63 L84.41 778.57 L84.85 779.52 L85.28 780.48 L85.71 781.45 L86.15 782.44 L86.58 783.43 L87.02 784.44 L87.45 785.46 L87.89 786.49 L88.32 787.54 L88.76 788.59 L89.19 789.66 L89.63 790.74 L90.06 791.83 L90.50 792.93 L90.93 794.04 L91.37 795.17 L91.80 796.30 L92.23 797.46 L92.67 798.63 L93.10 799.81 L93.54 801.01 L93.97 802.23 L94.41 803.46 L94.84 804.70 L95.28 805.96 L95.71 807.22 L96.15 808.50 L96.58 809.79 L97.02 811.08 L97.45 812.38 L97.89 813.69 L98.32 815.01 L98.75 816.32 L99.19 817.65 L99.62 818.98 L100.06 820.31 L100.49 821.66 L100.93 823.01 L101.36 824.37 L101.80 825.75 L102.23 827.13 L102.67 828.53 L103.10 829.93 L103.54 831.36 L103.97 832.80 L104.41 834.25 L104.84 835.73 L105.27 837.22 L105.71 838.73 L106.14 840.26 L106.58 841.81 L107.01 843.37 L107.45 844.96 L107.88 846.56 L108.32 848.18 L108.75 849.82 L109.19 851.47 L109.62 853.15 L110.06 854.85 L110.49 856.57 L110.93 858.30 L111.36 860.06 L111.79 861.84 L112.23 863.64 L112.66 865.46 L113.10 867.30 L113.53 869.18 L113.97 871.09 L114.40 873.03 L114.84 875.00 L115.27 877.00 L115.71 879.03 L116.14 881.09 L116.58 883.17 L117.01 885.27 L117.45 887.40 L117.88 889.54" fill="none" stroke="#a3cfe4" stroke-width="1.40" stroke-linejoin="round" />
<path d="M191.77 948.60 L192.86 948.57 L193.95 948.55 L195.03 948.55 L196.12 948.51 L197.21 948.46 L198.29 948.46 L199.38 948.48 L200.47 948.42 L201.55 948.34 L202.64 948.37 L203.73 948.41 L204.81 948.33 L205.90 948.23 L206.99 948.28 L208.07 948.34 L209.16 948.24 L210.25 948.12 L211.33 948.19 L212.42 948.28 L213.51 948.14 L214.59 948.00 L215.68 948.10 L216.77 948.21 L217.85 948.05 L218.94 947.89 L220.03 948.01 L221.11 948.14 L222.20 947.96 L223.29 947.78 L224.37 947.92 L225.46 948.07 L226.55 947.87 L227.63 947.66 L228.72 947.83 L229.81 948.00 L230.89 947.78 L231.98 947.55 L233.07 947.74 L234.15 947.93 L235.24 947.69 L236.33 947.43 L237.41 947.64 L238.50 947.87 L239.59 947.60 L240.67 947.32 L241.76 947.55 L242.85 947.80 L243.93 947.51 L245.02 947.21 L246.11 947.46 L247.19 947.73 L248.28 947.42 L249.37 947.09 L250.45 947.37 L251.54 947.66 L252.63 947.33 L253.71 946.98 L254.80 947.28 L255.89 947.59 L256.97 947.24 L258.06 946.87 L259.15 947.19 L260.23 947.53 L261.32 947.14 L262.41 946.75 L263.49 947.10 L264.58 947.46 L265.67 947.05 L266.75 946.64 L267.84 947.01 L268.93 947.39 L270.01 946.96 L271.10 946.52 L272.19 946.92 L273.27 947.32 L274.36 946.87 L275.45 946.41 L276.53 946.83 L277.62 947.25 L278.71 946.78 L279.79 946.30 L280.88 946.73 L281.97 947.18 L283.05 946.69 L284.14 946.18 L285.23 946.64 L286.31 947.12 L287.40 946.60" fill="none" stroke="#add8e6" stroke-width="0.90" stroke-linejoin="round" />
<path d="M135.27 948.60 L287.40 948.60" fill="none" stroke="#00008b" stroke-width="0.90" stroke-linejoin="round" stroke-dasharray="3 1.3"/>
<path d="M57.03 662.80 V949.60" stroke="#00ff00" stroke-width="2.00" stroke-opacity="0.50"/>
<text transform="translate(54.83 719.80) rotate(-90)" font-size="7.10" fill="#000">VC start</text>
<path d="M117.88 662.80 V949.60" stroke="#ff0000" stroke-width="2.00" stroke-opacity="0.40"/>
<text transform="translate(115.68 719.80) rotate(-90)" font-size="7.10" fill="#000">MDA start</text>
<path d="M130.92 662.80 V949.60" stroke="#006400" stroke-width="1.50" stroke-opacity="0.65"/>
<text transform="translate(128.72 719.80) rotate(-90)" font-size="7.10" fill="#000">VC end</text>
<path d="M43.86 752.69 V802.45" stroke="#3a3a3a" stroke-width="1.1"/>
<path d="M65.72 719.23 V736.67" stroke="#3a3a3a" stroke-width="1.1"/>
<path d="M82.24 790.73 V812.75" stroke="#3a3a3a" stroke-width="1.1"/>
<path d="M90.06 820.19 V847.07" stroke="#3a3a3a" stroke-width="1.1"/>
<path d="M113.10 887.40 V906.84" stroke="#3a3a3a" stroke-width="1.1"/>
<path d="M124.83 936.30 V946.88" stroke="#3a3a3a" stroke-width="1.1"/>
<path d="M139.44 938.30 V948.60" stroke="#3a3a3a" stroke-width="1.1"/>
<path d="M149.61 943.74 V948.60" stroke="#3a3a3a" stroke-width="1.1"/>
<path d="M171.78 939.16 V947.74" stroke="#3a3a3a" stroke-width="1.1"/>
<path d="M188.73 935.73 V948.60" stroke="#3a3a3a" stroke-width="1.1"/>
<circle cx="43.86" cy="776.43" r="3.30" fill="#8b0000"/>
<circle cx="65.72" cy="727.52" r="3.30" fill="#8b0000"/>
<circle cx="82.24" cy="801.88" r="3.30" fill="#8b0000"/>
<circle cx="90.06" cy="834.20" r="3.30" fill="#8b0000"/>
<circle cx="113.10" cy="897.98" r="3.30" fill="#8b0000"/>
<circle cx="124.83" cy="941.16" r="3.30" fill="#8b0000"/>
<circle cx="139.44" cy="948.03" r="3.30" fill="#8b0000"/>
<circle cx="149.61" cy="948.60" r="3.30" fill="#8b0000"/>
<circle cx="171.78" cy="944.31" r="3.30" fill="#8b0000"/>
<circle cx="188.73" cy="946.31" r="3.30" fill="#8b0000"/>
</g>
<path d="M26.50 662.40 V948.50 H287.80" fill="none" stroke="#444" stroke-width="1"/>
<path d="M26.00 948.60 h-1.7" stroke="#444" stroke-width="0.9"/>
<text x="23.20" y="951.80" font-size="7.60" text-anchor="end" fill="#111" class="tk">0</text>
<path d="M26.00 920.00 h-1.7" stroke="#444" stroke-width="0.9"/>
<text x="23.20" y="923.20" font-size="7.60" text-anchor="end" fill="#111" class="tk">10</text>
<path d="M26.00 891.40 h-1.7" stroke="#444" stroke-width="0.9"/>
<text x="23.20" y="894.60" font-size="7.60" text-anchor="end" fill="#111" class="tk">20</text>
<path d="M26.00 862.80 h-1.7" stroke="#444" stroke-width="0.9"/>
<text x="23.20" y="866.00" font-size="7.60" text-anchor="end" fill="#111" class="tk">30</text>
<path d="M26.00 834.20 h-1.7" stroke="#444" stroke-width="0.9"/>
<text x="23.20" y="837.40" font-size="7.60" text-anchor="end" fill="#111" class="tk">40</text>
<path d="M26.00 805.60 h-1.7" stroke="#444" stroke-width="0.9"/>
<text x="23.20" y="808.80" font-size="7.60" text-anchor="end" fill="#111" class="tk">50</text>
<path d="M26.00 777.00 h-1.7" stroke="#444" stroke-width="0.9"/>
<text x="23.20" y="780.20" font-size="7.60" text-anchor="end" fill="#111" class="tk">60</text>
<path d="M26.00 748.40 h-1.7" stroke="#444" stroke-width="0.9"/>
<text x="23.20" y="751.60" font-size="7.60" text-anchor="end" fill="#111" class="tk">70</text>
<path d="M26.00 719.80 h-1.7" stroke="#444" stroke-width="0.9"/>
<text x="23.20" y="723.00" font-size="7.60" text-anchor="end" fill="#111" class="tk">80</text>
<path d="M26.00 691.20 h-1.7" stroke="#444" stroke-width="0.9"/>
<text x="23.20" y="694.40" font-size="7.60" text-anchor="end" fill="#111" class="tk">90</text>
<path d="M26.00 662.60 h-1.7" stroke="#444" stroke-width="0.9"/>
<text x="23.20" y="665.80" font-size="7.60" text-anchor="end" fill="#111" class="tk">100</text>
<path d="M48.33 949.00 v1.7" stroke="#444" stroke-width="0.9"/>
<text x="48.33" y="957.85" font-size="7.60" text-anchor="middle" fill="#111" class="tk">1975</text>
<path d="M70.07 949.00 v1.7" stroke="#444" stroke-width="0.9"/>
<text x="70.07" y="957.85" font-size="7.60" text-anchor="middle" fill="#111" class="tk">1980</text>
<path d="M91.80 949.00 v1.7" stroke="#444" stroke-width="0.9"/>
<text x="91.80" y="957.85" font-size="7.60" text-anchor="middle" fill="#111" class="tk">1985</text>
<path d="M113.53 949.00 v1.7" stroke="#444" stroke-width="0.9"/>
<text x="113.53" y="957.85" font-size="7.60" text-anchor="middle" fill="#111" class="tk">1990</text>
<path d="M135.27 949.00 v1.7" stroke="#444" stroke-width="0.9"/>
<text x="135.27" y="957.85" font-size="7.60" text-anchor="middle" fill="#111" class="tk">1995</text>
<path d="M157.00 949.00 v1.7" stroke="#444" stroke-width="0.9"/>
<text x="157.00" y="957.85" font-size="7.60" text-anchor="middle" fill="#111" class="tk">2000</text>
<path d="M178.73 949.00 v1.7" stroke="#444" stroke-width="0.9"/>
<text x="178.73" y="957.85" font-size="7.60" text-anchor="middle" fill="#111" class="tk">2005</text>
<path d="M200.47 949.00 v1.7" stroke="#444" stroke-width="0.9"/>
<text x="200.47" y="957.85" font-size="7.60" text-anchor="middle" fill="#111" class="tk">2010</text>
<path d="M222.20 949.00 v1.7" stroke="#444" stroke-width="0.9"/>
<text x="222.20" y="957.85" font-size="7.60" text-anchor="middle" fill="#111" class="tk">2015</text>
<path d="M243.93 949.00 v1.7" stroke="#444" stroke-width="0.9"/>
<text x="243.93" y="957.85" font-size="7.60" text-anchor="middle" fill="#111" class="tk">2020</text>
<path d="M265.67 949.00 v1.7" stroke="#444" stroke-width="0.9"/>
<text x="265.67" y="957.85" font-size="7.60" text-anchor="middle" fill="#111" class="tk">2025</text>
<path d="M287.40 949.00 v1.7" stroke="#444" stroke-width="0.9"/>
<text x="287.40" y="957.85" font-size="7.60" text-anchor="middle" fill="#111" class="tk">2030</text>
<text x="156.50" y="967.90" font-size="8.80" text-anchor="middle" fill="#000" class="at">Year</text>
<text transform="translate(7.20 806.90) rotate(-90)" font-size="9.50" text-anchor="middle" fill="#000" class="at">Microfilarial prevalence (%)</text>
<text x="27.10" y="657.10" font-size="8.40" fill="#000">e. Savanes non−SIZ − 70% BMP, 100% VC efficacy</text>
<path d="M135.27 948.50 H287.80" stroke="#415163" stroke-width="1"/>
<circle cx="303.90" cy="806.00" r="3.3" fill="#8b0000"/>
<text x="313.20" y="808.20" font-size="5.85" fill="#000">Hyperendemic</text>
</svg>
</body></html>
